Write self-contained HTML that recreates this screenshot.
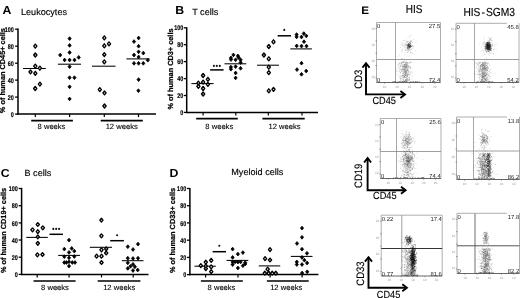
<!DOCTYPE html><html><head><meta charset="utf-8"><style>html,body{margin:0;padding:0;background:#fff;width:520px;height:298px;overflow:hidden}svg{display:block;filter:blur(0.45px)}text{font-family:"Liberation Sans",sans-serif;text-rendering:geometricPrecision}</style></head><body>
<svg width="520" height="298" viewBox="0 0 520 298">
<rect width="520" height="298" fill="#fff"/>
<line x1="18.0" y1="28.599999999999998" x2="18.0" y2="114.8" stroke="#000" stroke-width="1.5"/>
<line x1="17.3" y1="114.1" x2="156" y2="114.1" stroke="#000" stroke-width="1.5"/>
<line x1="15.1" y1="114.1" x2="18.0" y2="114.1" stroke="#000" stroke-width="1.3"/>
<text x="13.9" y="116.7" font-size="6.8" font-weight="bold" text-anchor="end" transform="translate(13.9,0) scale(0.8,1) translate(-13.9,0)" fill="#000" stroke="#000" stroke-width="0.15">0</text>
<line x1="15.1" y1="97.1" x2="18.0" y2="97.1" stroke="#000" stroke-width="1.3"/>
<text x="13.9" y="99.7" font-size="6.8" font-weight="bold" text-anchor="end" transform="translate(13.9,0) scale(0.8,1) translate(-13.9,0)" fill="#000" stroke="#000" stroke-width="0.15">20</text>
<line x1="15.1" y1="80.1" x2="18.0" y2="80.1" stroke="#000" stroke-width="1.3"/>
<text x="13.9" y="82.7" font-size="6.8" font-weight="bold" text-anchor="end" transform="translate(13.9,0) scale(0.8,1) translate(-13.9,0)" fill="#000" stroke="#000" stroke-width="0.15">40</text>
<line x1="15.1" y1="63.2" x2="18.0" y2="63.2" stroke="#000" stroke-width="1.3"/>
<text x="13.9" y="65.8" font-size="6.8" font-weight="bold" text-anchor="end" transform="translate(13.9,0) scale(0.8,1) translate(-13.9,0)" fill="#000" stroke="#000" stroke-width="0.15">60</text>
<line x1="15.1" y1="46.2" x2="18.0" y2="46.2" stroke="#000" stroke-width="1.3"/>
<text x="13.9" y="48.8" font-size="6.8" font-weight="bold" text-anchor="end" transform="translate(13.9,0) scale(0.8,1) translate(-13.9,0)" fill="#000" stroke="#000" stroke-width="0.15">80</text>
<line x1="15.1" y1="29.2" x2="18.0" y2="29.2" stroke="#000" stroke-width="1.3"/>
<text x="13.9" y="31.8" font-size="6.8" font-weight="bold" text-anchor="end" transform="translate(13.9,0) scale(0.8,1) translate(-13.9,0)" fill="#000" stroke="#000" stroke-width="0.15">100</text>
<line x1="35.3" y1="114.1" x2="35.3" y2="117.1" stroke="#000" stroke-width="1.2"/>
<line x1="69.6" y1="114.1" x2="69.6" y2="117.1" stroke="#000" stroke-width="1.2"/>
<line x1="104.3" y1="114.1" x2="104.3" y2="117.1" stroke="#000" stroke-width="1.2"/>
<line x1="138.5" y1="114.1" x2="138.5" y2="117.1" stroke="#000" stroke-width="1.2"/>
<line x1="31.2" y1="120.6" x2="72.9" y2="120.6" stroke="#000" stroke-width="1.7"/>
<text x="51.5" y="128.5" font-size="7.6" text-anchor="middle" fill="#000" stroke="#000" stroke-width="0.1">8 weeks</text>
<line x1="100.7" y1="120.6" x2="142.8" y2="120.6" stroke="#000" stroke-width="1.7"/>
<text x="121.7" y="128.5" font-size="7.6" text-anchor="middle" fill="#000" stroke="#000" stroke-width="0.1">12 weeks</text>
<text transform="translate(4.8,70.6) rotate(-90) scale(1.0,1)" font-size="7.35" font-weight="bold" text-anchor="middle" fill="#000" stroke="#000" stroke-width="0.22">% of human CD45+ cells</text>
<text transform="translate(2.6,14.0) scale(1.06,1)" font-size="11.6" font-weight="bold" fill="#000">A</text>
<text x="21" y="14.6" font-size="9.1" fill="#000" stroke="#000" stroke-width="0.15">Leukocytes</text>
<line x1="23" y1="68.5" x2="45.8" y2="68.5" stroke="#000" stroke-width="1.05"/>
<line x1="57.9" y1="64.2" x2="81" y2="64.2" stroke="#000" stroke-width="1.05"/>
<line x1="92" y1="66.2" x2="115.5" y2="66.2" stroke="#000" stroke-width="1.05"/>
<line x1="126.4" y1="58.9" x2="149.6" y2="58.9" stroke="#000" stroke-width="1.05"/>
<polygon points="35.3,44.1 36.9,46.1 35.3,48.1 33.7,46.1" fill="#fff" stroke="#000" stroke-width="1.35" stroke-linejoin="round"/>
<polygon points="35.3,53.0 36.9,55.0 35.3,57.0 33.7,55.0" fill="#fff" stroke="#000" stroke-width="1.35" stroke-linejoin="round"/>
<polygon points="35.3,64.2 36.9,66.2 35.3,68.2 33.7,66.2" fill="#fff" stroke="#000" stroke-width="1.35" stroke-linejoin="round"/>
<polygon points="39.9,66.2 41.5,68.2 39.9,70.2 38.3,68.2" fill="#fff" stroke="#000" stroke-width="1.35" stroke-linejoin="round"/>
<polygon points="30.5,70.0 32.1,71.9 30.5,73.9 28.9,71.9" fill="#fff" stroke="#000" stroke-width="1.35" stroke-linejoin="round"/>
<polygon points="35.3,71.3 36.9,73.3 35.3,75.2 33.7,73.3" fill="#fff" stroke="#000" stroke-width="1.35" stroke-linejoin="round"/>
<polygon points="39.9,82.1 41.5,84.1 39.9,86.0 38.3,84.1" fill="#fff" stroke="#000" stroke-width="1.35" stroke-linejoin="round"/>
<polygon points="35.2,86.5 36.8,88.5 35.2,90.5 33.6,88.5" fill="#fff" stroke="#000" stroke-width="1.35" stroke-linejoin="round"/>
<polygon points="104.3,35.9 105.9,37.9 104.3,39.9 102.7,37.9" fill="#fff" stroke="#000" stroke-width="1.35" stroke-linejoin="round"/>
<polygon points="104.3,43.8 105.9,45.8 104.3,47.8 102.7,45.8" fill="#fff" stroke="#000" stroke-width="1.35" stroke-linejoin="round"/>
<polygon points="109.0,41.9 110.6,43.9 109.0,45.9 107.4,43.9" fill="#fff" stroke="#000" stroke-width="1.35" stroke-linejoin="round"/>
<polygon points="104.3,52.8 105.9,54.7 104.3,56.7 102.7,54.7" fill="#fff" stroke="#000" stroke-width="1.35" stroke-linejoin="round"/>
<polygon points="104.3,59.9 105.9,61.9 104.3,63.9 102.7,61.9" fill="#fff" stroke="#000" stroke-width="1.35" stroke-linejoin="round"/>
<polygon points="99.8,87.6 101.4,89.6 99.8,91.5 98.2,89.6" fill="#fff" stroke="#000" stroke-width="1.35" stroke-linejoin="round"/>
<polygon points="104.5,91.0 106.1,92.9 104.5,94.9 102.9,92.9" fill="#fff" stroke="#000" stroke-width="1.35" stroke-linejoin="round"/>
<polygon points="104.5,104.0 106.1,106.0 104.5,108.0 102.9,106.0" fill="#fff" stroke="#000" stroke-width="1.35" stroke-linejoin="round"/>
<polygon points="69.6,36.7 71.2,38.6 69.6,40.5 68.0,38.6" fill="#000" stroke="#000" stroke-width="0.8" stroke-linejoin="round"/>
<polygon points="69.6,43.5 71.2,45.4 69.6,47.3 68.0,45.4" fill="#000" stroke="#000" stroke-width="0.8" stroke-linejoin="round"/>
<polygon points="69.6,50.6 71.2,52.5 69.6,54.4 68.0,52.5" fill="#000" stroke="#000" stroke-width="0.8" stroke-linejoin="round"/>
<polygon points="60.2,53.2 61.8,55.1 60.2,57.0 58.6,55.1" fill="#000" stroke="#000" stroke-width="0.8" stroke-linejoin="round"/>
<polygon points="64.6,58.1 66.2,60.0 64.6,61.9 63.0,60.0" fill="#000" stroke="#000" stroke-width="0.8" stroke-linejoin="round"/>
<polygon points="69.6,58.1 71.2,60.0 69.6,61.9 68.0,60.0" fill="#000" stroke="#000" stroke-width="0.8" stroke-linejoin="round"/>
<polygon points="74.5,58.1 76.1,60.0 74.5,61.9 72.9,60.0" fill="#000" stroke="#000" stroke-width="0.8" stroke-linejoin="round"/>
<polygon points="78.7,55.5 80.3,57.4 78.7,59.3 77.1,57.4" fill="#000" stroke="#000" stroke-width="0.8" stroke-linejoin="round"/>
<polygon points="69.6,64.8 71.2,66.7 69.6,68.6 68.0,66.7" fill="#000" stroke="#000" stroke-width="0.8" stroke-linejoin="round"/>
<polygon points="69.6,75.8 71.2,77.7 69.6,79.6 68.0,77.7" fill="#000" stroke="#000" stroke-width="0.8" stroke-linejoin="round"/>
<polygon points="74.4,75.8 76.0,77.7 74.4,79.6 72.8,77.7" fill="#000" stroke="#000" stroke-width="0.8" stroke-linejoin="round"/>
<polygon points="69.6,84.9 71.2,86.8 69.6,88.7 68.0,86.8" fill="#000" stroke="#000" stroke-width="0.8" stroke-linejoin="round"/>
<polygon points="69.6,97.0 71.2,98.9 69.6,100.8 68.0,98.9" fill="#000" stroke="#000" stroke-width="0.8" stroke-linejoin="round"/>
<polygon points="138.6,36.1 140.2,38.0 138.6,39.9 137.0,38.0" fill="#000" stroke="#000" stroke-width="0.8" stroke-linejoin="round"/>
<polygon points="134.0,39.7 135.6,41.6 134.0,43.5 132.4,41.6" fill="#000" stroke="#000" stroke-width="0.8" stroke-linejoin="round"/>
<polygon points="138.6,44.3 140.2,46.2 138.6,48.1 137.0,46.2" fill="#000" stroke="#000" stroke-width="0.8" stroke-linejoin="round"/>
<polygon points="138.6,49.9 140.2,51.8 138.6,53.7 137.0,51.8" fill="#000" stroke="#000" stroke-width="0.8" stroke-linejoin="round"/>
<polygon points="143.3,51.2 144.9,53.1 143.3,55.0 141.7,53.1" fill="#000" stroke="#000" stroke-width="0.8" stroke-linejoin="round"/>
<polygon points="134.0,53.1 135.6,55.0 134.0,56.9 132.4,55.0" fill="#000" stroke="#000" stroke-width="0.8" stroke-linejoin="round"/>
<polygon points="138.6,55.1 140.2,57.0 138.6,58.9 137.0,57.0" fill="#000" stroke="#000" stroke-width="0.8" stroke-linejoin="round"/>
<polygon points="147.8,58.3 149.4,60.2 147.8,62.1 146.2,60.2" fill="#000" stroke="#000" stroke-width="0.8" stroke-linejoin="round"/>
<polygon points="134.0,61.4 135.6,63.3 134.0,65.2 132.4,63.3" fill="#000" stroke="#000" stroke-width="0.8" stroke-linejoin="round"/>
<polygon points="138.6,61.4 140.2,63.3 138.6,65.2 137.0,63.3" fill="#000" stroke="#000" stroke-width="0.8" stroke-linejoin="round"/>
<polygon points="143.3,61.4 144.9,63.3 143.3,65.2 141.7,63.3" fill="#000" stroke="#000" stroke-width="0.8" stroke-linejoin="round"/>
<polygon points="138.6,77.7 140.2,79.6 138.6,81.5 137.0,79.6" fill="#000" stroke="#000" stroke-width="0.8" stroke-linejoin="round"/>
<polygon points="138.4,88.8 140.0,90.7 138.4,92.6 136.8,90.7" fill="#000" stroke="#000" stroke-width="0.8" stroke-linejoin="round"/>
<line x1="186.7" y1="27.2" x2="186.7" y2="113.10000000000001" stroke="#000" stroke-width="1.5"/>
<line x1="186.0" y1="112.4" x2="318" y2="112.4" stroke="#000" stroke-width="1.5"/>
<line x1="183.79999999999998" y1="112.4" x2="186.7" y2="112.4" stroke="#000" stroke-width="1.3"/>
<text x="183.4" y="115.0" font-size="6.8" font-weight="bold" text-anchor="end" transform="translate(183.4,0) scale(0.8,1) translate(-183.4,0)" fill="#000" stroke="#000" stroke-width="0.15">0</text>
<line x1="183.79999999999998" y1="95.5" x2="186.7" y2="95.5" stroke="#000" stroke-width="1.3"/>
<text x="183.4" y="98.1" font-size="6.8" font-weight="bold" text-anchor="end" transform="translate(183.4,0) scale(0.8,1) translate(-183.4,0)" fill="#000" stroke="#000" stroke-width="0.15">20</text>
<line x1="183.79999999999998" y1="78.6" x2="186.7" y2="78.6" stroke="#000" stroke-width="1.3"/>
<text x="183.4" y="81.2" font-size="6.8" font-weight="bold" text-anchor="end" transform="translate(183.4,0) scale(0.8,1) translate(-183.4,0)" fill="#000" stroke="#000" stroke-width="0.15">40</text>
<line x1="183.79999999999998" y1="61.6" x2="186.7" y2="61.6" stroke="#000" stroke-width="1.3"/>
<text x="183.4" y="64.2" font-size="6.8" font-weight="bold" text-anchor="end" transform="translate(183.4,0) scale(0.8,1) translate(-183.4,0)" fill="#000" stroke="#000" stroke-width="0.15">60</text>
<line x1="183.79999999999998" y1="44.7" x2="186.7" y2="44.7" stroke="#000" stroke-width="1.3"/>
<text x="183.4" y="47.3" font-size="6.8" font-weight="bold" text-anchor="end" transform="translate(183.4,0) scale(0.8,1) translate(-183.4,0)" fill="#000" stroke="#000" stroke-width="0.15">80</text>
<line x1="183.79999999999998" y1="27.8" x2="186.7" y2="27.8" stroke="#000" stroke-width="1.3"/>
<text x="183.4" y="30.4" font-size="6.8" font-weight="bold" text-anchor="end" transform="translate(183.4,0) scale(0.8,1) translate(-183.4,0)" fill="#000" stroke="#000" stroke-width="0.15">100</text>
<line x1="203.1" y1="112.4" x2="203.1" y2="115.4" stroke="#000" stroke-width="1.2"/>
<line x1="235.8" y1="112.4" x2="235.8" y2="115.4" stroke="#000" stroke-width="1.2"/>
<line x1="268.3" y1="112.4" x2="268.3" y2="115.4" stroke="#000" stroke-width="1.2"/>
<line x1="302.0" y1="112.4" x2="302.0" y2="115.4" stroke="#000" stroke-width="1.2"/>
<line x1="196.2" y1="118.7" x2="237.8" y2="118.7" stroke="#000" stroke-width="1.7"/>
<text x="219.3" y="128.8" font-size="7.6" text-anchor="middle" fill="#000" stroke="#000" stroke-width="0.1">8 weeks</text>
<line x1="262.4" y1="118.7" x2="304.7" y2="118.7" stroke="#000" stroke-width="1.7"/>
<text x="284.5" y="128.8" font-size="7.6" text-anchor="middle" fill="#000" stroke="#000" stroke-width="0.1">12 weeks</text>
<text transform="translate(173.4,69.0) rotate(-90) scale(1.0,1)" font-size="7.35" font-weight="bold" text-anchor="middle" fill="#000" stroke="#000" stroke-width="0.22">% of human CD3+ cells</text>
<text transform="translate(175.3,13.7) scale(1.06,1)" font-size="11.6" font-weight="bold" fill="#000">B</text>
<text x="192.2" y="14.5" font-size="9.1" fill="#000" stroke="#000" stroke-width="0.15">T cells</text>
<line x1="191.4" y1="83.6" x2="213.6" y2="83.6" stroke="#000" stroke-width="1.05"/>
<line x1="224.5" y1="63.8" x2="246.3" y2="63.8" stroke="#000" stroke-width="1.05"/>
<line x1="257.1" y1="65.2" x2="278.9" y2="65.2" stroke="#000" stroke-width="1.05"/>
<line x1="290.3" y1="48.9" x2="311.9" y2="48.9" stroke="#000" stroke-width="1.05"/>
<line x1="210.1" y1="69.9" x2="223.6" y2="69.9" stroke="#000" stroke-width="1.5"/>
<circle cx="213.9" cy="65.9" r="1.05" fill="#111"/>
<circle cx="216.8" cy="65.9" r="1.05" fill="#111"/>
<circle cx="219.8" cy="65.9" r="1.05" fill="#111"/>
<line x1="277.6" y1="35.8" x2="291.0" y2="35.8" stroke="#000" stroke-width="1.5"/>
<circle cx="284.3" cy="29.9" r="1.05" fill="#111"/>
<polygon points="203.1,73.5 204.7,75.5 203.1,77.5 201.5,75.5" fill="#fff" stroke="#000" stroke-width="1.35" stroke-linejoin="round"/>
<polygon points="207.9,77.3 209.5,79.3 207.9,81.2 206.3,79.3" fill="#fff" stroke="#000" stroke-width="1.35" stroke-linejoin="round"/>
<polygon points="203.1,80.1 204.7,82.1 203.1,84.0 201.5,82.1" fill="#fff" stroke="#000" stroke-width="1.35" stroke-linejoin="round"/>
<polygon points="198.4,81.1 200.0,83.1 198.4,85.0 196.8,83.1" fill="#fff" stroke="#000" stroke-width="1.35" stroke-linejoin="round"/>
<polygon points="207.9,82.5 209.5,84.4 207.9,86.4 206.3,84.4" fill="#fff" stroke="#000" stroke-width="1.35" stroke-linejoin="round"/>
<polygon points="198.4,84.3 200.0,86.3 198.4,88.2 196.8,86.3" fill="#fff" stroke="#000" stroke-width="1.35" stroke-linejoin="round"/>
<polygon points="203.1,86.5 204.7,88.5 203.1,90.5 201.5,88.5" fill="#fff" stroke="#000" stroke-width="1.35" stroke-linejoin="round"/>
<polygon points="203.1,92.0 204.7,94.0 203.1,96.0 201.5,94.0" fill="#fff" stroke="#000" stroke-width="1.35" stroke-linejoin="round"/>
<polygon points="273.5,39.8 275.1,41.8 273.5,43.8 271.9,41.8" fill="#fff" stroke="#000" stroke-width="1.35" stroke-linejoin="round"/>
<polygon points="268.8,44.5 270.4,46.5 268.8,48.5 267.2,46.5" fill="#fff" stroke="#000" stroke-width="1.35" stroke-linejoin="round"/>
<polygon points="263.9,53.0 265.5,55.0 263.9,57.0 262.3,55.0" fill="#fff" stroke="#000" stroke-width="1.35" stroke-linejoin="round"/>
<polygon points="268.8,56.8 270.4,58.8 268.8,60.8 267.2,58.8" fill="#fff" stroke="#000" stroke-width="1.35" stroke-linejoin="round"/>
<polygon points="268.8,65.2 270.4,67.2 268.8,69.2 267.2,67.2" fill="#fff" stroke="#000" stroke-width="1.35" stroke-linejoin="round"/>
<polygon points="268.8,70.6 270.4,72.6 268.8,74.5 267.2,72.6" fill="#fff" stroke="#000" stroke-width="1.35" stroke-linejoin="round"/>
<polygon points="273.5,87.5 275.1,89.4 273.5,91.4 271.9,89.4" fill="#fff" stroke="#000" stroke-width="1.35" stroke-linejoin="round"/>
<polygon points="268.8,88.8 270.4,90.8 268.8,92.8 267.2,90.8" fill="#fff" stroke="#000" stroke-width="1.35" stroke-linejoin="round"/>
<polygon points="233.4,53.0 235.0,54.9 233.4,56.8 231.8,54.9" fill="#000" stroke="#000" stroke-width="0.8" stroke-linejoin="round"/>
<polygon points="237.9,54.0 239.5,55.9 237.9,57.8 236.3,55.9" fill="#000" stroke="#000" stroke-width="0.8" stroke-linejoin="round"/>
<polygon points="230.9,56.0 232.5,57.9 230.9,59.8 229.3,57.9" fill="#000" stroke="#000" stroke-width="0.8" stroke-linejoin="round"/>
<polygon points="238.6,55.7 240.2,57.6 238.6,59.5 237.0,57.6" fill="#000" stroke="#000" stroke-width="0.8" stroke-linejoin="round"/>
<polygon points="231.0,57.7 232.6,59.6 231.0,61.5 229.4,59.6" fill="#000" stroke="#000" stroke-width="0.8" stroke-linejoin="round"/>
<polygon points="235.6,57.9 237.2,59.8 235.6,61.7 234.0,59.8" fill="#000" stroke="#000" stroke-width="0.8" stroke-linejoin="round"/>
<polygon points="240.6,57.9 242.2,59.8 240.6,61.7 239.0,59.8" fill="#000" stroke="#000" stroke-width="0.8" stroke-linejoin="round"/>
<polygon points="240.6,60.6 242.2,62.5 240.6,64.4 239.0,62.5" fill="#000" stroke="#000" stroke-width="0.8" stroke-linejoin="round"/>
<polygon points="230.9,65.2 232.5,67.1 230.9,69.0 229.3,67.1" fill="#000" stroke="#000" stroke-width="0.8" stroke-linejoin="round"/>
<polygon points="230.9,67.3 232.5,69.2 230.9,71.1 229.3,69.2" fill="#000" stroke="#000" stroke-width="0.8" stroke-linejoin="round"/>
<polygon points="235.6,64.7 237.2,66.6 235.6,68.5 234.0,66.6" fill="#000" stroke="#000" stroke-width="0.8" stroke-linejoin="round"/>
<polygon points="240.6,66.4 242.2,68.3 240.6,70.2 239.0,68.3" fill="#000" stroke="#000" stroke-width="0.8" stroke-linejoin="round"/>
<polygon points="235.6,71.1 237.2,73.0 235.6,74.9 234.0,73.0" fill="#000" stroke="#000" stroke-width="0.8" stroke-linejoin="round"/>
<polygon points="235.6,76.0 237.2,77.9 235.6,79.8 234.0,77.9" fill="#000" stroke="#000" stroke-width="0.8" stroke-linejoin="round"/>
<polygon points="296.6,32.7 298.2,34.6 296.6,36.5 295.0,34.6" fill="#000" stroke="#000" stroke-width="0.8" stroke-linejoin="round"/>
<polygon points="296.6,35.0 298.2,36.9 296.6,38.8 295.0,36.9" fill="#000" stroke="#000" stroke-width="0.8" stroke-linejoin="round"/>
<polygon points="301.5,35.1 303.1,37.0 301.5,38.9 299.9,37.0" fill="#000" stroke="#000" stroke-width="0.8" stroke-linejoin="round"/>
<polygon points="303.8,31.7 305.4,33.6 303.8,35.5 302.2,33.6" fill="#000" stroke="#000" stroke-width="0.8" stroke-linejoin="round"/>
<polygon points="306.3,34.0 307.9,35.9 306.3,37.8 304.7,35.9" fill="#000" stroke="#000" stroke-width="0.8" stroke-linejoin="round"/>
<polygon points="304.0,39.8 305.6,41.7 304.0,43.6 302.4,41.7" fill="#000" stroke="#000" stroke-width="0.8" stroke-linejoin="round"/>
<polygon points="296.7,44.0 298.3,45.9 296.7,47.8 295.1,45.9" fill="#000" stroke="#000" stroke-width="0.8" stroke-linejoin="round"/>
<polygon points="301.5,44.2 303.1,46.1 301.5,48.0 299.9,46.1" fill="#000" stroke="#000" stroke-width="0.8" stroke-linejoin="round"/>
<polygon points="306.5,44.2 308.1,46.1 306.5,48.0 304.9,46.1" fill="#000" stroke="#000" stroke-width="0.8" stroke-linejoin="round"/>
<polygon points="301.5,61.3 303.1,63.2 301.5,65.1 299.9,63.2" fill="#000" stroke="#000" stroke-width="0.8" stroke-linejoin="round"/>
<polygon points="297.0,67.7 298.6,69.6 297.0,71.5 295.4,69.6" fill="#000" stroke="#000" stroke-width="0.8" stroke-linejoin="round"/>
<polygon points="306.2,69.1 307.8,71.0 306.2,72.9 304.6,71.0" fill="#000" stroke="#000" stroke-width="0.8" stroke-linejoin="round"/>
<polygon points="301.5,72.4 303.1,74.3 301.5,76.2 299.9,74.3" fill="#000" stroke="#000" stroke-width="0.8" stroke-linejoin="round"/>
<line x1="21.6" y1="187.9" x2="21.6" y2="275.09999999999997" stroke="#000" stroke-width="1.5"/>
<line x1="20.900000000000002" y1="274.4" x2="148.5" y2="274.4" stroke="#000" stroke-width="1.5"/>
<line x1="18.700000000000003" y1="274.4" x2="21.6" y2="274.4" stroke="#000" stroke-width="1.3"/>
<text x="17.9" y="277.0" font-size="6.8" font-weight="bold" text-anchor="end" transform="translate(17.9,0) scale(0.8,1) translate(-17.9,0)" fill="#000" stroke="#000" stroke-width="0.15">0</text>
<line x1="18.700000000000003" y1="257.2" x2="21.6" y2="257.2" stroke="#000" stroke-width="1.3"/>
<text x="17.9" y="259.8" font-size="6.8" font-weight="bold" text-anchor="end" transform="translate(17.9,0) scale(0.8,1) translate(-17.9,0)" fill="#000" stroke="#000" stroke-width="0.15">20</text>
<line x1="18.700000000000003" y1="240.0" x2="21.6" y2="240.0" stroke="#000" stroke-width="1.3"/>
<text x="17.9" y="242.6" font-size="6.8" font-weight="bold" text-anchor="end" transform="translate(17.9,0) scale(0.8,1) translate(-17.9,0)" fill="#000" stroke="#000" stroke-width="0.15">40</text>
<line x1="18.700000000000003" y1="222.9" x2="21.6" y2="222.9" stroke="#000" stroke-width="1.3"/>
<text x="17.9" y="225.5" font-size="6.8" font-weight="bold" text-anchor="end" transform="translate(17.9,0) scale(0.8,1) translate(-17.9,0)" fill="#000" stroke="#000" stroke-width="0.15">60</text>
<line x1="18.700000000000003" y1="205.7" x2="21.6" y2="205.7" stroke="#000" stroke-width="1.3"/>
<text x="17.9" y="208.3" font-size="6.8" font-weight="bold" text-anchor="end" transform="translate(17.9,0) scale(0.8,1) translate(-17.9,0)" fill="#000" stroke="#000" stroke-width="0.15">80</text>
<line x1="18.700000000000003" y1="188.5" x2="21.6" y2="188.5" stroke="#000" stroke-width="1.3"/>
<text x="17.9" y="191.1" font-size="6.8" font-weight="bold" text-anchor="end" transform="translate(17.9,0) scale(0.8,1) translate(-17.9,0)" fill="#000" stroke="#000" stroke-width="0.15">100</text>
<line x1="37.2" y1="274.4" x2="37.2" y2="277.4" stroke="#000" stroke-width="1.2"/>
<line x1="69.1" y1="274.4" x2="69.1" y2="277.4" stroke="#000" stroke-width="1.2"/>
<line x1="101.5" y1="274.4" x2="101.5" y2="277.4" stroke="#000" stroke-width="1.2"/>
<line x1="133.2" y1="274.4" x2="133.2" y2="277.4" stroke="#000" stroke-width="1.2"/>
<line x1="33.5" y1="281.0" x2="75.6" y2="281.0" stroke="#000" stroke-width="1.7"/>
<text x="55.0" y="289.9" font-size="7.6" text-anchor="middle" fill="#000" stroke="#000" stroke-width="0.1">8 weeks</text>
<line x1="97.7" y1="281.0" x2="140.4" y2="281.0" stroke="#000" stroke-width="1.7"/>
<text x="119.2" y="289.9" font-size="7.6" text-anchor="middle" fill="#000" stroke="#000" stroke-width="0.1">12 weeks</text>
<text transform="translate(5.6,230.4) rotate(-90) scale(1.0,1)" font-size="7.35" font-weight="bold" text-anchor="middle" fill="#000" stroke="#000" stroke-width="0.22">% of human CD19+ cells</text>
<text transform="translate(0.8,177.0) scale(1.06,1)" font-size="11.6" font-weight="bold" fill="#000">C</text>
<text x="24.5" y="175.5" font-size="9.1" fill="#000" stroke="#000" stroke-width="0.15">B cells</text>
<line x1="26.3" y1="237.4" x2="47.8" y2="237.4" stroke="#000" stroke-width="1.05"/>
<line x1="58.2" y1="255.4" x2="80.0" y2="255.4" stroke="#000" stroke-width="1.05"/>
<line x1="89.8" y1="247.3" x2="112.0" y2="247.3" stroke="#000" stroke-width="1.05"/>
<line x1="121.8" y1="260.7" x2="143.5" y2="260.7" stroke="#000" stroke-width="1.05"/>
<line x1="49.5" y1="234.3" x2="62.9" y2="234.3" stroke="#000" stroke-width="1.5"/>
<circle cx="53.3" cy="228.9" r="1.05" fill="#111"/>
<circle cx="56.2" cy="228.9" r="1.05" fill="#111"/>
<circle cx="59.1" cy="228.9" r="1.05" fill="#111"/>
<line x1="110.2" y1="240.7" x2="123.9" y2="240.7" stroke="#000" stroke-width="1.5"/>
<circle cx="117.1" cy="235.3" r="1.05" fill="#111"/>
<polygon points="37.8,222.6 39.4,224.5 37.8,226.4 36.2,224.5" fill="#fff" stroke="#000" stroke-width="1.35" stroke-linejoin="round"/>
<polygon points="42.8,225.9 44.4,227.8 42.8,229.8 41.2,227.8" fill="#fff" stroke="#000" stroke-width="1.35" stroke-linejoin="round"/>
<polygon points="32.5,227.9 34.1,229.8 32.5,231.8 30.9,229.8" fill="#fff" stroke="#000" stroke-width="1.35" stroke-linejoin="round"/>
<polygon points="37.8,229.7 39.4,231.6 37.8,233.5 36.2,231.6" fill="#fff" stroke="#000" stroke-width="1.35" stroke-linejoin="round"/>
<polygon points="37.8,235.0 39.4,236.9 37.8,238.8 36.2,236.9" fill="#fff" stroke="#000" stroke-width="1.35" stroke-linejoin="round"/>
<polygon points="37.8,241.4 39.4,243.3 37.8,245.2 36.2,243.3" fill="#fff" stroke="#000" stroke-width="1.35" stroke-linejoin="round"/>
<polygon points="37.4,252.9 39.0,254.8 37.4,256.8 35.8,254.8" fill="#fff" stroke="#000" stroke-width="1.35" stroke-linejoin="round"/>
<polygon points="42.5,252.6 44.1,254.5 42.5,256.4 40.9,254.5" fill="#fff" stroke="#000" stroke-width="1.35" stroke-linejoin="round"/>
<polygon points="101.4,218.2 103.0,220.1 101.4,222.0 99.8,220.1" fill="#fff" stroke="#000" stroke-width="1.35" stroke-linejoin="round"/>
<polygon points="101.4,233.9 103.0,235.8 101.4,237.8 99.8,235.8" fill="#fff" stroke="#000" stroke-width="1.35" stroke-linejoin="round"/>
<polygon points="101.5,247.9 103.1,249.8 101.5,251.8 99.9,249.8" fill="#fff" stroke="#000" stroke-width="1.35" stroke-linejoin="round"/>
<polygon points="106.2,247.0 107.8,248.9 106.2,250.8 104.6,248.9" fill="#fff" stroke="#000" stroke-width="1.35" stroke-linejoin="round"/>
<polygon points="106.2,251.1 107.8,253.0 106.2,254.9 104.6,253.0" fill="#fff" stroke="#000" stroke-width="1.35" stroke-linejoin="round"/>
<polygon points="96.6,254.2 98.2,256.2 96.6,258.1 95.0,256.2" fill="#fff" stroke="#000" stroke-width="1.35" stroke-linejoin="round"/>
<polygon points="101.5,254.2 103.1,256.2 101.5,258.1 99.9,256.2" fill="#fff" stroke="#000" stroke-width="1.35" stroke-linejoin="round"/>
<polygon points="101.5,260.6 103.1,262.5 101.5,264.4 99.9,262.5" fill="#fff" stroke="#000" stroke-width="1.35" stroke-linejoin="round"/>
<polygon points="69.0,238.2 70.6,240.1 69.0,242.0 67.4,240.1" fill="#000" stroke="#000" stroke-width="0.8" stroke-linejoin="round"/>
<polygon points="64.3,247.2 65.9,249.1 64.3,251.0 62.7,249.1" fill="#000" stroke="#000" stroke-width="0.8" stroke-linejoin="round"/>
<polygon points="71.7,246.5 73.3,248.4 71.7,250.3 70.1,248.4" fill="#000" stroke="#000" stroke-width="0.8" stroke-linejoin="round"/>
<polygon points="74.3,249.2 75.9,251.1 74.3,253.0 72.7,251.1" fill="#000" stroke="#000" stroke-width="0.8" stroke-linejoin="round"/>
<polygon points="69.0,250.5 70.6,252.4 69.0,254.3 67.4,252.4" fill="#000" stroke="#000" stroke-width="0.8" stroke-linejoin="round"/>
<polygon points="64.3,254.8 65.9,256.7 64.3,258.6 62.7,256.7" fill="#000" stroke="#000" stroke-width="0.8" stroke-linejoin="round"/>
<polygon points="69.0,255.9 70.6,257.8 69.0,259.7 67.4,257.8" fill="#000" stroke="#000" stroke-width="0.8" stroke-linejoin="round"/>
<polygon points="74.3,254.6 75.9,256.5 74.3,258.4 72.7,256.5" fill="#000" stroke="#000" stroke-width="0.8" stroke-linejoin="round"/>
<polygon points="64.3,260.6 65.9,262.5 64.3,264.4 62.7,262.5" fill="#000" stroke="#000" stroke-width="0.8" stroke-linejoin="round"/>
<polygon points="66.4,260.6 68.0,262.5 66.4,264.4 64.8,262.5" fill="#000" stroke="#000" stroke-width="0.8" stroke-linejoin="round"/>
<polygon points="69.0,259.9 70.6,261.8 69.0,263.7 67.4,261.8" fill="#000" stroke="#000" stroke-width="0.8" stroke-linejoin="round"/>
<polygon points="72.3,260.6 73.9,262.5 72.3,264.4 70.7,262.5" fill="#000" stroke="#000" stroke-width="0.8" stroke-linejoin="round"/>
<polygon points="75.0,260.6 76.6,262.5 75.0,264.4 73.4,262.5" fill="#000" stroke="#000" stroke-width="0.8" stroke-linejoin="round"/>
<polygon points="69.0,264.2 70.6,266.1 69.0,268.0 67.4,266.1" fill="#000" stroke="#000" stroke-width="0.8" stroke-linejoin="round"/>
<polygon points="127.8,244.8 129.4,246.7 127.8,248.6 126.2,246.7" fill="#000" stroke="#000" stroke-width="0.8" stroke-linejoin="round"/>
<polygon points="133.0,247.6 134.6,249.5 133.0,251.4 131.4,249.5" fill="#000" stroke="#000" stroke-width="0.8" stroke-linejoin="round"/>
<polygon points="138.0,242.2 139.6,244.1 138.0,246.0 136.4,244.1" fill="#000" stroke="#000" stroke-width="0.8" stroke-linejoin="round"/>
<polygon points="127.8,256.3 129.4,258.2 127.8,260.1 126.2,258.2" fill="#000" stroke="#000" stroke-width="0.8" stroke-linejoin="round"/>
<polygon points="133.0,256.6 134.6,258.5 133.0,260.4 131.4,258.5" fill="#000" stroke="#000" stroke-width="0.8" stroke-linejoin="round"/>
<polygon points="138.0,256.3 139.6,258.2 138.0,260.1 136.4,258.2" fill="#000" stroke="#000" stroke-width="0.8" stroke-linejoin="round"/>
<polygon points="127.8,260.9 129.4,262.8 127.8,264.7 126.2,262.8" fill="#000" stroke="#000" stroke-width="0.8" stroke-linejoin="round"/>
<polygon points="133.0,262.4 134.6,264.3 133.0,266.2 131.4,264.3" fill="#000" stroke="#000" stroke-width="0.8" stroke-linejoin="round"/>
<polygon points="130.5,264.4 132.1,266.3 130.5,268.2 128.9,266.3" fill="#000" stroke="#000" stroke-width="0.8" stroke-linejoin="round"/>
<polygon points="127.8,266.5 129.4,268.4 127.8,270.3 126.2,268.4" fill="#000" stroke="#000" stroke-width="0.8" stroke-linejoin="round"/>
<polygon points="134.9,264.9 136.5,266.8 134.9,268.7 133.3,266.8" fill="#000" stroke="#000" stroke-width="0.8" stroke-linejoin="round"/>
<polygon points="133.0,268.6 134.6,270.5 133.0,272.4 131.4,270.5" fill="#000" stroke="#000" stroke-width="0.8" stroke-linejoin="round"/>
<polygon points="137.7,268.1 139.3,270.0 137.7,271.9 136.1,270.0" fill="#000" stroke="#000" stroke-width="0.8" stroke-linejoin="round"/>
<line x1="189.9" y1="187.9" x2="189.9" y2="275.3" stroke="#000" stroke-width="1.5"/>
<line x1="189.20000000000002" y1="274.6" x2="318.4" y2="274.6" stroke="#000" stroke-width="1.5"/>
<line x1="187.0" y1="274.6" x2="189.9" y2="274.6" stroke="#000" stroke-width="1.3"/>
<text x="186.2" y="277.2" font-size="6.8" font-weight="bold" text-anchor="end" transform="translate(186.2,0) scale(0.8,1) translate(-186.2,0)" fill="#000" stroke="#000" stroke-width="0.15">0</text>
<line x1="187.0" y1="257.4" x2="189.9" y2="257.4" stroke="#000" stroke-width="1.3"/>
<text x="186.2" y="260.0" font-size="6.8" font-weight="bold" text-anchor="end" transform="translate(186.2,0) scale(0.8,1) translate(-186.2,0)" fill="#000" stroke="#000" stroke-width="0.15">20</text>
<line x1="187.0" y1="240.2" x2="189.9" y2="240.2" stroke="#000" stroke-width="1.3"/>
<text x="186.2" y="242.8" font-size="6.8" font-weight="bold" text-anchor="end" transform="translate(186.2,0) scale(0.8,1) translate(-186.2,0)" fill="#000" stroke="#000" stroke-width="0.15">40</text>
<line x1="187.0" y1="222.9" x2="189.9" y2="222.9" stroke="#000" stroke-width="1.3"/>
<text x="186.2" y="225.5" font-size="6.8" font-weight="bold" text-anchor="end" transform="translate(186.2,0) scale(0.8,1) translate(-186.2,0)" fill="#000" stroke="#000" stroke-width="0.15">60</text>
<line x1="187.0" y1="205.7" x2="189.9" y2="205.7" stroke="#000" stroke-width="1.3"/>
<text x="186.2" y="208.3" font-size="6.8" font-weight="bold" text-anchor="end" transform="translate(186.2,0) scale(0.8,1) translate(-186.2,0)" fill="#000" stroke="#000" stroke-width="0.15">80</text>
<line x1="187.0" y1="188.5" x2="189.9" y2="188.5" stroke="#000" stroke-width="1.3"/>
<text x="186.2" y="191.1" font-size="6.8" font-weight="bold" text-anchor="end" transform="translate(186.2,0) scale(0.8,1) translate(-186.2,0)" fill="#000" stroke="#000" stroke-width="0.15">100</text>
<line x1="205.6" y1="274.6" x2="205.6" y2="277.6" stroke="#000" stroke-width="1.2"/>
<line x1="238.0" y1="274.6" x2="238.0" y2="277.6" stroke="#000" stroke-width="1.2"/>
<line x1="270.1" y1="274.6" x2="270.1" y2="277.6" stroke="#000" stroke-width="1.2"/>
<line x1="302.1" y1="274.6" x2="302.1" y2="277.6" stroke="#000" stroke-width="1.2"/>
<line x1="200.9" y1="281.0" x2="242.8" y2="281.0" stroke="#000" stroke-width="1.7"/>
<text x="221.5" y="289.9" font-size="7.6" text-anchor="middle" fill="#000" stroke="#000" stroke-width="0.1">8 weeks</text>
<line x1="266.9" y1="281.0" x2="308.7" y2="281.0" stroke="#000" stroke-width="1.7"/>
<text x="286.2" y="289.9" font-size="7.6" text-anchor="middle" fill="#000" stroke="#000" stroke-width="0.1">12 weeks</text>
<text transform="translate(174.8,230.5) rotate(-90) scale(1.0,1)" font-size="7.35" font-weight="bold" text-anchor="middle" fill="#000" stroke="#000" stroke-width="0.22">% of human CD33+ cells</text>
<text transform="translate(169.6,177.0) scale(1.06,1)" font-size="11.6" font-weight="bold" fill="#000">D</text>
<text x="231.3" y="175.4" font-size="9.1" fill="#000" stroke="#000" stroke-width="0.15">Myeloid cells</text>
<line x1="194.5" y1="266.2" x2="215.8" y2="266.2" stroke="#000" stroke-width="1.05"/>
<line x1="226.5" y1="260.4" x2="248.3" y2="260.4" stroke="#000" stroke-width="1.05"/>
<line x1="258.8" y1="265.9" x2="280.2" y2="265.9" stroke="#000" stroke-width="1.05"/>
<line x1="290.8" y1="256.4" x2="312.5" y2="256.4" stroke="#000" stroke-width="1.05"/>
<line x1="212.6" y1="251.7" x2="226.0" y2="251.7" stroke="#000" stroke-width="1.5"/>
<circle cx="219.3" cy="245.8" r="1.05" fill="#111"/>
<polygon points="211.2,258.4 212.8,260.4 211.2,262.3 209.6,260.4" fill="#fff" stroke="#000" stroke-width="1.35" stroke-linejoin="round"/>
<polygon points="205.8,260.2 207.4,262.1 205.8,264.1 204.2,262.1" fill="#fff" stroke="#000" stroke-width="1.35" stroke-linejoin="round"/>
<polygon points="200.8,263.7 202.4,265.6 200.8,267.6 199.2,265.6" fill="#fff" stroke="#000" stroke-width="1.35" stroke-linejoin="round"/>
<polygon points="211.2,264.9 212.8,266.8 211.2,268.8 209.6,266.8" fill="#fff" stroke="#000" stroke-width="1.35" stroke-linejoin="round"/>
<polygon points="205.8,266.7 207.4,268.6 205.8,270.6 204.2,268.6" fill="#fff" stroke="#000" stroke-width="1.35" stroke-linejoin="round"/>
<polygon points="211.2,269.7 212.8,271.6 211.2,273.6 209.6,271.6" fill="#fff" stroke="#000" stroke-width="1.35" stroke-linejoin="round"/>
<polygon points="205.8,264.1 207.4,266.0 205.8,267.9 204.2,266.0" fill="#fff" stroke="#000" stroke-width="1.35" stroke-linejoin="round"/>
<polygon points="270.0,247.7 271.6,249.6 270.0,251.5 268.4,249.6" fill="#fff" stroke="#000" stroke-width="1.35" stroke-linejoin="round"/>
<polygon points="265.1,256.7 266.7,258.6 265.1,260.6 263.5,258.6" fill="#fff" stroke="#000" stroke-width="1.35" stroke-linejoin="round"/>
<polygon points="270.0,258.1 271.6,260.0 270.0,261.9 268.4,260.0" fill="#fff" stroke="#000" stroke-width="1.35" stroke-linejoin="round"/>
<polygon points="267.7,267.2 269.3,269.2 267.7,271.1 266.1,269.2" fill="#fff" stroke="#000" stroke-width="1.35" stroke-linejoin="round"/>
<polygon points="264.8,271.2 266.4,273.1 264.8,275.1 263.2,273.1" fill="#fff" stroke="#000" stroke-width="1.35" stroke-linejoin="round"/>
<polygon points="268.7,271.2 270.3,273.1 268.7,275.1 267.1,273.1" fill="#fff" stroke="#000" stroke-width="1.35" stroke-linejoin="round"/>
<polygon points="272.2,271.2 273.8,273.1 272.2,275.1 270.6,273.1" fill="#fff" stroke="#000" stroke-width="1.35" stroke-linejoin="round"/>
<polygon points="275.8,271.2 277.4,273.1 275.8,275.1 274.2,273.1" fill="#fff" stroke="#000" stroke-width="1.35" stroke-linejoin="round"/>
<polygon points="232.6,247.2 234.2,249.1 232.6,251.0 231.0,249.1" fill="#000" stroke="#000" stroke-width="0.8" stroke-linejoin="round"/>
<polygon points="237.9,252.2 239.5,254.1 237.9,256.0 236.3,254.1" fill="#000" stroke="#000" stroke-width="0.8" stroke-linejoin="round"/>
<polygon points="242.9,250.7 244.5,252.6 242.9,254.5 241.3,252.6" fill="#000" stroke="#000" stroke-width="0.8" stroke-linejoin="round"/>
<polygon points="232.6,255.5 234.2,257.4 232.6,259.3 231.0,257.4" fill="#000" stroke="#000" stroke-width="0.8" stroke-linejoin="round"/>
<polygon points="232.6,260.0 234.2,261.9 232.6,263.8 231.0,261.9" fill="#000" stroke="#000" stroke-width="0.8" stroke-linejoin="round"/>
<polygon points="235.1,260.0 236.7,261.9 235.1,263.8 233.5,261.9" fill="#000" stroke="#000" stroke-width="0.8" stroke-linejoin="round"/>
<polygon points="237.9,260.2 239.5,262.1 237.9,264.0 236.3,262.1" fill="#000" stroke="#000" stroke-width="0.8" stroke-linejoin="round"/>
<polygon points="240.6,260.0 242.2,261.9 240.6,263.8 239.0,261.9" fill="#000" stroke="#000" stroke-width="0.8" stroke-linejoin="round"/>
<polygon points="245.2,260.7 246.8,262.6 245.2,264.5 243.6,262.6" fill="#000" stroke="#000" stroke-width="0.8" stroke-linejoin="round"/>
<polygon points="232.6,262.7 234.2,264.6 232.6,266.5 231.0,264.6" fill="#000" stroke="#000" stroke-width="0.8" stroke-linejoin="round"/>
<polygon points="242.9,263.8 244.5,265.7 242.9,267.6 241.3,265.7" fill="#000" stroke="#000" stroke-width="0.8" stroke-linejoin="round"/>
<polygon points="237.9,266.1 239.5,268.0 237.9,269.9 236.3,268.0" fill="#000" stroke="#000" stroke-width="0.8" stroke-linejoin="round"/>
<polygon points="245.2,262.1 246.8,264.0 245.2,265.9 243.6,264.0" fill="#000" stroke="#000" stroke-width="0.8" stroke-linejoin="round"/>
<polygon points="302.0,226.2 303.6,228.1 302.0,230.0 300.4,228.1" fill="#000" stroke="#000" stroke-width="0.8" stroke-linejoin="round"/>
<polygon points="302.0,235.4 303.6,237.3 302.0,239.2 300.4,237.3" fill="#000" stroke="#000" stroke-width="0.8" stroke-linejoin="round"/>
<polygon points="297.0,241.6 298.6,243.5 297.0,245.4 295.4,243.5" fill="#000" stroke="#000" stroke-width="0.8" stroke-linejoin="round"/>
<polygon points="302.0,247.3 303.6,249.2 302.0,251.1 300.4,249.2" fill="#000" stroke="#000" stroke-width="0.8" stroke-linejoin="round"/>
<polygon points="307.0,251.4 308.6,253.3 307.0,255.2 305.4,253.3" fill="#000" stroke="#000" stroke-width="0.8" stroke-linejoin="round"/>
<polygon points="302.0,255.6 303.6,257.5 302.0,259.4 300.4,257.5" fill="#000" stroke="#000" stroke-width="0.8" stroke-linejoin="round"/>
<polygon points="304.4,258.3 306.0,260.2 304.4,262.1 302.8,260.2" fill="#000" stroke="#000" stroke-width="0.8" stroke-linejoin="round"/>
<polygon points="296.8,260.0 298.4,261.9 296.8,263.8 295.2,261.9" fill="#000" stroke="#000" stroke-width="0.8" stroke-linejoin="round"/>
<polygon points="296.8,262.6 298.4,264.5 296.8,266.4 295.2,264.5" fill="#000" stroke="#000" stroke-width="0.8" stroke-linejoin="round"/>
<polygon points="302.0,262.6 303.6,264.5 302.0,266.4 300.4,264.5" fill="#000" stroke="#000" stroke-width="0.8" stroke-linejoin="round"/>
<polygon points="307.1,261.1 308.7,263.0 307.1,264.9 305.5,263.0" fill="#000" stroke="#000" stroke-width="0.8" stroke-linejoin="round"/>
<polygon points="302.1,271.1 303.7,273.0 302.1,274.9 300.5,273.0" fill="#000" stroke="#000" stroke-width="0.8" stroke-linejoin="round"/>
<polygon points="307.2,269.9 308.8,271.8 307.2,273.7 305.6,271.8" fill="#000" stroke="#000" stroke-width="0.8" stroke-linejoin="round"/>
<text transform="translate(361.2,14.1) scale(1.06,1)" font-size="11" font-weight="bold" fill="#000">E</text>
<text transform="translate(414,12.9) scale(1,1.15)" font-size="10" text-anchor="middle" fill="#000" stroke="#000" stroke-width="0.12">HIS</text>
<g transform="translate(0,16.35) scale(1,1.13)" fill="#000" stroke="#000" stroke-width="0.12"><text x="480.4" y="0" font-size="10.2" text-anchor="end">HIS</text><text x="483.1" y="0" font-size="10.2" text-anchor="middle">-</text><text x="485.9" y="0" font-size="10.3">SGM3</text></g>
<path d="M376.5,82.5 L376.5,22.5 L440.5,22.5 L440.5,82.5" fill="none" stroke="#999" stroke-width="0.8"/>
<line x1="395.5" y1="22.5" x2="395.5" y2="82.5" stroke="#8a8a8a" stroke-width="0.75"/>
<line x1="376.5" y1="59.5" x2="440.5" y2="59.5" stroke="#808080" stroke-width="0.75"/>
<path fill="#000" fill-opacity="0.4" d="M408.4 46.2h0.8v0.8h-0.8zM409.9 45.7h0.8v0.8h-0.8zM406.7 42.2h0.8v0.8h-0.8zM409.1 46.0h0.8v0.8h-0.8zM408.3 45.1h0.8v0.8h-0.8zM407.7 45.7h0.8v0.8h-0.8zM408.6 43.8h0.8v0.8h-0.8zM410.4 46.0h0.8v0.8h-0.8zM407.5 44.3h0.8v0.8h-0.8zM406.4 40.8h0.8v0.8h-0.8zM409.0 46.1h0.8v0.8h-0.8zM409.8 46.3h0.8v0.8h-0.8zM407.1 48.2h0.8v0.8h-0.8zM407.9 44.6h0.8v0.8h-0.8zM407.0 45.1h0.8v0.8h-0.8zM407.8 46.4h0.8v0.8h-0.8zM408.5 45.8h0.8v0.8h-0.8zM408.2 44.6h0.8v0.8h-0.8zM407.4 45.7h0.8v0.8h-0.8zM411.6 45.9h0.8v0.8h-0.8z"/>
<path fill="#000" fill-opacity="0.4" d="M408.4 44.7h0.8v0.8h-0.8zM409.2 45.6h0.8v0.8h-0.8zM407.6 44.5h0.8v0.8h-0.8zM407.9 48.4h0.8v0.8h-0.8zM409.5 45.7h0.8v0.8h-0.8zM409.2 42.6h0.8v0.8h-0.8zM409.3 45.2h0.8v0.8h-0.8zM408.8 43.0h0.8v0.8h-0.8zM410.2 41.6h0.8v0.8h-0.8zM409.1 44.0h0.8v0.8h-0.8zM410.6 46.4h0.8v0.8h-0.8zM406.3 44.2h0.8v0.8h-0.8zM409.4 45.0h0.8v0.8h-0.8zM410.0 45.3h0.8v0.8h-0.8zM408.5 44.8h0.8v0.8h-0.8zM410.1 46.8h0.8v0.8h-0.8zM409.4 45.3h0.8v0.8h-0.8zM408.7 47.0h0.8v0.8h-0.8zM409.2 45.7h0.8v0.8h-0.8zM408.0 45.1h0.8v0.8h-0.8z"/>
<path fill="#000" fill-opacity="0.4" d="M407.6 44.9h0.8v0.8h-0.8zM406.7 46.8h0.8v0.8h-0.8zM409.1 45.2h0.8v0.8h-0.8zM409.4 47.5h0.8v0.8h-0.8zM408.2 43.6h0.8v0.8h-0.8zM408.8 47.7h0.8v0.8h-0.8zM406.9 46.8h0.8v0.8h-0.8zM409.4 44.2h0.8v0.8h-0.8zM407.0 45.7h0.8v0.8h-0.8zM407.4 47.1h0.8v0.8h-0.8zM409.3 46.3h0.8v0.8h-0.8zM409.7 42.0h0.8v0.8h-0.8zM409.1 46.5h0.8v0.8h-0.8zM407.6 47.0h0.8v0.8h-0.8zM410.4 43.5h0.8v0.8h-0.8zM409.1 45.6h0.8v0.8h-0.8zM409.6 46.3h0.8v0.8h-0.8zM408.3 46.0h0.8v0.8h-0.8zM408.2 46.5h0.8v0.8h-0.8zM408.4 45.2h0.8v0.8h-0.8z"/>
<path fill="#000" fill-opacity="0.4" d="M410.0 46.1h0.8v0.8h-0.8zM409.3 46.2h0.8v0.8h-0.8zM409.3 44.1h0.8v0.8h-0.8zM408.0 44.0h0.8v0.8h-0.8zM408.1 47.5h0.8v0.8h-0.8zM406.3 44.7h0.8v0.8h-0.8zM409.5 47.0h0.8v0.8h-0.8zM408.2 43.0h0.8v0.8h-0.8zM410.4 46.3h0.8v0.8h-0.8zM410.0 45.6h0.8v0.8h-0.8zM406.8 47.6h0.8v0.8h-0.8zM408.5 47.1h0.8v0.8h-0.8zM408.8 47.4h0.8v0.8h-0.8zM410.5 44.5h0.8v0.8h-0.8zM410.2 43.0h0.8v0.8h-0.8zM408.9 46.3h0.8v0.8h-0.8zM411.1 45.9h0.8v0.8h-0.8zM410.9 40.7h0.8v0.8h-0.8zM409.0 44.4h0.8v0.8h-0.8zM405.4 44.4h0.8v0.8h-0.8z"/>
<path fill="#000" fill-opacity="0.22" d="M410.5 41.3h0.8v0.8h-0.8zM406.5 48.5h0.8v0.8h-0.8zM408.0 50.8h0.8v0.8h-0.8zM410.6 44.8h0.8v0.8h-0.8zM408.2 48.6h0.8v0.8h-0.8zM411.3 49.0h0.8v0.8h-0.8zM404.8 52.2h0.8v0.8h-0.8zM408.7 47.6h0.8v0.8h-0.8zM405.3 50.1h0.8v0.8h-0.8zM401.9 49.3h0.8v0.8h-0.8zM407.3 50.2h0.8v0.8h-0.8zM401.6 50.3h0.8v0.8h-0.8zM412.9 46.2h0.8v0.8h-0.8zM402.6 43.6h0.8v0.8h-0.8zM402.8 43.4h0.8v0.8h-0.8zM404.0 47.5h0.8v0.8h-0.8zM400.8 42.5h0.8v0.8h-0.8zM411.5 48.6h0.8v0.8h-0.8zM413.3 39.0h0.8v0.8h-0.8zM409.2 49.6h0.8v0.8h-0.8zM404.5 44.6h0.8v0.8h-0.8zM409.4 35.6h0.8v0.8h-0.8zM401.7 50.1h0.8v0.8h-0.8z"/>
<path fill="#000" fill-opacity="0.22" d="M407.3 49.8h0.8v0.8h-0.8zM410.8 35.3h0.8v0.8h-0.8zM407.1 46.8h0.8v0.8h-0.8zM415.7 41.4h0.8v0.8h-0.8zM402.9 40.0h0.8v0.8h-0.8zM411.9 42.2h0.8v0.8h-0.8zM410.5 45.3h0.8v0.8h-0.8zM412.0 41.9h0.8v0.8h-0.8zM407.8 46.5h0.8v0.8h-0.8zM408.5 43.6h0.8v0.8h-0.8zM412.0 52.4h0.8v0.8h-0.8zM403.8 45.9h0.8v0.8h-0.8zM409.1 50.0h0.8v0.8h-0.8zM410.5 49.2h0.8v0.8h-0.8zM410.3 43.7h0.8v0.8h-0.8zM400.4 47.3h0.8v0.8h-0.8zM408.4 44.2h0.8v0.8h-0.8zM408.9 37.7h0.8v0.8h-0.8zM408.9 55.7h0.8v0.8h-0.8zM404.8 45.6h0.8v0.8h-0.8zM410.2 46.4h0.8v0.8h-0.8zM409.4 47.9h0.8v0.8h-0.8zM408.5 43.2h0.8v0.8h-0.8z"/>
<path fill="#000" fill-opacity="0.22" d="M410.1 52.0h0.8v0.8h-0.8zM410.8 40.2h0.8v0.8h-0.8zM409.9 46.6h0.8v0.8h-0.8zM410.2 44.9h0.8v0.8h-0.8zM409.3 42.1h0.8v0.8h-0.8zM407.5 41.4h0.8v0.8h-0.8zM401.6 51.6h0.8v0.8h-0.8zM410.9 51.9h0.8v0.8h-0.8zM411.8 44.9h0.8v0.8h-0.8zM407.5 49.3h0.8v0.8h-0.8zM405.5 49.5h0.8v0.8h-0.8zM406.9 45.9h0.8v0.8h-0.8zM406.9 41.0h0.8v0.8h-0.8zM407.5 49.2h0.8v0.8h-0.8zM404.8 42.9h0.8v0.8h-0.8zM405.6 38.2h0.8v0.8h-0.8zM409.8 49.0h0.8v0.8h-0.8zM410.2 51.2h0.8v0.8h-0.8zM404.7 48.8h0.8v0.8h-0.8zM408.4 49.3h0.8v0.8h-0.8zM404.9 42.6h0.8v0.8h-0.8zM412.6 47.7h0.8v0.8h-0.8z"/>
<path fill="#000" fill-opacity="0.22" d="M402.4 44.6h0.8v0.8h-0.8zM409.5 40.0h0.8v0.8h-0.8zM407.2 52.1h0.8v0.8h-0.8zM407.9 48.8h0.8v0.8h-0.8zM404.4 40.1h0.8v0.8h-0.8zM409.8 52.4h0.8v0.8h-0.8zM407.2 43.6h0.8v0.8h-0.8zM411.9 45.3h0.8v0.8h-0.8zM400.6 44.5h0.8v0.8h-0.8zM407.7 51.3h0.8v0.8h-0.8zM401.9 41.7h0.8v0.8h-0.8zM405.7 46.9h0.8v0.8h-0.8zM405.8 50.3h0.8v0.8h-0.8zM408.0 41.3h0.8v0.8h-0.8zM402.9 45.5h0.8v0.8h-0.8zM409.7 44.9h0.8v0.8h-0.8zM409.5 47.3h0.8v0.8h-0.8zM406.6 44.1h0.8v0.8h-0.8zM413.2 45.5h0.8v0.8h-0.8zM407.4 45.2h0.8v0.8h-0.8zM415.5 50.6h0.8v0.8h-0.8zM407.3 48.1h0.8v0.8h-0.8z"/>
<path fill="#000" fill-opacity="0.22" d="M407.9 72.7h0.8v0.8h-0.8zM410.0 74.0h0.8v0.8h-0.8zM402.2 72.4h0.8v0.8h-0.8zM405.7 62.3h0.8v0.8h-0.8zM402.9 68.2h0.8v0.8h-0.8zM405.6 80.0h0.8v0.8h-0.8zM402.1 75.1h0.8v0.8h-0.8zM402.5 62.4h0.8v0.8h-0.8zM408.8 78.7h0.8v0.8h-0.8zM406.1 66.6h0.8v0.8h-0.8zM403.6 61.3h0.8v0.8h-0.8zM406.5 63.1h0.8v0.8h-0.8zM401.8 76.3h0.8v0.8h-0.8zM406.0 75.8h0.8v0.8h-0.8zM404.0 64.1h0.8v0.8h-0.8zM399.8 75.0h0.8v0.8h-0.8zM408.4 72.5h0.8v0.8h-0.8zM405.8 71.4h0.8v0.8h-0.8zM406.3 75.9h0.8v0.8h-0.8zM400.6 76.6h0.8v0.8h-0.8zM404.4 72.7h0.8v0.8h-0.8zM403.5 71.6h0.8v0.8h-0.8zM410.5 61.7h0.8v0.8h-0.8zM406.1 65.5h0.8v0.8h-0.8zM405.8 79.0h0.8v0.8h-0.8zM407.5 70.3h0.8v0.8h-0.8zM408.8 78.1h0.8v0.8h-0.8zM402.7 81.3h0.8v0.8h-0.8zM408.5 67.0h0.8v0.8h-0.8zM400.0 79.0h0.8v0.8h-0.8zM404.3 75.9h0.8v0.8h-0.8zM405.7 70.7h0.8v0.8h-0.8zM403.3 72.4h0.8v0.8h-0.8zM402.7 79.4h0.8v0.8h-0.8zM403.9 66.1h0.8v0.8h-0.8zM401.8 68.8h0.8v0.8h-0.8zM400.8 78.6h0.8v0.8h-0.8zM409.3 78.8h0.8v0.8h-0.8zM404.5 69.1h0.8v0.8h-0.8zM405.7 71.7h0.8v0.8h-0.8zM401.3 62.1h0.8v0.8h-0.8zM405.9 74.0h0.8v0.8h-0.8zM403.1 73.3h0.8v0.8h-0.8zM406.7 66.0h0.8v0.8h-0.8zM400.6 69.7h0.8v0.8h-0.8zM403.1 75.0h0.8v0.8h-0.8zM406.7 77.7h0.8v0.8h-0.8zM402.8 65.8h0.8v0.8h-0.8zM406.1 64.1h0.8v0.8h-0.8zM403.5 79.9h0.8v0.8h-0.8zM403.2 68.8h0.8v0.8h-0.8zM405.8 80.6h0.8v0.8h-0.8zM407.3 68.8h0.8v0.8h-0.8zM400.5 76.6h0.8v0.8h-0.8zM404.4 68.1h0.8v0.8h-0.8zM403.7 61.4h0.8v0.8h-0.8zM404.8 80.4h0.8v0.8h-0.8zM406.0 77.4h0.8v0.8h-0.8zM403.5 76.9h0.8v0.8h-0.8zM407.7 67.8h0.8v0.8h-0.8zM407.0 75.5h0.8v0.8h-0.8zM404.4 74.6h0.8v0.8h-0.8zM404.4 66.2h0.8v0.8h-0.8zM398.0 71.4h0.8v0.8h-0.8zM399.8 78.1h0.8v0.8h-0.8zM407.9 79.9h0.8v0.8h-0.8zM405.7 73.2h0.8v0.8h-0.8zM404.4 74.3h0.8v0.8h-0.8zM403.8 77.2h0.8v0.8h-0.8zM403.8 64.6h0.8v0.8h-0.8zM403.2 68.4h0.8v0.8h-0.8zM404.3 61.4h0.8v0.8h-0.8zM403.0 61.6h0.8v0.8h-0.8zM402.4 64.2h0.8v0.8h-0.8zM406.8 65.2h0.8v0.8h-0.8zM406.8 79.4h0.8v0.8h-0.8zM400.3 77.9h0.8v0.8h-0.8zM405.9 75.8h0.8v0.8h-0.8zM405.2 73.3h0.8v0.8h-0.8zM401.1 70.2h0.8v0.8h-0.8zM404.9 70.5h0.8v0.8h-0.8zM406.9 71.5h0.8v0.8h-0.8zM403.6 71.4h0.8v0.8h-0.8z"/>
<path fill="#000" fill-opacity="0.22" d="M409.2 75.3h0.8v0.8h-0.8zM407.2 77.3h0.8v0.8h-0.8zM405.2 79.8h0.8v0.8h-0.8zM405.5 65.3h0.8v0.8h-0.8zM404.5 61.7h0.8v0.8h-0.8zM407.2 63.4h0.8v0.8h-0.8zM406.4 80.9h0.8v0.8h-0.8zM405.9 63.9h0.8v0.8h-0.8zM407.0 74.7h0.8v0.8h-0.8zM406.9 80.5h0.8v0.8h-0.8zM406.8 68.9h0.8v0.8h-0.8zM404.6 69.3h0.8v0.8h-0.8zM402.9 74.5h0.8v0.8h-0.8zM404.4 74.2h0.8v0.8h-0.8zM399.8 71.8h0.8v0.8h-0.8zM401.7 75.2h0.8v0.8h-0.8zM407.5 73.9h0.8v0.8h-0.8zM400.4 72.0h0.8v0.8h-0.8zM405.4 65.4h0.8v0.8h-0.8zM405.0 73.6h0.8v0.8h-0.8zM402.3 61.5h0.8v0.8h-0.8zM402.6 70.6h0.8v0.8h-0.8zM403.7 70.5h0.8v0.8h-0.8zM410.6 72.9h0.8v0.8h-0.8zM401.7 75.4h0.8v0.8h-0.8zM404.6 67.3h0.8v0.8h-0.8zM404.5 63.7h0.8v0.8h-0.8zM406.4 73.1h0.8v0.8h-0.8zM407.4 80.0h0.8v0.8h-0.8zM409.1 77.5h0.8v0.8h-0.8zM403.7 70.3h0.8v0.8h-0.8zM403.9 68.2h0.8v0.8h-0.8zM402.7 69.2h0.8v0.8h-0.8zM404.5 81.2h0.8v0.8h-0.8zM405.5 66.5h0.8v0.8h-0.8zM406.1 68.1h0.8v0.8h-0.8zM404.4 65.6h0.8v0.8h-0.8zM403.1 61.7h0.8v0.8h-0.8zM404.5 79.8h0.8v0.8h-0.8zM405.5 74.9h0.8v0.8h-0.8zM405.4 76.9h0.8v0.8h-0.8zM405.9 75.3h0.8v0.8h-0.8zM405.7 61.5h0.8v0.8h-0.8zM402.5 66.2h0.8v0.8h-0.8zM404.5 66.4h0.8v0.8h-0.8zM406.8 65.3h0.8v0.8h-0.8zM404.1 65.9h0.8v0.8h-0.8zM404.5 69.6h0.8v0.8h-0.8zM411.3 62.3h0.8v0.8h-0.8zM395.5 67.9h0.8v0.8h-0.8zM402.3 67.9h0.8v0.8h-0.8zM404.1 65.4h0.8v0.8h-0.8zM405.4 79.7h0.8v0.8h-0.8zM407.0 62.1h0.8v0.8h-0.8zM398.9 66.7h0.8v0.8h-0.8zM406.4 76.4h0.8v0.8h-0.8zM407.4 80.4h0.8v0.8h-0.8zM403.8 76.1h0.8v0.8h-0.8zM406.7 62.9h0.8v0.8h-0.8zM405.2 80.9h0.8v0.8h-0.8zM406.2 70.2h0.8v0.8h-0.8zM399.5 63.7h0.8v0.8h-0.8zM402.8 66.2h0.8v0.8h-0.8zM409.4 65.9h0.8v0.8h-0.8zM405.3 79.6h0.8v0.8h-0.8zM403.9 68.7h0.8v0.8h-0.8zM404.1 73.7h0.8v0.8h-0.8zM408.0 65.4h0.8v0.8h-0.8zM406.1 72.3h0.8v0.8h-0.8zM403.6 75.2h0.8v0.8h-0.8zM407.6 69.6h0.8v0.8h-0.8zM402.8 79.3h0.8v0.8h-0.8zM404.9 72.3h0.8v0.8h-0.8zM406.7 67.0h0.8v0.8h-0.8zM398.1 63.8h0.8v0.8h-0.8zM403.3 73.7h0.8v0.8h-0.8zM407.3 65.0h0.8v0.8h-0.8zM405.9 79.2h0.8v0.8h-0.8zM403.4 72.3h0.8v0.8h-0.8zM406.2 70.1h0.8v0.8h-0.8zM400.0 64.9h0.8v0.8h-0.8zM406.0 62.1h0.8v0.8h-0.8zM404.4 68.9h0.8v0.8h-0.8z"/>
<path fill="#000" fill-opacity="0.22" d="M405.3 75.1h0.8v0.8h-0.8zM408.9 62.6h0.8v0.8h-0.8zM404.3 71.8h0.8v0.8h-0.8zM403.7 76.5h0.8v0.8h-0.8zM404.5 76.0h0.8v0.8h-0.8zM405.7 71.2h0.8v0.8h-0.8zM401.8 75.4h0.8v0.8h-0.8zM408.4 66.4h0.8v0.8h-0.8zM404.1 67.2h0.8v0.8h-0.8zM407.7 66.2h0.8v0.8h-0.8zM401.5 65.3h0.8v0.8h-0.8zM405.0 67.4h0.8v0.8h-0.8zM403.4 69.1h0.8v0.8h-0.8zM409.3 79.1h0.8v0.8h-0.8zM399.6 77.4h0.8v0.8h-0.8zM404.6 64.0h0.8v0.8h-0.8zM401.7 71.1h0.8v0.8h-0.8zM404.0 76.0h0.8v0.8h-0.8zM404.0 71.2h0.8v0.8h-0.8zM403.8 64.2h0.8v0.8h-0.8zM406.4 74.7h0.8v0.8h-0.8zM403.2 79.2h0.8v0.8h-0.8zM407.4 70.3h0.8v0.8h-0.8zM406.5 80.4h0.8v0.8h-0.8zM405.1 71.0h0.8v0.8h-0.8zM406.0 67.6h0.8v0.8h-0.8zM408.2 79.3h0.8v0.8h-0.8zM402.7 66.8h0.8v0.8h-0.8zM404.5 71.5h0.8v0.8h-0.8zM400.6 80.1h0.8v0.8h-0.8zM404.6 67.0h0.8v0.8h-0.8zM403.2 80.8h0.8v0.8h-0.8zM405.3 65.5h0.8v0.8h-0.8zM403.1 65.1h0.8v0.8h-0.8zM399.6 76.3h0.8v0.8h-0.8zM406.4 80.7h0.8v0.8h-0.8zM404.2 69.3h0.8v0.8h-0.8zM408.5 79.2h0.8v0.8h-0.8zM406.8 80.7h0.8v0.8h-0.8zM408.4 74.2h0.8v0.8h-0.8zM405.1 74.2h0.8v0.8h-0.8zM405.3 71.8h0.8v0.8h-0.8zM403.6 80.5h0.8v0.8h-0.8zM408.4 67.4h0.8v0.8h-0.8zM401.6 65.8h0.8v0.8h-0.8zM405.7 71.4h0.8v0.8h-0.8zM405.3 67.2h0.8v0.8h-0.8zM401.3 64.2h0.8v0.8h-0.8zM406.9 79.3h0.8v0.8h-0.8zM406.9 76.2h0.8v0.8h-0.8zM404.6 66.9h0.8v0.8h-0.8zM401.5 77.7h0.8v0.8h-0.8zM405.4 79.2h0.8v0.8h-0.8zM405.4 79.7h0.8v0.8h-0.8zM408.0 66.5h0.8v0.8h-0.8zM407.7 80.2h0.8v0.8h-0.8zM403.0 69.9h0.8v0.8h-0.8zM406.5 73.4h0.8v0.8h-0.8zM405.9 66.2h0.8v0.8h-0.8zM410.2 66.6h0.8v0.8h-0.8zM404.8 73.7h0.8v0.8h-0.8zM405.7 72.6h0.8v0.8h-0.8zM407.6 72.9h0.8v0.8h-0.8zM405.9 81.1h0.8v0.8h-0.8zM406.6 63.7h0.8v0.8h-0.8zM406.4 66.5h0.8v0.8h-0.8zM405.0 64.1h0.8v0.8h-0.8zM406.8 74.9h0.8v0.8h-0.8zM405.6 69.2h0.8v0.8h-0.8zM402.7 67.5h0.8v0.8h-0.8zM410.3 68.6h0.8v0.8h-0.8zM400.2 69.4h0.8v0.8h-0.8zM400.9 63.1h0.8v0.8h-0.8zM398.6 63.5h0.8v0.8h-0.8zM411.1 71.0h0.8v0.8h-0.8zM405.2 77.0h0.8v0.8h-0.8zM405.0 71.7h0.8v0.8h-0.8zM407.7 76.4h0.8v0.8h-0.8zM402.9 69.7h0.8v0.8h-0.8zM408.1 71.1h0.8v0.8h-0.8zM403.3 63.9h0.8v0.8h-0.8zM403.8 76.0h0.8v0.8h-0.8z"/>
<path fill="#000" fill-opacity="0.22" d="M405.0 69.8h0.8v0.8h-0.8zM407.1 78.6h0.8v0.8h-0.8zM405.9 66.1h0.8v0.8h-0.8zM406.6 67.1h0.8v0.8h-0.8zM405.0 72.3h0.8v0.8h-0.8zM402.0 78.0h0.8v0.8h-0.8zM408.6 74.0h0.8v0.8h-0.8zM406.3 64.6h0.8v0.8h-0.8zM406.4 70.5h0.8v0.8h-0.8zM403.9 80.6h0.8v0.8h-0.8zM405.0 71.4h0.8v0.8h-0.8zM404.6 66.0h0.8v0.8h-0.8zM399.3 67.8h0.8v0.8h-0.8zM405.8 73.8h0.8v0.8h-0.8zM404.4 77.8h0.8v0.8h-0.8zM405.1 68.5h0.8v0.8h-0.8zM401.7 61.4h0.8v0.8h-0.8zM403.7 66.3h0.8v0.8h-0.8zM397.4 69.0h0.8v0.8h-0.8zM403.7 66.4h0.8v0.8h-0.8zM405.3 75.1h0.8v0.8h-0.8zM404.8 65.3h0.8v0.8h-0.8zM398.3 66.7h0.8v0.8h-0.8zM407.0 64.0h0.8v0.8h-0.8zM410.0 61.8h0.8v0.8h-0.8zM406.3 78.1h0.8v0.8h-0.8zM402.7 67.1h0.8v0.8h-0.8zM406.6 62.3h0.8v0.8h-0.8zM406.5 65.1h0.8v0.8h-0.8zM400.3 72.3h0.8v0.8h-0.8zM400.8 62.3h0.8v0.8h-0.8zM408.6 66.5h0.8v0.8h-0.8zM405.8 79.4h0.8v0.8h-0.8zM404.9 63.1h0.8v0.8h-0.8zM402.2 69.6h0.8v0.8h-0.8zM405.3 63.8h0.8v0.8h-0.8zM406.4 70.2h0.8v0.8h-0.8zM405.3 70.8h0.8v0.8h-0.8zM400.0 66.3h0.8v0.8h-0.8zM403.0 76.6h0.8v0.8h-0.8zM410.3 67.4h0.8v0.8h-0.8zM405.1 73.0h0.8v0.8h-0.8zM407.2 74.2h0.8v0.8h-0.8zM403.5 61.7h0.8v0.8h-0.8zM399.4 62.0h0.8v0.8h-0.8zM400.4 65.4h0.8v0.8h-0.8zM408.8 80.3h0.8v0.8h-0.8zM399.0 69.2h0.8v0.8h-0.8zM405.5 79.0h0.8v0.8h-0.8zM410.1 61.9h0.8v0.8h-0.8zM404.7 68.3h0.8v0.8h-0.8zM408.3 69.9h0.8v0.8h-0.8zM406.8 61.9h0.8v0.8h-0.8zM404.7 66.4h0.8v0.8h-0.8zM403.6 75.6h0.8v0.8h-0.8zM402.7 61.8h0.8v0.8h-0.8zM405.8 71.2h0.8v0.8h-0.8zM400.5 67.9h0.8v0.8h-0.8zM408.6 62.6h0.8v0.8h-0.8zM399.3 63.0h0.8v0.8h-0.8zM407.2 74.8h0.8v0.8h-0.8zM402.7 68.8h0.8v0.8h-0.8zM408.9 67.8h0.8v0.8h-0.8zM401.0 63.3h0.8v0.8h-0.8zM405.0 65.1h0.8v0.8h-0.8zM402.4 76.9h0.8v0.8h-0.8zM406.9 65.4h0.8v0.8h-0.8zM404.7 65.0h0.8v0.8h-0.8zM405.0 72.3h0.8v0.8h-0.8zM405.6 80.4h0.8v0.8h-0.8zM397.9 65.2h0.8v0.8h-0.8zM406.7 79.0h0.8v0.8h-0.8zM400.1 73.7h0.8v0.8h-0.8zM403.7 71.1h0.8v0.8h-0.8zM402.0 62.4h0.8v0.8h-0.8zM403.1 65.7h0.8v0.8h-0.8zM407.1 69.0h0.8v0.8h-0.8zM405.4 62.1h0.8v0.8h-0.8zM402.9 73.0h0.8v0.8h-0.8zM405.0 66.0h0.8v0.8h-0.8zM404.7 69.9h0.8v0.8h-0.8zM403.7 76.9h0.8v0.8h-0.8z"/>
<path fill="#000" fill-opacity="0.18" d="M406.5 70.3h0.8v0.8h-0.8zM395.0 72.4h0.8v0.8h-0.8zM404.6 67.4h0.8v0.8h-0.8zM405.3 76.8h0.8v0.8h-0.8zM401.0 58.1h0.8v0.8h-0.8zM407.9 65.1h0.8v0.8h-0.8zM405.4 66.3h0.8v0.8h-0.8zM404.5 69.3h0.8v0.8h-0.8zM404.4 71.9h0.8v0.8h-0.8zM406.3 75.2h0.8v0.8h-0.8zM405.3 80.6h0.8v0.8h-0.8zM404.6 75.5h0.8v0.8h-0.8zM410.0 72.2h0.8v0.8h-0.8zM409.3 72.2h0.8v0.8h-0.8zM405.4 67.5h0.8v0.8h-0.8zM411.8 72.0h0.8v0.8h-0.8zM404.6 73.5h0.8v0.8h-0.8zM400.7 69.0h0.8v0.8h-0.8zM405.0 70.7h0.8v0.8h-0.8zM407.0 67.2h0.8v0.8h-0.8zM397.4 74.1h0.8v0.8h-0.8zM405.8 81.0h0.8v0.8h-0.8z"/>
<path fill="#000" fill-opacity="0.18" d="M412.4 53.3h0.8v0.8h-0.8zM406.5 69.4h0.8v0.8h-0.8zM406.9 68.1h0.8v0.8h-0.8zM401.2 71.3h0.8v0.8h-0.8zM397.6 64.5h0.8v0.8h-0.8zM409.5 71.0h0.8v0.8h-0.8zM405.7 66.7h0.8v0.8h-0.8zM406.6 72.3h0.8v0.8h-0.8zM404.0 70.3h0.8v0.8h-0.8zM402.3 69.0h0.8v0.8h-0.8zM409.0 77.2h0.8v0.8h-0.8zM401.2 69.0h0.8v0.8h-0.8zM409.0 73.9h0.8v0.8h-0.8zM406.5 70.1h0.8v0.8h-0.8zM403.3 77.0h0.8v0.8h-0.8zM404.4 63.7h0.8v0.8h-0.8zM401.3 81.5h0.8v0.8h-0.8zM405.6 63.2h0.8v0.8h-0.8zM404.3 76.6h0.8v0.8h-0.8zM402.1 58.4h0.8v0.8h-0.8zM411.9 78.7h0.8v0.8h-0.8z"/>
<path fill="#000" fill-opacity="0.18" d="M403.7 58.7h0.8v0.8h-0.8zM406.6 55.8h0.8v0.8h-0.8zM405.3 67.9h0.8v0.8h-0.8zM406.8 72.5h0.8v0.8h-0.8zM408.0 77.2h0.8v0.8h-0.8zM400.4 80.7h0.8v0.8h-0.8zM397.5 56.0h0.8v0.8h-0.8zM401.5 66.5h0.8v0.8h-0.8zM408.1 71.6h0.8v0.8h-0.8zM401.4 65.9h0.8v0.8h-0.8zM409.1 62.7h0.8v0.8h-0.8zM402.0 65.5h0.8v0.8h-0.8zM402.2 74.4h0.8v0.8h-0.8zM406.1 80.6h0.8v0.8h-0.8zM412.1 75.9h0.8v0.8h-0.8zM404.3 63.8h0.8v0.8h-0.8zM402.0 58.8h0.8v0.8h-0.8zM404.0 81.5h0.8v0.8h-0.8zM404.1 54.7h0.8v0.8h-0.8zM400.5 63.6h0.8v0.8h-0.8zM398.9 75.8h0.8v0.8h-0.8z"/>
<path fill="#000" fill-opacity="0.18" d="M407.7 74.1h0.8v0.8h-0.8zM396.0 71.3h0.8v0.8h-0.8zM402.1 66.5h0.8v0.8h-0.8zM401.9 66.4h0.8v0.8h-0.8zM402.3 73.0h0.8v0.8h-0.8zM399.7 66.2h0.8v0.8h-0.8zM396.4 70.3h0.8v0.8h-0.8zM407.3 75.6h0.8v0.8h-0.8zM402.1 74.7h0.8v0.8h-0.8zM410.2 67.1h0.8v0.8h-0.8zM410.7 75.9h0.8v0.8h-0.8zM399.1 71.1h0.8v0.8h-0.8zM405.7 60.6h0.8v0.8h-0.8zM404.8 74.8h0.8v0.8h-0.8zM403.8 66.2h0.8v0.8h-0.8zM407.1 70.4h0.8v0.8h-0.8zM404.4 65.3h0.8v0.8h-0.8zM399.1 54.7h0.8v0.8h-0.8zM401.6 68.9h0.8v0.8h-0.8z"/>
<path fill="#000" fill-opacity="0.6" d="M396.0 82.1h.8v.8h-.8zM395.0 81.2h.8v.8h-.8zM401.7 82.0h.8v.8h-.8zM392.8 82.1h.8v.8h-.8zM411.4 81.5h.8v.8h-.8zM411.5 81.4h.8v.8h-.8zM393.8 81.5h.8v.8h-.8zM402.2 81.3h.8v.8h-.8zM414.9 81.2h.8v.8h-.8zM393.8 81.2h.8v.8h-.8zM417.6 81.2h.8v.8h-.8zM395.0 81.9h.8v.8h-.8zM395.1 82.1h.8v.8h-.8zM415.7 81.3h.8v.8h-.8zM409.8 81.3h.8v.8h-.8zM409.7 81.8h.8v.8h-.8zM394.8 82.0h.8v.8h-.8zM413.2 81.9h.8v.8h-.8zM400.9 81.7h.8v.8h-.8zM392.6 81.8h.8v.8h-.8zM399.9 81.4h.8v.8h-.8zM402.3 81.8h.8v.8h-.8zM419.0 81.6h.8v.8h-.8zM415.8 81.5h.8v.8h-.8zM392.9 81.7h.8v.8h-.8zM404.2 81.3h.8v.8h-.8zM401.7 81.4h.8v.8h-.8zM407.1 81.9h.8v.8h-.8zM416.1 82.0h.8v.8h-.8zM415.0 81.9h.8v.8h-.8zM392.0 81.9h.8v.8h-.8zM413.3 81.1h.8v.8h-.8zM392.1 81.6h.8v.8h-.8zM405.8 81.3h.8v.8h-.8zM397.2 81.6h.8v.8h-.8zM401.7 81.3h.8v.8h-.8zM399.3 81.2h.8v.8h-.8zM399.9 81.9h.8v.8h-.8zM411.6 81.6h.8v.8h-.8zM395.1 81.5h.8v.8h-.8zM394.3 81.3h.8v.8h-.8zM411.5 81.3h.8v.8h-.8zM409.6 81.7h.8v.8h-.8zM403.2 81.7h.8v.8h-.8zM416.9 82.0h.8v.8h-.8zM416.9 82.1h.8v.8h-.8zM397.8 81.8h.8v.8h-.8zM417.2 81.6h.8v.8h-.8zM402.6 81.2h.8v.8h-.8zM398.5 81.6h.8v.8h-.8z"/>
<line x1="376.5" y1="82.5" x2="440.5" y2="82.5" stroke="#555" stroke-width="0.9"/>
<line x1="375.5" y1="28.5" x2="377.0" y2="28.5" stroke="#666" stroke-width="0.6"/>
<line x1="375.5" y1="40.9" x2="377.0" y2="40.9" stroke="#666" stroke-width="0.6"/>
<line x1="375.5" y1="53.3" x2="377.0" y2="53.3" stroke="#666" stroke-width="0.6"/>
<line x1="375.5" y1="65.6" x2="377.0" y2="65.6" stroke="#666" stroke-width="0.6"/>
<line x1="375.5" y1="78.0" x2="377.0" y2="78.0" stroke="#666" stroke-width="0.6"/>
<line x1="384.5" y1="82.5" x2="384.5" y2="83.7" stroke="#666" stroke-width="0.6"/>
<line x1="397.1" y1="82.5" x2="397.1" y2="83.7" stroke="#666" stroke-width="0.6"/>
<line x1="409.6" y1="82.5" x2="409.6" y2="83.7" stroke="#666" stroke-width="0.6"/>
<line x1="422.2" y1="82.5" x2="422.2" y2="83.7" stroke="#666" stroke-width="0.6"/>
<line x1="434.7" y1="82.5" x2="434.7" y2="83.7" stroke="#666" stroke-width="0.6"/>
<text x="377.1" y="28.4" font-size="5.9" fill="#1a1a1a">0</text>
<text x="440.2" y="28.4" font-size="5.9" text-anchor="end" fill="#1a1a1a">27.5</text>
<text x="377.1" y="82.3" font-size="5.9" fill="#1a1a1a">0</text>
<text x="440.2" y="82.3" font-size="5.9" text-anchor="end" fill="#1a1a1a">72.4</text>
<text x="374.7" y="29.5" font-size="3.2" text-anchor="end" fill="#999">10</text>
<text x="374.7" y="45.8" font-size="3.2" text-anchor="end" fill="#999">10</text>
<text x="374.7" y="62.0" font-size="3.2" text-anchor="end" fill="#999">10</text>
<text x="374.7" y="78.2" font-size="3.2" text-anchor="end" fill="#999">10</text>
<text x="384.5" y="87.5" font-size="3.2" text-anchor="middle" fill="#999">10</text>
<text x="397.1" y="87.5" font-size="3.2" text-anchor="middle" fill="#999">10</text>
<text x="409.6" y="87.5" font-size="3.2" text-anchor="middle" fill="#999">10</text>
<text x="422.2" y="87.5" font-size="3.2" text-anchor="middle" fill="#999">10</text>
<text x="434.7" y="87.5" font-size="3.2" text-anchor="middle" fill="#999">10</text>
<path d="M456.0,82.5 L456.0,23.3 L519.0,23.3 L519.0,82.5" fill="none" stroke="#999" stroke-width="0.8"/>
<line x1="474.5" y1="23.3" x2="474.5" y2="82.5" stroke="#8a8a8a" stroke-width="0.75"/>
<line x1="456.0" y1="59.5" x2="519.0" y2="59.5" stroke="#808080" stroke-width="0.75"/>
<path fill="#000" fill-opacity="0.38" d="M485.9 45.3h0.9v0.9h-0.9zM486.9 43.2h0.9v0.9h-0.9zM488.6 45.0h0.9v0.9h-0.9zM487.9 47.8h0.9v0.9h-0.9zM490.4 49.1h0.9v0.9h-0.9zM488.5 48.7h0.9v0.9h-0.9zM487.4 43.8h0.9v0.9h-0.9zM489.0 44.8h0.9v0.9h-0.9zM488.2 42.9h0.9v0.9h-0.9zM488.9 47.2h0.9v0.9h-0.9zM487.0 44.6h0.9v0.9h-0.9zM484.7 46.3h0.9v0.9h-0.9zM489.2 47.6h0.9v0.9h-0.9zM485.4 48.6h0.9v0.9h-0.9zM487.6 46.5h0.9v0.9h-0.9zM487.3 47.3h0.9v0.9h-0.9zM487.3 46.9h0.9v0.9h-0.9zM488.4 51.1h0.9v0.9h-0.9zM487.3 45.7h0.9v0.9h-0.9zM487.2 46.6h0.9v0.9h-0.9zM486.4 47.2h0.9v0.9h-0.9zM489.6 44.0h0.9v0.9h-0.9zM487.4 44.7h0.9v0.9h-0.9zM489.7 44.0h0.9v0.9h-0.9zM488.4 42.3h0.9v0.9h-0.9zM487.0 45.5h0.9v0.9h-0.9zM486.5 46.1h0.9v0.9h-0.9zM486.7 42.7h0.9v0.9h-0.9zM489.5 46.5h0.9v0.9h-0.9zM488.2 45.7h0.9v0.9h-0.9zM485.9 45.5h0.9v0.9h-0.9zM488.5 44.2h0.9v0.9h-0.9zM487.4 47.5h0.9v0.9h-0.9zM489.0 44.3h0.9v0.9h-0.9zM486.7 43.0h0.9v0.9h-0.9zM487.6 44.7h0.9v0.9h-0.9zM488.3 41.6h0.9v0.9h-0.9zM487.5 48.0h0.9v0.9h-0.9zM488.5 46.2h0.9v0.9h-0.9zM485.5 43.4h0.9v0.9h-0.9zM488.0 46.3h0.9v0.9h-0.9zM488.1 46.3h0.9v0.9h-0.9zM487.4 42.2h0.9v0.9h-0.9zM487.8 51.2h0.9v0.9h-0.9zM487.2 49.0h0.9v0.9h-0.9zM486.2 47.1h0.9v0.9h-0.9zM486.3 48.3h0.9v0.9h-0.9zM487.2 42.4h0.9v0.9h-0.9zM485.6 47.8h0.9v0.9h-0.9zM488.8 46.0h0.9v0.9h-0.9zM488.8 42.3h0.9v0.9h-0.9zM487.6 46.7h0.9v0.9h-0.9zM486.5 44.1h0.9v0.9h-0.9zM489.8 47.9h0.9v0.9h-0.9zM486.3 46.4h0.9v0.9h-0.9z"/>
<path fill="#000" fill-opacity="0.38" d="M487.9 43.1h0.9v0.9h-0.9zM488.5 47.9h0.9v0.9h-0.9zM488.3 47.6h0.9v0.9h-0.9zM487.2 45.8h0.9v0.9h-0.9zM488.8 47.2h0.9v0.9h-0.9zM488.5 46.8h0.9v0.9h-0.9zM487.0 44.4h0.9v0.9h-0.9zM486.1 44.5h0.9v0.9h-0.9zM489.0 43.6h0.9v0.9h-0.9zM488.3 42.9h0.9v0.9h-0.9zM486.6 41.9h0.9v0.9h-0.9zM489.4 46.6h0.9v0.9h-0.9zM486.1 45.2h0.9v0.9h-0.9zM488.4 48.9h0.9v0.9h-0.9zM487.7 48.0h0.9v0.9h-0.9zM488.2 49.2h0.9v0.9h-0.9zM489.3 48.5h0.9v0.9h-0.9zM486.9 48.3h0.9v0.9h-0.9zM488.5 44.4h0.9v0.9h-0.9zM489.8 46.1h0.9v0.9h-0.9zM487.3 44.4h0.9v0.9h-0.9zM489.3 48.9h0.9v0.9h-0.9zM488.4 46.7h0.9v0.9h-0.9zM489.1 49.7h0.9v0.9h-0.9zM488.5 48.9h0.9v0.9h-0.9zM488.0 47.1h0.9v0.9h-0.9zM485.6 45.0h0.9v0.9h-0.9zM487.0 47.5h0.9v0.9h-0.9zM486.8 41.8h0.9v0.9h-0.9zM487.6 43.3h0.9v0.9h-0.9zM488.2 48.1h0.9v0.9h-0.9zM486.9 46.0h0.9v0.9h-0.9zM487.4 48.5h0.9v0.9h-0.9zM488.9 46.5h0.9v0.9h-0.9zM489.3 44.5h0.9v0.9h-0.9zM487.2 44.1h0.9v0.9h-0.9zM487.3 44.4h0.9v0.9h-0.9zM487.4 47.9h0.9v0.9h-0.9zM488.5 43.6h0.9v0.9h-0.9zM489.3 45.7h0.9v0.9h-0.9zM489.7 46.1h0.9v0.9h-0.9zM487.7 44.5h0.9v0.9h-0.9zM487.8 45.2h0.9v0.9h-0.9zM487.9 45.7h0.9v0.9h-0.9zM489.1 49.4h0.9v0.9h-0.9zM489.2 48.8h0.9v0.9h-0.9zM489.9 44.8h0.9v0.9h-0.9zM487.1 48.4h0.9v0.9h-0.9zM486.6 48.1h0.9v0.9h-0.9zM486.5 47.2h0.9v0.9h-0.9zM487.0 45.3h0.9v0.9h-0.9zM485.9 44.8h0.9v0.9h-0.9zM487.1 46.3h0.9v0.9h-0.9zM488.0 44.6h0.9v0.9h-0.9zM488.2 47.2h0.9v0.9h-0.9z"/>
<path fill="#000" fill-opacity="0.38" d="M487.3 47.4h0.9v0.9h-0.9zM488.1 43.4h0.9v0.9h-0.9zM487.2 42.3h0.9v0.9h-0.9zM487.5 47.1h0.9v0.9h-0.9zM490.0 45.6h0.9v0.9h-0.9zM487.7 46.3h0.9v0.9h-0.9zM488.9 48.1h0.9v0.9h-0.9zM487.1 46.7h0.9v0.9h-0.9zM487.1 44.3h0.9v0.9h-0.9zM487.3 44.9h0.9v0.9h-0.9zM488.6 48.7h0.9v0.9h-0.9zM489.0 49.0h0.9v0.9h-0.9zM486.2 45.8h0.9v0.9h-0.9zM486.3 48.1h0.9v0.9h-0.9zM489.1 46.2h0.9v0.9h-0.9zM489.3 45.1h0.9v0.9h-0.9zM488.5 43.4h0.9v0.9h-0.9zM488.8 42.7h0.9v0.9h-0.9zM488.5 44.7h0.9v0.9h-0.9zM487.7 47.5h0.9v0.9h-0.9zM490.0 44.3h0.9v0.9h-0.9zM487.8 45.7h0.9v0.9h-0.9zM488.1 49.4h0.9v0.9h-0.9zM486.3 43.8h0.9v0.9h-0.9zM486.0 45.4h0.9v0.9h-0.9zM487.5 46.0h0.9v0.9h-0.9zM490.2 46.2h0.9v0.9h-0.9zM488.4 45.8h0.9v0.9h-0.9zM486.3 51.0h0.9v0.9h-0.9zM486.6 49.4h0.9v0.9h-0.9zM486.6 47.2h0.9v0.9h-0.9zM484.6 45.8h0.9v0.9h-0.9zM486.5 43.4h0.9v0.9h-0.9zM488.7 46.1h0.9v0.9h-0.9zM486.6 44.1h0.9v0.9h-0.9zM487.9 45.1h0.9v0.9h-0.9zM488.8 42.8h0.9v0.9h-0.9zM486.1 42.4h0.9v0.9h-0.9zM489.0 44.9h0.9v0.9h-0.9zM487.4 46.5h0.9v0.9h-0.9zM490.2 49.6h0.9v0.9h-0.9zM487.8 44.7h0.9v0.9h-0.9zM486.6 43.7h0.9v0.9h-0.9zM489.6 46.3h0.9v0.9h-0.9zM487.5 46.1h0.9v0.9h-0.9zM486.8 48.2h0.9v0.9h-0.9zM487.0 45.3h0.9v0.9h-0.9zM490.1 45.5h0.9v0.9h-0.9zM485.9 43.5h0.9v0.9h-0.9zM488.9 42.2h0.9v0.9h-0.9zM489.2 43.1h0.9v0.9h-0.9zM488.5 49.2h0.9v0.9h-0.9zM487.8 49.3h0.9v0.9h-0.9zM485.7 44.0h0.9v0.9h-0.9zM488.7 48.8h0.9v0.9h-0.9z"/>
<path fill="#000" fill-opacity="0.38" d="M489.2 49.2h0.9v0.9h-0.9zM488.8 47.6h0.9v0.9h-0.9zM488.3 47.0h0.9v0.9h-0.9zM489.8 45.5h0.9v0.9h-0.9zM487.8 43.9h0.9v0.9h-0.9zM486.2 48.1h0.9v0.9h-0.9zM486.3 47.9h0.9v0.9h-0.9zM487.5 41.9h0.9v0.9h-0.9zM487.2 48.6h0.9v0.9h-0.9zM486.7 47.0h0.9v0.9h-0.9zM488.1 44.0h0.9v0.9h-0.9zM489.3 45.1h0.9v0.9h-0.9zM488.6 43.9h0.9v0.9h-0.9zM490.4 50.0h0.9v0.9h-0.9zM486.3 47.5h0.9v0.9h-0.9zM488.3 49.5h0.9v0.9h-0.9zM486.4 46.5h0.9v0.9h-0.9zM486.9 46.3h0.9v0.9h-0.9zM487.2 47.1h0.9v0.9h-0.9zM487.5 48.2h0.9v0.9h-0.9zM490.0 47.3h0.9v0.9h-0.9zM490.8 46.4h0.9v0.9h-0.9zM487.5 46.9h0.9v0.9h-0.9zM486.7 42.3h0.9v0.9h-0.9zM485.6 47.6h0.9v0.9h-0.9zM487.2 46.2h0.9v0.9h-0.9zM486.4 46.5h0.9v0.9h-0.9zM486.8 43.8h0.9v0.9h-0.9zM486.5 45.8h0.9v0.9h-0.9zM487.0 47.7h0.9v0.9h-0.9zM488.4 44.5h0.9v0.9h-0.9zM486.7 43.1h0.9v0.9h-0.9zM489.8 46.8h0.9v0.9h-0.9zM489.3 44.7h0.9v0.9h-0.9zM487.4 43.5h0.9v0.9h-0.9zM488.0 46.5h0.9v0.9h-0.9zM487.0 45.4h0.9v0.9h-0.9zM489.4 46.9h0.9v0.9h-0.9zM489.1 46.2h0.9v0.9h-0.9zM487.4 44.9h0.9v0.9h-0.9zM490.0 48.1h0.9v0.9h-0.9zM489.9 47.1h0.9v0.9h-0.9zM485.2 47.1h0.9v0.9h-0.9zM488.1 45.3h0.9v0.9h-0.9zM486.8 47.9h0.9v0.9h-0.9zM487.0 44.5h0.9v0.9h-0.9zM490.9 48.0h0.9v0.9h-0.9zM487.1 45.0h0.9v0.9h-0.9zM488.2 44.5h0.9v0.9h-0.9zM490.1 47.0h0.9v0.9h-0.9zM486.8 41.9h0.9v0.9h-0.9zM488.7 45.4h0.9v0.9h-0.9zM488.2 43.9h0.9v0.9h-0.9zM489.0 44.4h0.9v0.9h-0.9zM486.9 48.0h0.9v0.9h-0.9z"/>
<path fill="#000" fill-opacity="0.2" d="M485.3 49.0h0.8v0.8h-0.8zM488.3 44.1h0.8v0.8h-0.8zM489.9 42.9h0.8v0.8h-0.8zM490.7 37.2h0.8v0.8h-0.8zM483.0 43.5h0.8v0.8h-0.8zM492.7 53.1h0.8v0.8h-0.8zM486.4 47.0h0.8v0.8h-0.8zM492.5 41.5h0.8v0.8h-0.8zM489.3 47.0h0.8v0.8h-0.8zM489.7 48.4h0.8v0.8h-0.8zM487.7 45.7h0.8v0.8h-0.8zM491.5 40.2h0.8v0.8h-0.8zM485.6 47.3h0.8v0.8h-0.8zM487.2 41.5h0.8v0.8h-0.8zM489.2 43.3h0.8v0.8h-0.8zM493.1 49.2h0.8v0.8h-0.8zM482.6 55.3h0.8v0.8h-0.8zM487.6 43.1h0.8v0.8h-0.8zM489.5 42.2h0.8v0.8h-0.8zM489.8 52.4h0.8v0.8h-0.8zM487.6 48.9h0.8v0.8h-0.8zM487.6 42.3h0.8v0.8h-0.8zM487.4 46.3h0.8v0.8h-0.8zM486.9 48.0h0.8v0.8h-0.8zM490.9 50.5h0.8v0.8h-0.8zM492.8 49.3h0.8v0.8h-0.8zM489.7 45.7h0.8v0.8h-0.8zM487.4 43.9h0.8v0.8h-0.8zM490.7 41.8h0.8v0.8h-0.8zM486.7 47.5h0.8v0.8h-0.8zM490.7 38.1h0.8v0.8h-0.8zM488.3 42.8h0.8v0.8h-0.8zM489.9 39.4h0.8v0.8h-0.8zM486.2 43.6h0.8v0.8h-0.8zM492.3 45.0h0.8v0.8h-0.8zM486.6 43.9h0.8v0.8h-0.8zM485.1 45.8h0.8v0.8h-0.8zM490.9 45.0h0.8v0.8h-0.8zM487.2 50.1h0.8v0.8h-0.8zM484.5 43.9h0.8v0.8h-0.8zM487.2 49.0h0.8v0.8h-0.8zM489.1 44.1h0.8v0.8h-0.8zM488.4 47.5h0.8v0.8h-0.8zM489.3 48.1h0.8v0.8h-0.8zM484.1 41.2h0.8v0.8h-0.8zM488.8 40.3h0.8v0.8h-0.8zM481.2 46.4h0.8v0.8h-0.8zM485.2 47.6h0.8v0.8h-0.8zM489.1 38.9h0.8v0.8h-0.8zM486.9 45.5h0.8v0.8h-0.8zM482.8 50.1h0.8v0.8h-0.8zM478.9 43.0h0.8v0.8h-0.8zM484.1 53.9h0.8v0.8h-0.8zM483.1 42.7h0.8v0.8h-0.8zM483.2 44.9h0.8v0.8h-0.8z"/>
<path fill="#000" fill-opacity="0.2" d="M488.4 47.2h0.8v0.8h-0.8zM485.9 44.2h0.8v0.8h-0.8zM486.1 45.1h0.8v0.8h-0.8zM487.9 47.4h0.8v0.8h-0.8zM481.8 48.8h0.8v0.8h-0.8zM487.7 51.3h0.8v0.8h-0.8zM495.8 43.7h0.8v0.8h-0.8zM488.3 45.3h0.8v0.8h-0.8zM488.1 37.1h0.8v0.8h-0.8zM487.8 48.3h0.8v0.8h-0.8zM487.5 43.8h0.8v0.8h-0.8zM489.7 49.6h0.8v0.8h-0.8zM489.2 42.3h0.8v0.8h-0.8zM491.1 52.5h0.8v0.8h-0.8zM489.4 50.2h0.8v0.8h-0.8zM487.0 44.0h0.8v0.8h-0.8zM493.8 46.2h0.8v0.8h-0.8zM488.4 46.2h0.8v0.8h-0.8zM489.0 50.1h0.8v0.8h-0.8zM487.5 43.8h0.8v0.8h-0.8zM484.8 42.3h0.8v0.8h-0.8zM487.7 45.0h0.8v0.8h-0.8zM490.4 43.9h0.8v0.8h-0.8zM485.5 50.1h0.8v0.8h-0.8zM490.0 39.2h0.8v0.8h-0.8zM490.8 45.0h0.8v0.8h-0.8zM488.4 48.0h0.8v0.8h-0.8zM491.4 46.9h0.8v0.8h-0.8zM489.2 46.9h0.8v0.8h-0.8zM483.6 42.1h0.8v0.8h-0.8zM485.8 48.9h0.8v0.8h-0.8zM488.0 49.8h0.8v0.8h-0.8zM490.9 47.9h0.8v0.8h-0.8zM486.9 46.0h0.8v0.8h-0.8zM491.3 44.2h0.8v0.8h-0.8zM487.0 43.5h0.8v0.8h-0.8zM489.9 45.3h0.8v0.8h-0.8zM487.6 50.6h0.8v0.8h-0.8zM487.4 49.1h0.8v0.8h-0.8zM489.1 52.2h0.8v0.8h-0.8zM488.5 50.9h0.8v0.8h-0.8zM485.1 44.7h0.8v0.8h-0.8zM489.8 43.3h0.8v0.8h-0.8zM492.0 44.7h0.8v0.8h-0.8zM489.3 42.1h0.8v0.8h-0.8zM489.1 45.3h0.8v0.8h-0.8zM485.5 44.5h0.8v0.8h-0.8zM487.5 43.1h0.8v0.8h-0.8zM485.1 46.3h0.8v0.8h-0.8zM489.9 44.6h0.8v0.8h-0.8zM488.7 46.4h0.8v0.8h-0.8zM484.8 45.8h0.8v0.8h-0.8zM486.5 42.0h0.8v0.8h-0.8zM490.8 45.3h0.8v0.8h-0.8zM489.0 49.3h0.8v0.8h-0.8z"/>
<path fill="#000" fill-opacity="0.2" d="M490.4 46.2h0.8v0.8h-0.8zM487.4 46.2h0.8v0.8h-0.8zM488.4 42.3h0.8v0.8h-0.8zM488.4 48.6h0.8v0.8h-0.8zM488.7 45.5h0.8v0.8h-0.8zM483.8 38.8h0.8v0.8h-0.8zM488.0 47.4h0.8v0.8h-0.8zM488.8 40.3h0.8v0.8h-0.8zM486.9 43.4h0.8v0.8h-0.8zM486.3 46.6h0.8v0.8h-0.8zM493.7 48.3h0.8v0.8h-0.8zM492.8 51.4h0.8v0.8h-0.8zM486.9 44.7h0.8v0.8h-0.8zM487.6 50.3h0.8v0.8h-0.8zM485.6 54.0h0.8v0.8h-0.8zM485.8 46.8h0.8v0.8h-0.8zM489.7 48.2h0.8v0.8h-0.8zM488.7 43.0h0.8v0.8h-0.8zM489.5 44.9h0.8v0.8h-0.8zM488.9 47.1h0.8v0.8h-0.8zM489.2 41.5h0.8v0.8h-0.8zM488.8 43.0h0.8v0.8h-0.8zM489.3 44.1h0.8v0.8h-0.8zM491.0 46.4h0.8v0.8h-0.8zM486.1 51.8h0.8v0.8h-0.8zM484.7 45.9h0.8v0.8h-0.8zM487.9 53.5h0.8v0.8h-0.8zM485.1 44.1h0.8v0.8h-0.8zM484.8 46.5h0.8v0.8h-0.8zM489.9 50.4h0.8v0.8h-0.8zM489.6 42.3h0.8v0.8h-0.8zM481.2 50.6h0.8v0.8h-0.8zM493.8 43.9h0.8v0.8h-0.8zM485.1 48.2h0.8v0.8h-0.8zM489.9 38.8h0.8v0.8h-0.8zM482.2 44.0h0.8v0.8h-0.8zM486.6 51.6h0.8v0.8h-0.8zM486.5 45.8h0.8v0.8h-0.8zM490.7 48.9h0.8v0.8h-0.8zM484.7 47.5h0.8v0.8h-0.8zM485.3 49.8h0.8v0.8h-0.8zM486.2 57.6h0.8v0.8h-0.8zM490.3 47.8h0.8v0.8h-0.8zM489.2 49.2h0.8v0.8h-0.8zM487.6 39.9h0.8v0.8h-0.8zM488.1 46.0h0.8v0.8h-0.8zM489.0 38.6h0.8v0.8h-0.8zM485.3 49.4h0.8v0.8h-0.8zM488.8 49.3h0.8v0.8h-0.8zM490.6 40.1h0.8v0.8h-0.8zM485.1 44.5h0.8v0.8h-0.8zM486.9 42.7h0.8v0.8h-0.8zM489.9 48.5h0.8v0.8h-0.8zM484.5 48.3h0.8v0.8h-0.8zM492.7 45.3h0.8v0.8h-0.8z"/>
<path fill="#000" fill-opacity="0.2" d="M490.8 49.7h0.8v0.8h-0.8zM495.7 48.8h0.8v0.8h-0.8zM492.1 44.1h0.8v0.8h-0.8zM488.6 46.9h0.8v0.8h-0.8zM485.8 44.0h0.8v0.8h-0.8zM486.6 42.9h0.8v0.8h-0.8zM487.8 49.9h0.8v0.8h-0.8zM483.3 37.3h0.8v0.8h-0.8zM484.2 42.7h0.8v0.8h-0.8zM488.0 48.5h0.8v0.8h-0.8zM489.0 55.2h0.8v0.8h-0.8zM489.9 41.7h0.8v0.8h-0.8zM488.1 47.6h0.8v0.8h-0.8zM489.1 48.9h0.8v0.8h-0.8zM493.3 53.4h0.8v0.8h-0.8zM487.8 48.9h0.8v0.8h-0.8zM488.6 45.5h0.8v0.8h-0.8zM488.0 46.5h0.8v0.8h-0.8zM486.6 45.4h0.8v0.8h-0.8zM485.5 43.4h0.8v0.8h-0.8zM488.2 47.7h0.8v0.8h-0.8zM490.7 39.8h0.8v0.8h-0.8zM489.8 53.1h0.8v0.8h-0.8zM484.9 47.9h0.8v0.8h-0.8zM484.7 50.7h0.8v0.8h-0.8zM487.4 46.1h0.8v0.8h-0.8zM489.1 46.6h0.8v0.8h-0.8zM487.5 44.6h0.8v0.8h-0.8zM487.7 48.3h0.8v0.8h-0.8zM487.9 44.0h0.8v0.8h-0.8zM483.0 52.0h0.8v0.8h-0.8zM489.8 38.2h0.8v0.8h-0.8zM487.9 50.4h0.8v0.8h-0.8zM489.3 46.6h0.8v0.8h-0.8zM488.4 45.6h0.8v0.8h-0.8zM486.5 44.3h0.8v0.8h-0.8zM490.4 49.9h0.8v0.8h-0.8zM488.9 47.8h0.8v0.8h-0.8zM489.8 41.8h0.8v0.8h-0.8zM485.7 43.4h0.8v0.8h-0.8zM490.3 46.6h0.8v0.8h-0.8zM486.6 52.7h0.8v0.8h-0.8zM484.0 48.6h0.8v0.8h-0.8zM485.6 51.0h0.8v0.8h-0.8zM488.1 41.9h0.8v0.8h-0.8zM488.2 41.1h0.8v0.8h-0.8zM485.9 43.9h0.8v0.8h-0.8zM486.2 48.6h0.8v0.8h-0.8zM490.0 50.3h0.8v0.8h-0.8zM489.6 45.6h0.8v0.8h-0.8zM491.8 43.1h0.8v0.8h-0.8zM485.7 50.4h0.8v0.8h-0.8zM485.2 49.2h0.8v0.8h-0.8zM490.3 46.2h0.8v0.8h-0.8zM486.6 46.2h0.8v0.8h-0.8z"/>
<path fill="#000" fill-opacity="0.22" d="M486.6 78.0h0.8v0.8h-0.8zM480.1 65.4h0.8v0.8h-0.8zM482.8 69.8h0.8v0.8h-0.8zM485.3 75.0h0.8v0.8h-0.8zM474.2 73.1h0.8v0.8h-0.8zM484.6 72.0h0.8v0.8h-0.8zM483.6 75.9h0.8v0.8h-0.8zM481.1 70.6h0.8v0.8h-0.8zM479.8 66.6h0.8v0.8h-0.8zM484.2 73.7h0.8v0.8h-0.8zM482.9 67.8h0.8v0.8h-0.8zM482.2 81.0h0.8v0.8h-0.8zM482.5 64.1h0.8v0.8h-0.8zM483.4 74.9h0.8v0.8h-0.8zM484.0 70.5h0.8v0.8h-0.8zM478.4 65.8h0.8v0.8h-0.8zM482.7 79.6h0.8v0.8h-0.8zM484.3 71.9h0.8v0.8h-0.8zM481.2 69.4h0.8v0.8h-0.8zM486.0 68.8h0.8v0.8h-0.8zM486.3 67.2h0.8v0.8h-0.8zM484.8 62.2h0.8v0.8h-0.8zM482.7 78.5h0.8v0.8h-0.8zM482.9 62.4h0.8v0.8h-0.8zM485.6 74.4h0.8v0.8h-0.8zM479.5 68.6h0.8v0.8h-0.8zM485.5 62.5h0.8v0.8h-0.8zM483.3 75.5h0.8v0.8h-0.8zM486.0 80.2h0.8v0.8h-0.8zM487.2 70.2h0.8v0.8h-0.8zM481.9 66.8h0.8v0.8h-0.8zM485.7 69.8h0.8v0.8h-0.8zM483.5 71.9h0.8v0.8h-0.8zM485.5 68.3h0.8v0.8h-0.8zM480.9 76.9h0.8v0.8h-0.8zM485.3 65.5h0.8v0.8h-0.8zM482.2 63.0h0.8v0.8h-0.8zM486.8 63.8h0.8v0.8h-0.8zM486.7 74.2h0.8v0.8h-0.8zM487.9 78.4h0.8v0.8h-0.8zM485.6 78.2h0.8v0.8h-0.8zM481.0 69.0h0.8v0.8h-0.8zM485.1 79.7h0.8v0.8h-0.8zM482.3 75.4h0.8v0.8h-0.8zM481.7 76.1h0.8v0.8h-0.8zM482.5 71.9h0.8v0.8h-0.8zM484.6 67.5h0.8v0.8h-0.8zM482.0 81.0h0.8v0.8h-0.8zM483.7 75.1h0.8v0.8h-0.8zM481.9 68.5h0.8v0.8h-0.8zM486.7 69.0h0.8v0.8h-0.8zM484.6 79.4h0.8v0.8h-0.8zM481.3 71.4h0.8v0.8h-0.8zM482.4 69.8h0.8v0.8h-0.8zM483.4 81.4h0.8v0.8h-0.8zM486.7 77.1h0.8v0.8h-0.8zM486.9 65.9h0.8v0.8h-0.8zM485.7 80.0h0.8v0.8h-0.8zM481.2 64.1h0.8v0.8h-0.8zM482.3 72.6h0.8v0.8h-0.8zM484.3 78.4h0.8v0.8h-0.8zM484.7 67.4h0.8v0.8h-0.8zM481.5 80.6h0.8v0.8h-0.8zM483.5 65.2h0.8v0.8h-0.8zM484.8 79.1h0.8v0.8h-0.8zM482.6 65.0h0.8v0.8h-0.8zM486.8 68.3h0.8v0.8h-0.8zM482.3 67.1h0.8v0.8h-0.8zM484.0 72.8h0.8v0.8h-0.8zM481.9 77.5h0.8v0.8h-0.8zM483.1 74.3h0.8v0.8h-0.8zM479.7 71.2h0.8v0.8h-0.8zM488.8 70.7h0.8v0.8h-0.8zM482.6 76.1h0.8v0.8h-0.8zM484.8 73.2h0.8v0.8h-0.8zM486.1 79.6h0.8v0.8h-0.8zM482.8 69.6h0.8v0.8h-0.8zM482.6 73.6h0.8v0.8h-0.8zM484.6 79.1h0.8v0.8h-0.8zM481.7 75.2h0.8v0.8h-0.8zM481.7 73.6h0.8v0.8h-0.8zM484.2 73.9h0.8v0.8h-0.8zM483.4 77.9h0.8v0.8h-0.8zM481.4 76.4h0.8v0.8h-0.8zM484.4 70.7h0.8v0.8h-0.8zM479.4 77.1h0.8v0.8h-0.8zM484.7 62.8h0.8v0.8h-0.8zM484.3 76.4h0.8v0.8h-0.8zM486.5 74.3h0.8v0.8h-0.8zM486.7 62.9h0.8v0.8h-0.8zM478.2 80.5h0.8v0.8h-0.8zM483.5 76.8h0.8v0.8h-0.8zM486.3 79.0h0.8v0.8h-0.8zM477.6 64.8h0.8v0.8h-0.8zM484.7 68.8h0.8v0.8h-0.8zM483.1 63.8h0.8v0.8h-0.8zM484.6 75.3h0.8v0.8h-0.8zM484.0 66.3h0.8v0.8h-0.8zM482.1 62.0h0.8v0.8h-0.8zM485.2 65.2h0.8v0.8h-0.8zM481.4 80.0h0.8v0.8h-0.8zM483.1 66.9h0.8v0.8h-0.8zM483.0 75.4h0.8v0.8h-0.8zM486.3 69.6h0.8v0.8h-0.8zM482.0 81.6h0.8v0.8h-0.8z"/>
<path fill="#000" fill-opacity="0.22" d="M480.8 81.4h0.8v0.8h-0.8zM483.1 65.2h0.8v0.8h-0.8zM482.7 77.4h0.8v0.8h-0.8zM480.3 65.5h0.8v0.8h-0.8zM481.5 69.8h0.8v0.8h-0.8zM484.3 78.1h0.8v0.8h-0.8zM480.9 68.7h0.8v0.8h-0.8zM482.1 69.3h0.8v0.8h-0.8zM484.7 62.5h0.8v0.8h-0.8zM481.2 80.8h0.8v0.8h-0.8zM481.4 79.1h0.8v0.8h-0.8zM484.6 67.4h0.8v0.8h-0.8zM483.9 78.1h0.8v0.8h-0.8zM484.0 68.4h0.8v0.8h-0.8zM482.1 78.3h0.8v0.8h-0.8zM488.1 80.6h0.8v0.8h-0.8zM481.3 73.4h0.8v0.8h-0.8zM482.3 72.5h0.8v0.8h-0.8zM482.3 63.3h0.8v0.8h-0.8zM485.5 71.6h0.8v0.8h-0.8zM486.4 69.7h0.8v0.8h-0.8zM484.9 75.2h0.8v0.8h-0.8zM481.4 68.6h0.8v0.8h-0.8zM479.1 62.4h0.8v0.8h-0.8zM483.9 65.2h0.8v0.8h-0.8zM484.9 61.6h0.8v0.8h-0.8zM480.4 66.5h0.8v0.8h-0.8zM482.2 69.5h0.8v0.8h-0.8zM482.4 75.4h0.8v0.8h-0.8zM484.7 71.8h0.8v0.8h-0.8zM478.6 72.5h0.8v0.8h-0.8zM484.2 65.6h0.8v0.8h-0.8zM485.3 70.5h0.8v0.8h-0.8zM486.0 77.9h0.8v0.8h-0.8zM481.6 78.2h0.8v0.8h-0.8zM484.1 75.6h0.8v0.8h-0.8zM484.5 61.8h0.8v0.8h-0.8zM482.9 71.4h0.8v0.8h-0.8zM481.4 80.3h0.8v0.8h-0.8zM484.1 67.5h0.8v0.8h-0.8zM487.4 76.4h0.8v0.8h-0.8zM485.8 78.2h0.8v0.8h-0.8zM479.5 80.5h0.8v0.8h-0.8zM482.8 64.9h0.8v0.8h-0.8zM484.0 61.7h0.8v0.8h-0.8zM487.2 70.0h0.8v0.8h-0.8zM482.4 70.5h0.8v0.8h-0.8zM486.0 79.8h0.8v0.8h-0.8zM482.4 73.8h0.8v0.8h-0.8zM481.5 79.3h0.8v0.8h-0.8zM485.3 73.2h0.8v0.8h-0.8zM484.4 72.6h0.8v0.8h-0.8zM482.9 72.7h0.8v0.8h-0.8zM482.7 63.1h0.8v0.8h-0.8zM482.0 76.0h0.8v0.8h-0.8zM482.4 64.3h0.8v0.8h-0.8zM483.6 67.6h0.8v0.8h-0.8zM480.8 79.0h0.8v0.8h-0.8zM478.7 69.1h0.8v0.8h-0.8zM482.5 77.7h0.8v0.8h-0.8zM486.1 73.2h0.8v0.8h-0.8zM486.5 75.3h0.8v0.8h-0.8zM478.7 61.9h0.8v0.8h-0.8zM482.6 78.0h0.8v0.8h-0.8zM481.1 73.8h0.8v0.8h-0.8zM482.9 68.8h0.8v0.8h-0.8zM483.4 62.0h0.8v0.8h-0.8zM481.4 71.6h0.8v0.8h-0.8zM483.3 77.0h0.8v0.8h-0.8zM485.0 79.1h0.8v0.8h-0.8zM480.1 68.6h0.8v0.8h-0.8zM490.5 68.9h0.8v0.8h-0.8zM483.5 70.5h0.8v0.8h-0.8zM485.5 72.6h0.8v0.8h-0.8zM484.1 81.3h0.8v0.8h-0.8zM484.6 67.1h0.8v0.8h-0.8zM481.5 65.6h0.8v0.8h-0.8zM476.4 63.2h0.8v0.8h-0.8zM486.4 74.4h0.8v0.8h-0.8zM481.1 68.4h0.8v0.8h-0.8zM486.0 66.7h0.8v0.8h-0.8zM483.2 76.1h0.8v0.8h-0.8zM482.1 70.1h0.8v0.8h-0.8zM481.9 66.8h0.8v0.8h-0.8zM475.9 67.2h0.8v0.8h-0.8zM483.9 68.8h0.8v0.8h-0.8zM483.6 71.6h0.8v0.8h-0.8zM484.7 80.0h0.8v0.8h-0.8zM482.9 68.5h0.8v0.8h-0.8zM486.1 74.5h0.8v0.8h-0.8zM486.5 74.1h0.8v0.8h-0.8zM485.1 74.5h0.8v0.8h-0.8zM487.8 66.9h0.8v0.8h-0.8zM483.8 75.3h0.8v0.8h-0.8zM488.7 77.2h0.8v0.8h-0.8zM483.9 81.1h0.8v0.8h-0.8zM484.2 63.4h0.8v0.8h-0.8zM483.2 77.4h0.8v0.8h-0.8zM483.8 81.4h0.8v0.8h-0.8zM485.5 75.3h0.8v0.8h-0.8zM485.8 68.6h0.8v0.8h-0.8zM485.0 63.0h0.8v0.8h-0.8zM483.6 74.7h0.8v0.8h-0.8zM480.2 68.0h0.8v0.8h-0.8zM484.1 61.7h0.8v0.8h-0.8z"/>
<path fill="#000" fill-opacity="0.22" d="M485.5 64.7h0.8v0.8h-0.8zM480.8 68.7h0.8v0.8h-0.8zM481.9 61.7h0.8v0.8h-0.8zM479.9 66.9h0.8v0.8h-0.8zM484.4 76.8h0.8v0.8h-0.8zM479.6 62.8h0.8v0.8h-0.8zM484.3 63.6h0.8v0.8h-0.8zM488.6 73.3h0.8v0.8h-0.8zM488.1 67.9h0.8v0.8h-0.8zM476.7 66.5h0.8v0.8h-0.8zM478.5 66.5h0.8v0.8h-0.8zM482.1 72.3h0.8v0.8h-0.8zM482.1 65.4h0.8v0.8h-0.8zM485.7 63.5h0.8v0.8h-0.8zM483.8 68.7h0.8v0.8h-0.8zM481.4 70.7h0.8v0.8h-0.8zM481.9 73.8h0.8v0.8h-0.8zM482.7 69.3h0.8v0.8h-0.8zM485.6 68.0h0.8v0.8h-0.8zM483.0 67.8h0.8v0.8h-0.8zM487.2 79.3h0.8v0.8h-0.8zM482.0 69.9h0.8v0.8h-0.8zM482.1 63.9h0.8v0.8h-0.8zM484.2 67.7h0.8v0.8h-0.8zM485.2 75.9h0.8v0.8h-0.8zM485.7 67.3h0.8v0.8h-0.8zM487.0 65.8h0.8v0.8h-0.8zM483.2 67.2h0.8v0.8h-0.8zM482.9 74.2h0.8v0.8h-0.8zM484.6 76.8h0.8v0.8h-0.8zM487.1 72.5h0.8v0.8h-0.8zM482.8 75.7h0.8v0.8h-0.8zM485.6 67.6h0.8v0.8h-0.8zM478.9 65.0h0.8v0.8h-0.8zM485.0 68.8h0.8v0.8h-0.8zM482.0 68.1h0.8v0.8h-0.8zM487.8 63.3h0.8v0.8h-0.8zM481.7 72.5h0.8v0.8h-0.8zM482.1 66.5h0.8v0.8h-0.8zM484.8 78.5h0.8v0.8h-0.8zM482.5 78.1h0.8v0.8h-0.8zM483.4 72.9h0.8v0.8h-0.8zM480.1 64.7h0.8v0.8h-0.8zM476.6 63.4h0.8v0.8h-0.8zM486.2 77.3h0.8v0.8h-0.8zM481.8 74.9h0.8v0.8h-0.8zM481.0 65.5h0.8v0.8h-0.8zM488.1 80.8h0.8v0.8h-0.8zM482.3 80.7h0.8v0.8h-0.8zM485.0 75.2h0.8v0.8h-0.8zM480.4 72.9h0.8v0.8h-0.8zM487.4 66.7h0.8v0.8h-0.8zM483.8 63.9h0.8v0.8h-0.8zM478.3 72.6h0.8v0.8h-0.8zM487.4 69.4h0.8v0.8h-0.8zM483.5 66.3h0.8v0.8h-0.8zM482.5 79.4h0.8v0.8h-0.8zM485.5 68.4h0.8v0.8h-0.8zM482.8 76.0h0.8v0.8h-0.8zM488.0 75.1h0.8v0.8h-0.8zM483.7 63.8h0.8v0.8h-0.8zM482.2 79.1h0.8v0.8h-0.8zM482.5 71.6h0.8v0.8h-0.8zM482.1 71.1h0.8v0.8h-0.8zM485.4 65.9h0.8v0.8h-0.8zM479.8 69.4h0.8v0.8h-0.8zM475.6 62.5h0.8v0.8h-0.8zM483.0 72.2h0.8v0.8h-0.8zM486.5 74.3h0.8v0.8h-0.8zM487.1 67.7h0.8v0.8h-0.8zM480.7 62.8h0.8v0.8h-0.8zM483.4 68.6h0.8v0.8h-0.8zM481.2 65.0h0.8v0.8h-0.8zM485.6 80.0h0.8v0.8h-0.8zM480.4 70.2h0.8v0.8h-0.8zM483.3 64.9h0.8v0.8h-0.8zM479.0 74.6h0.8v0.8h-0.8zM485.3 68.4h0.8v0.8h-0.8zM485.0 68.1h0.8v0.8h-0.8zM485.9 62.5h0.8v0.8h-0.8zM482.9 80.1h0.8v0.8h-0.8zM482.7 64.7h0.8v0.8h-0.8zM479.8 72.7h0.8v0.8h-0.8zM482.2 77.1h0.8v0.8h-0.8zM476.9 64.2h0.8v0.8h-0.8zM485.2 76.7h0.8v0.8h-0.8zM481.7 80.4h0.8v0.8h-0.8zM483.6 77.2h0.8v0.8h-0.8zM484.2 68.1h0.8v0.8h-0.8zM478.9 62.8h0.8v0.8h-0.8zM483.6 66.8h0.8v0.8h-0.8zM480.7 65.9h0.8v0.8h-0.8zM483.3 67.3h0.8v0.8h-0.8zM480.9 73.2h0.8v0.8h-0.8zM484.4 78.9h0.8v0.8h-0.8zM489.2 64.6h0.8v0.8h-0.8zM480.1 75.9h0.8v0.8h-0.8zM483.0 71.7h0.8v0.8h-0.8zM481.1 64.0h0.8v0.8h-0.8zM485.9 71.6h0.8v0.8h-0.8zM484.8 79.3h0.8v0.8h-0.8zM486.4 69.8h0.8v0.8h-0.8zM480.0 75.4h0.8v0.8h-0.8zM477.0 69.3h0.8v0.8h-0.8zM478.5 66.7h0.8v0.8h-0.8z"/>
<path fill="#000" fill-opacity="0.22" d="M481.5 67.4h0.8v0.8h-0.8zM480.6 81.5h0.8v0.8h-0.8zM487.2 67.7h0.8v0.8h-0.8zM483.3 74.5h0.8v0.8h-0.8zM484.4 63.7h0.8v0.8h-0.8zM480.1 61.8h0.8v0.8h-0.8zM485.2 79.7h0.8v0.8h-0.8zM485.2 80.8h0.8v0.8h-0.8zM481.1 79.6h0.8v0.8h-0.8zM483.5 69.4h0.8v0.8h-0.8zM483.8 65.1h0.8v0.8h-0.8zM482.8 69.3h0.8v0.8h-0.8zM484.9 67.3h0.8v0.8h-0.8zM486.8 67.0h0.8v0.8h-0.8zM481.8 76.0h0.8v0.8h-0.8zM483.2 64.2h0.8v0.8h-0.8zM484.8 65.9h0.8v0.8h-0.8zM487.9 74.8h0.8v0.8h-0.8zM488.0 74.9h0.8v0.8h-0.8zM484.3 66.1h0.8v0.8h-0.8zM480.8 78.8h0.8v0.8h-0.8zM481.1 74.8h0.8v0.8h-0.8zM482.1 79.9h0.8v0.8h-0.8zM484.8 69.2h0.8v0.8h-0.8zM480.3 66.7h0.8v0.8h-0.8zM479.3 62.5h0.8v0.8h-0.8zM486.4 79.9h0.8v0.8h-0.8zM478.2 63.4h0.8v0.8h-0.8zM478.2 70.7h0.8v0.8h-0.8zM482.7 62.5h0.8v0.8h-0.8zM482.6 66.6h0.8v0.8h-0.8zM484.7 75.0h0.8v0.8h-0.8zM482.3 79.3h0.8v0.8h-0.8zM481.9 74.9h0.8v0.8h-0.8zM484.8 65.7h0.8v0.8h-0.8zM483.7 71.0h0.8v0.8h-0.8zM483.1 75.9h0.8v0.8h-0.8zM484.0 61.8h0.8v0.8h-0.8zM481.6 64.4h0.8v0.8h-0.8zM486.8 80.1h0.8v0.8h-0.8zM484.8 68.0h0.8v0.8h-0.8zM484.1 74.2h0.8v0.8h-0.8zM483.4 67.6h0.8v0.8h-0.8zM485.8 62.4h0.8v0.8h-0.8zM478.8 70.1h0.8v0.8h-0.8zM485.8 78.1h0.8v0.8h-0.8zM482.3 63.3h0.8v0.8h-0.8zM477.8 74.0h0.8v0.8h-0.8zM486.7 71.2h0.8v0.8h-0.8zM483.6 70.5h0.8v0.8h-0.8zM485.0 69.5h0.8v0.8h-0.8zM486.8 63.5h0.8v0.8h-0.8zM486.8 71.9h0.8v0.8h-0.8zM485.3 75.9h0.8v0.8h-0.8zM486.3 65.0h0.8v0.8h-0.8zM482.4 69.0h0.8v0.8h-0.8zM480.6 74.0h0.8v0.8h-0.8zM487.2 76.9h0.8v0.8h-0.8zM476.8 62.5h0.8v0.8h-0.8zM487.3 66.7h0.8v0.8h-0.8zM483.7 77.6h0.8v0.8h-0.8zM484.3 72.4h0.8v0.8h-0.8zM484.6 79.1h0.8v0.8h-0.8zM480.9 64.8h0.8v0.8h-0.8zM484.4 79.5h0.8v0.8h-0.8zM484.0 68.7h0.8v0.8h-0.8zM485.3 64.5h0.8v0.8h-0.8zM486.8 80.7h0.8v0.8h-0.8zM480.0 74.3h0.8v0.8h-0.8zM481.8 76.9h0.8v0.8h-0.8zM482.4 68.3h0.8v0.8h-0.8zM485.3 64.3h0.8v0.8h-0.8zM482.3 62.9h0.8v0.8h-0.8zM482.4 73.3h0.8v0.8h-0.8zM486.9 79.0h0.8v0.8h-0.8zM483.9 67.0h0.8v0.8h-0.8zM480.1 65.5h0.8v0.8h-0.8zM478.2 64.3h0.8v0.8h-0.8zM482.4 76.6h0.8v0.8h-0.8zM484.3 74.1h0.8v0.8h-0.8zM483.4 72.9h0.8v0.8h-0.8zM484.4 64.5h0.8v0.8h-0.8zM482.4 74.7h0.8v0.8h-0.8zM478.9 67.8h0.8v0.8h-0.8zM482.4 61.8h0.8v0.8h-0.8zM483.2 63.4h0.8v0.8h-0.8zM482.7 68.9h0.8v0.8h-0.8zM483.9 66.5h0.8v0.8h-0.8zM480.5 79.7h0.8v0.8h-0.8zM486.4 72.9h0.8v0.8h-0.8zM485.3 70.3h0.8v0.8h-0.8zM491.6 73.0h0.8v0.8h-0.8zM478.3 68.2h0.8v0.8h-0.8zM481.6 79.3h0.8v0.8h-0.8zM482.0 81.5h0.8v0.8h-0.8zM483.7 76.3h0.8v0.8h-0.8zM488.4 79.2h0.8v0.8h-0.8zM482.6 66.2h0.8v0.8h-0.8zM488.4 71.3h0.8v0.8h-0.8zM486.8 63.8h0.8v0.8h-0.8zM490.2 76.2h0.8v0.8h-0.8zM484.2 72.7h0.8v0.8h-0.8zM482.4 81.2h0.8v0.8h-0.8zM486.8 69.3h0.8v0.8h-0.8zM479.4 73.8h0.8v0.8h-0.8z"/>
<path fill="#000" fill-opacity="0.16" d="M481.2 75.6h0.8v0.8h-0.8zM482.1 66.2h0.8v0.8h-0.8zM486.2 65.3h0.8v0.8h-0.8zM482.4 65.2h0.8v0.8h-0.8zM484.2 81.5h0.8v0.8h-0.8zM483.7 75.8h0.8v0.8h-0.8zM477.8 81.0h0.8v0.8h-0.8zM484.9 64.0h0.8v0.8h-0.8zM476.2 73.7h0.8v0.8h-0.8zM480.8 76.6h0.8v0.8h-0.8zM482.7 66.5h0.8v0.8h-0.8zM484.6 79.0h0.8v0.8h-0.8zM482.5 66.3h0.8v0.8h-0.8zM485.6 69.9h0.8v0.8h-0.8zM483.4 65.2h0.8v0.8h-0.8zM479.0 73.8h0.8v0.8h-0.8zM475.9 71.0h0.8v0.8h-0.8zM484.1 60.1h0.8v0.8h-0.8zM483.4 63.0h0.8v0.8h-0.8zM478.7 76.6h0.8v0.8h-0.8zM495.3 72.8h0.8v0.8h-0.8zM479.1 71.5h0.8v0.8h-0.8zM483.7 74.2h0.8v0.8h-0.8zM484.1 67.6h0.8v0.8h-0.8z"/>
<path fill="#000" fill-opacity="0.16" d="M483.9 75.3h0.8v0.8h-0.8zM480.2 65.0h0.8v0.8h-0.8zM472.5 59.6h0.8v0.8h-0.8zM477.9 70.4h0.8v0.8h-0.8zM487.7 68.2h0.8v0.8h-0.8zM477.8 74.5h0.8v0.8h-0.8zM484.1 68.7h0.8v0.8h-0.8zM481.7 72.9h0.8v0.8h-0.8zM483.4 68.0h0.8v0.8h-0.8zM482.7 72.9h0.8v0.8h-0.8zM482.0 76.7h0.8v0.8h-0.8zM484.8 62.6h0.8v0.8h-0.8zM478.5 77.5h0.8v0.8h-0.8zM489.5 70.0h0.8v0.8h-0.8zM478.7 70.7h0.8v0.8h-0.8zM485.5 65.9h0.8v0.8h-0.8zM480.1 61.9h0.8v0.8h-0.8zM485.4 75.3h0.8v0.8h-0.8zM489.0 75.6h0.8v0.8h-0.8zM490.7 71.8h0.8v0.8h-0.8zM482.8 77.4h0.8v0.8h-0.8zM486.5 73.9h0.8v0.8h-0.8zM479.5 70.4h0.8v0.8h-0.8zM487.8 67.7h0.8v0.8h-0.8z"/>
<path fill="#000" fill-opacity="0.16" d="M487.2 61.8h0.8v0.8h-0.8zM481.7 66.5h0.8v0.8h-0.8zM477.0 73.9h0.8v0.8h-0.8zM478.5 70.7h0.8v0.8h-0.8zM487.3 58.9h0.8v0.8h-0.8zM485.0 76.4h0.8v0.8h-0.8zM481.7 65.9h0.8v0.8h-0.8zM484.9 80.7h0.8v0.8h-0.8zM484.2 69.4h0.8v0.8h-0.8zM482.5 73.5h0.8v0.8h-0.8zM484.7 65.9h0.8v0.8h-0.8zM479.2 79.4h0.8v0.8h-0.8zM488.8 65.2h0.8v0.8h-0.8zM475.0 74.4h0.8v0.8h-0.8zM482.4 73.2h0.8v0.8h-0.8zM489.8 78.0h0.8v0.8h-0.8zM482.2 64.2h0.8v0.8h-0.8zM484.9 69.2h0.8v0.8h-0.8zM482.1 77.0h0.8v0.8h-0.8zM488.1 62.6h0.8v0.8h-0.8zM478.8 73.8h0.8v0.8h-0.8zM486.6 73.9h0.8v0.8h-0.8z"/>
<path fill="#000" fill-opacity="0.16" d="M484.4 70.8h0.8v0.8h-0.8zM489.9 72.1h0.8v0.8h-0.8zM483.1 65.2h0.8v0.8h-0.8zM479.8 65.7h0.8v0.8h-0.8zM478.8 70.9h0.8v0.8h-0.8zM484.4 67.2h0.8v0.8h-0.8zM484.1 70.5h0.8v0.8h-0.8zM486.3 76.0h0.8v0.8h-0.8zM481.8 64.8h0.8v0.8h-0.8zM480.4 71.3h0.8v0.8h-0.8zM485.6 73.6h0.8v0.8h-0.8zM478.1 61.5h0.8v0.8h-0.8zM479.7 74.4h0.8v0.8h-0.8zM479.3 78.1h0.8v0.8h-0.8zM482.6 74.4h0.8v0.8h-0.8zM488.6 73.5h0.8v0.8h-0.8zM479.0 75.0h0.8v0.8h-0.8zM481.1 64.0h0.8v0.8h-0.8zM484.7 73.8h0.8v0.8h-0.8zM489.1 75.6h0.8v0.8h-0.8zM480.9 79.3h0.8v0.8h-0.8zM486.5 65.1h0.8v0.8h-0.8zM485.2 67.8h0.8v0.8h-0.8zM480.0 68.6h0.8v0.8h-0.8zM479.3 70.5h0.8v0.8h-0.8z"/>
<path fill="#000" fill-opacity="0.6" d="M485.6 81.8h.8v.8h-.8zM480.7 81.3h.8v.8h-.8zM481.0 81.4h.8v.8h-.8zM489.6 81.5h.8v.8h-.8zM483.7 81.2h.8v.8h-.8zM483.6 81.2h.8v.8h-.8zM477.0 81.7h.8v.8h-.8zM486.9 82.1h.8v.8h-.8zM490.7 82.0h.8v.8h-.8zM486.1 81.9h.8v.8h-.8zM491.7 81.5h.8v.8h-.8zM489.6 81.6h.8v.8h-.8zM487.5 81.4h.8v.8h-.8zM481.0 81.9h.8v.8h-.8zM490.3 82.0h.8v.8h-.8zM491.6 81.9h.8v.8h-.8zM477.7 82.0h.8v.8h-.8zM489.3 81.1h.8v.8h-.8zM483.0 81.4h.8v.8h-.8zM480.4 81.2h.8v.8h-.8zM487.7 81.9h.8v.8h-.8zM477.0 81.4h.8v.8h-.8zM476.7 81.3h.8v.8h-.8zM481.0 81.9h.8v.8h-.8zM485.9 81.8h.8v.8h-.8zM485.5 81.9h.8v.8h-.8zM491.5 81.8h.8v.8h-.8zM490.3 81.9h.8v.8h-.8zM489.6 81.1h.8v.8h-.8zM482.7 82.1h.8v.8h-.8zM482.5 81.5h.8v.8h-.8zM479.8 81.6h.8v.8h-.8zM477.6 81.6h.8v.8h-.8zM488.4 81.7h.8v.8h-.8zM487.5 82.0h.8v.8h-.8zM490.1 82.0h.8v.8h-.8zM491.7 81.1h.8v.8h-.8zM492.0 81.6h.8v.8h-.8zM480.9 81.8h.8v.8h-.8zM488.8 81.6h.8v.8h-.8zM491.8 82.0h.8v.8h-.8zM484.2 81.2h.8v.8h-.8zM486.2 81.6h.8v.8h-.8zM477.5 82.0h.8v.8h-.8zM480.6 81.2h.8v.8h-.8z"/>
<line x1="456.0" y1="82.5" x2="519.0" y2="82.5" stroke="#555" stroke-width="0.9"/>
<line x1="455.0" y1="29.3" x2="456.5" y2="29.3" stroke="#666" stroke-width="0.6"/>
<line x1="455.0" y1="41.5" x2="456.5" y2="41.5" stroke="#666" stroke-width="0.6"/>
<line x1="455.0" y1="53.7" x2="456.5" y2="53.7" stroke="#666" stroke-width="0.6"/>
<line x1="455.0" y1="65.9" x2="456.5" y2="65.9" stroke="#666" stroke-width="0.6"/>
<line x1="455.0" y1="78.1" x2="456.5" y2="78.1" stroke="#666" stroke-width="0.6"/>
<line x1="464.0" y1="82.5" x2="464.0" y2="83.7" stroke="#666" stroke-width="0.6"/>
<line x1="476.3" y1="82.5" x2="476.3" y2="83.7" stroke="#666" stroke-width="0.6"/>
<line x1="488.7" y1="82.5" x2="488.7" y2="83.7" stroke="#666" stroke-width="0.6"/>
<line x1="501.0" y1="82.5" x2="501.0" y2="83.7" stroke="#666" stroke-width="0.6"/>
<line x1="513.3" y1="82.5" x2="513.3" y2="83.7" stroke="#666" stroke-width="0.6"/>
<rect x="506.8" y="22.3" width="11.699999999999989" height="8" fill="#fff"/>
<text x="456.6" y="29.200000000000003" font-size="5.9" fill="#1a1a1a">0</text>
<text x="518.7" y="29.200000000000003" font-size="5.9" text-anchor="end" fill="#1a1a1a">45.8</text>
<text x="456.6" y="82.3" font-size="5.9" fill="#1a1a1a">0</text>
<text x="518.7" y="82.3" font-size="5.9" text-anchor="end" fill="#1a1a1a">54.2</text>
<text x="454.2" y="30.3" font-size="3.2" text-anchor="end" fill="#999">10</text>
<text x="454.2" y="46.3" font-size="3.2" text-anchor="end" fill="#999">10</text>
<text x="454.2" y="62.3" font-size="3.2" text-anchor="end" fill="#999">10</text>
<text x="454.2" y="78.3" font-size="3.2" text-anchor="end" fill="#999">10</text>
<text x="464.0" y="87.5" font-size="3.2" text-anchor="middle" fill="#999">10</text>
<text x="476.3" y="87.5" font-size="3.2" text-anchor="middle" fill="#999">10</text>
<text x="488.7" y="87.5" font-size="3.2" text-anchor="middle" fill="#999">10</text>
<text x="501.0" y="87.5" font-size="3.2" text-anchor="middle" fill="#999">10</text>
<text x="513.3" y="87.5" font-size="3.2" text-anchor="middle" fill="#999">10</text>
<path d="M366,63.6 L366,94.4 L404.6,94.4" fill="none" stroke="#000" stroke-width="1.9"/>
<path d="M362.5,67.6 L366,63.2 L369.5,67.6" fill="none" stroke="#000" stroke-width="1.9"/>
<path d="M400.40000000000003,90.9 L405.0,94.4 L400.40000000000003,97.9" fill="none" stroke="#000" stroke-width="1.9"/>
<text transform="translate(361.6,79.3) rotate(-90) scale(1,1.14)" font-size="9.5" text-anchor="middle" fill="#000" stroke="#000" stroke-width="0.1">CD3</text>
<text transform="translate(384.2,103.5) scale(1,1.12)" font-size="9.2" text-anchor="middle" fill="#000" stroke="#000" stroke-width="0.1">CD45</text>
<path d="M380.3,178.5 L380.3,118.5 L441.0,118.5 L441.0,178.5" fill="none" stroke="#999" stroke-width="0.8"/>
<line x1="396.5" y1="118.5" x2="396.5" y2="178.5" stroke="#8a8a8a" stroke-width="0.75"/>
<line x1="380.3" y1="151.5" x2="441.0" y2="151.5" stroke="#808080" stroke-width="0.75"/>
<path fill="#000" fill-opacity="0.22" d="M407.9 137.7h0.8v0.8h-0.8zM406.6 138.8h0.8v0.8h-0.8zM406.7 141.1h0.8v0.8h-0.8zM409.7 140.7h0.8v0.8h-0.8zM406.3 138.0h0.8v0.8h-0.8zM407.6 141.1h0.8v0.8h-0.8zM408.5 143.6h0.8v0.8h-0.8zM407.3 147.1h0.8v0.8h-0.8zM403.8 137.4h0.8v0.8h-0.8zM405.1 139.5h0.8v0.8h-0.8zM406.8 138.5h0.8v0.8h-0.8zM407.8 136.8h0.8v0.8h-0.8zM406.2 140.7h0.8v0.8h-0.8zM407.5 142.2h0.8v0.8h-0.8zM407.9 132.1h0.8v0.8h-0.8zM410.1 142.9h0.8v0.8h-0.8zM409.6 132.3h0.8v0.8h-0.8zM408.8 134.2h0.8v0.8h-0.8zM411.0 138.6h0.8v0.8h-0.8zM402.0 140.2h0.8v0.8h-0.8zM411.0 137.4h0.8v0.8h-0.8zM409.1 134.3h0.8v0.8h-0.8zM405.0 137.4h0.8v0.8h-0.8zM408.6 141.3h0.8v0.8h-0.8zM411.1 141.5h0.8v0.8h-0.8zM403.3 134.9h0.8v0.8h-0.8zM407.7 137.9h0.8v0.8h-0.8zM407.0 143.2h0.8v0.8h-0.8zM409.7 136.5h0.8v0.8h-0.8zM405.5 137.2h0.8v0.8h-0.8zM411.1 142.2h0.8v0.8h-0.8zM407.0 138.8h0.8v0.8h-0.8zM406.4 139.3h0.8v0.8h-0.8zM404.7 138.8h0.8v0.8h-0.8zM406.1 134.5h0.8v0.8h-0.8zM408.8 143.1h0.8v0.8h-0.8zM406.3 143.2h0.8v0.8h-0.8zM405.9 143.3h0.8v0.8h-0.8z"/>
<path fill="#000" fill-opacity="0.22" d="M407.5 139.4h0.8v0.8h-0.8zM405.7 143.2h0.8v0.8h-0.8zM406.0 139.2h0.8v0.8h-0.8zM409.7 142.8h0.8v0.8h-0.8zM409.6 147.3h0.8v0.8h-0.8zM407.8 138.6h0.8v0.8h-0.8zM404.8 139.7h0.8v0.8h-0.8zM402.2 139.7h0.8v0.8h-0.8zM407.5 145.7h0.8v0.8h-0.8zM407.7 138.8h0.8v0.8h-0.8zM407.1 144.7h0.8v0.8h-0.8zM408.0 136.1h0.8v0.8h-0.8zM407.1 145.7h0.8v0.8h-0.8zM403.9 148.4h0.8v0.8h-0.8zM407.0 134.7h0.8v0.8h-0.8zM406.2 141.5h0.8v0.8h-0.8zM410.1 136.4h0.8v0.8h-0.8zM408.3 137.6h0.8v0.8h-0.8zM406.9 146.7h0.8v0.8h-0.8zM405.6 134.6h0.8v0.8h-0.8zM406.2 140.7h0.8v0.8h-0.8zM409.7 139.9h0.8v0.8h-0.8zM406.2 141.9h0.8v0.8h-0.8zM406.2 136.1h0.8v0.8h-0.8zM407.7 142.4h0.8v0.8h-0.8zM404.9 142.4h0.8v0.8h-0.8zM406.9 139.8h0.8v0.8h-0.8zM409.4 142.5h0.8v0.8h-0.8zM409.9 142.1h0.8v0.8h-0.8zM403.6 139.0h0.8v0.8h-0.8zM405.8 135.6h0.8v0.8h-0.8zM406.4 141.5h0.8v0.8h-0.8zM404.0 143.5h0.8v0.8h-0.8zM410.3 139.1h0.8v0.8h-0.8zM406.8 141.9h0.8v0.8h-0.8zM408.0 138.3h0.8v0.8h-0.8zM412.8 137.9h0.8v0.8h-0.8zM408.4 141.6h0.8v0.8h-0.8z"/>
<path fill="#000" fill-opacity="0.22" d="M402.1 134.3h0.8v0.8h-0.8zM407.1 145.7h0.8v0.8h-0.8zM403.2 137.8h0.8v0.8h-0.8zM409.0 143.3h0.8v0.8h-0.8zM404.8 145.8h0.8v0.8h-0.8zM404.2 139.9h0.8v0.8h-0.8zM407.8 143.3h0.8v0.8h-0.8zM412.5 140.6h0.8v0.8h-0.8zM408.0 142.1h0.8v0.8h-0.8zM405.5 138.6h0.8v0.8h-0.8zM407.7 139.7h0.8v0.8h-0.8zM407.3 139.5h0.8v0.8h-0.8zM406.4 137.9h0.8v0.8h-0.8zM411.1 139.7h0.8v0.8h-0.8zM408.0 144.6h0.8v0.8h-0.8zM410.4 138.7h0.8v0.8h-0.8zM409.1 134.2h0.8v0.8h-0.8zM409.7 138.7h0.8v0.8h-0.8zM407.2 142.2h0.8v0.8h-0.8zM403.9 143.8h0.8v0.8h-0.8zM404.5 134.2h0.8v0.8h-0.8zM408.1 140.0h0.8v0.8h-0.8zM404.3 145.3h0.8v0.8h-0.8zM404.8 134.3h0.8v0.8h-0.8zM409.1 138.9h0.8v0.8h-0.8zM409.6 138.6h0.8v0.8h-0.8zM409.5 147.5h0.8v0.8h-0.8zM408.8 136.5h0.8v0.8h-0.8zM401.6 142.9h0.8v0.8h-0.8zM409.3 137.5h0.8v0.8h-0.8zM403.4 141.7h0.8v0.8h-0.8zM411.6 137.6h0.8v0.8h-0.8zM405.8 137.5h0.8v0.8h-0.8zM408.2 134.7h0.8v0.8h-0.8zM403.2 136.7h0.8v0.8h-0.8zM406.9 137.6h0.8v0.8h-0.8zM407.8 142.7h0.8v0.8h-0.8z"/>
<path fill="#000" fill-opacity="0.22" d="M403.9 147.0h0.8v0.8h-0.8zM408.8 145.5h0.8v0.8h-0.8zM404.9 137.5h0.8v0.8h-0.8zM405.7 142.6h0.8v0.8h-0.8zM408.8 136.9h0.8v0.8h-0.8zM408.9 142.5h0.8v0.8h-0.8zM407.3 141.6h0.8v0.8h-0.8zM402.9 140.3h0.8v0.8h-0.8zM409.3 140.5h0.8v0.8h-0.8zM403.7 136.2h0.8v0.8h-0.8zM404.4 136.1h0.8v0.8h-0.8zM409.2 138.4h0.8v0.8h-0.8zM406.3 141.4h0.8v0.8h-0.8zM404.3 140.3h0.8v0.8h-0.8zM409.3 134.6h0.8v0.8h-0.8zM407.0 137.9h0.8v0.8h-0.8zM404.9 137.7h0.8v0.8h-0.8zM408.1 139.2h0.8v0.8h-0.8zM405.4 140.5h0.8v0.8h-0.8zM407.9 134.5h0.8v0.8h-0.8zM405.4 143.9h0.8v0.8h-0.8zM407.9 136.3h0.8v0.8h-0.8zM405.6 137.8h0.8v0.8h-0.8zM409.5 143.6h0.8v0.8h-0.8zM407.8 147.3h0.8v0.8h-0.8zM408.5 139.6h0.8v0.8h-0.8zM403.0 141.6h0.8v0.8h-0.8zM403.2 145.6h0.8v0.8h-0.8zM404.8 143.8h0.8v0.8h-0.8zM402.9 147.2h0.8v0.8h-0.8zM409.9 136.1h0.8v0.8h-0.8zM408.9 143.6h0.8v0.8h-0.8zM407.1 136.8h0.8v0.8h-0.8zM402.7 146.1h0.8v0.8h-0.8zM407.6 136.6h0.8v0.8h-0.8zM406.7 140.9h0.8v0.8h-0.8zM408.4 139.0h0.8v0.8h-0.8z"/>
<path fill="#000" fill-opacity="0.2" d="M403.4 144.5h0.8v0.8h-0.8zM402.7 139.7h0.8v0.8h-0.8zM405.0 141.0h0.8v0.8h-0.8zM405.1 142.3h0.8v0.8h-0.8zM407.3 144.3h0.8v0.8h-0.8zM401.8 137.8h0.8v0.8h-0.8zM403.9 145.1h0.8v0.8h-0.8zM402.9 138.3h0.8v0.8h-0.8zM403.7 140.1h0.8v0.8h-0.8zM406.7 146.0h0.8v0.8h-0.8z"/>
<path fill="#000" fill-opacity="0.2" d="M406.5 142.6h0.8v0.8h-0.8zM404.5 144.3h0.8v0.8h-0.8zM402.1 147.2h0.8v0.8h-0.8zM406.2 140.1h0.8v0.8h-0.8zM405.1 139.2h0.8v0.8h-0.8zM403.0 140.1h0.8v0.8h-0.8zM405.6 140.8h0.8v0.8h-0.8zM406.2 144.7h0.8v0.8h-0.8zM402.9 144.9h0.8v0.8h-0.8zM405.1 140.1h0.8v0.8h-0.8z"/>
<path fill="#000" fill-opacity="0.2" d="M406.2 148.2h0.8v0.8h-0.8zM405.1 140.2h0.8v0.8h-0.8zM403.4 142.6h0.8v0.8h-0.8zM402.1 147.7h0.8v0.8h-0.8zM401.9 145.4h0.8v0.8h-0.8zM405.3 140.5h0.8v0.8h-0.8zM406.6 147.7h0.8v0.8h-0.8zM406.9 144.0h0.8v0.8h-0.8zM404.4 147.8h0.8v0.8h-0.8zM408.4 139.8h0.8v0.8h-0.8z"/>
<path fill="#000" fill-opacity="0.2" d="M401.4 144.5h0.8v0.8h-0.8zM402.2 141.7h0.8v0.8h-0.8zM403.9 141.6h0.8v0.8h-0.8zM404.9 144.9h0.8v0.8h-0.8zM406.3 144.4h0.8v0.8h-0.8zM408.1 141.5h0.8v0.8h-0.8zM402.6 142.4h0.8v0.8h-0.8zM401.1 142.9h0.8v0.8h-0.8zM405.9 138.4h0.8v0.8h-0.8zM404.8 138.4h0.8v0.8h-0.8z"/>
<path fill="#000" fill-opacity="0.16" d="M402.3 130.1h0.8v0.8h-0.8zM401.3 133.2h0.8v0.8h-0.8zM408.4 134.6h0.8v0.8h-0.8zM409.3 143.7h0.8v0.8h-0.8zM409.4 142.7h0.8v0.8h-0.8zM409.1 151.1h0.8v0.8h-0.8zM405.9 141.0h0.8v0.8h-0.8zM408.4 151.9h0.8v0.8h-0.8zM405.1 140.4h0.8v0.8h-0.8zM404.5 142.8h0.8v0.8h-0.8zM408.2 144.5h0.8v0.8h-0.8zM406.1 130.6h0.8v0.8h-0.8zM406.9 145.6h0.8v0.8h-0.8z"/>
<path fill="#000" fill-opacity="0.16" d="M411.4 146.9h0.8v0.8h-0.8zM406.8 144.1h0.8v0.8h-0.8zM406.7 137.8h0.8v0.8h-0.8zM411.2 142.4h0.8v0.8h-0.8zM404.7 136.0h0.8v0.8h-0.8zM409.0 133.1h0.8v0.8h-0.8zM402.8 133.0h0.8v0.8h-0.8zM414.4 139.7h0.8v0.8h-0.8zM401.4 142.6h0.8v0.8h-0.8zM409.4 149.2h0.8v0.8h-0.8zM401.4 136.6h0.8v0.8h-0.8zM409.7 141.6h0.8v0.8h-0.8zM410.1 147.3h0.8v0.8h-0.8z"/>
<path fill="#000" fill-opacity="0.16" d="M405.6 132.1h0.8v0.8h-0.8zM407.5 142.6h0.8v0.8h-0.8zM409.1 135.5h0.8v0.8h-0.8zM400.4 136.3h0.8v0.8h-0.8zM404.7 146.8h0.8v0.8h-0.8zM414.0 142.0h0.8v0.8h-0.8zM403.7 136.9h0.8v0.8h-0.8zM410.7 138.7h0.8v0.8h-0.8zM406.1 133.6h0.8v0.8h-0.8zM402.9 139.3h0.8v0.8h-0.8zM413.7 138.3h0.8v0.8h-0.8zM415.2 141.0h0.8v0.8h-0.8z"/>
<path fill="#000" fill-opacity="0.16" d="M407.0 142.2h0.8v0.8h-0.8zM402.3 125.4h0.8v0.8h-0.8zM412.8 140.2h0.8v0.8h-0.8zM414.5 142.8h0.8v0.8h-0.8zM408.6 150.4h0.8v0.8h-0.8zM411.9 141.3h0.8v0.8h-0.8zM401.9 139.4h0.8v0.8h-0.8zM408.7 139.8h0.8v0.8h-0.8zM405.8 143.3h0.8v0.8h-0.8zM409.2 148.9h0.8v0.8h-0.8zM415.7 135.7h0.8v0.8h-0.8zM406.2 131.7h0.8v0.8h-0.8z"/>
<path fill="#000" fill-opacity="0.25" d="M409.4 159.3h0.8v0.8h-0.8zM408.1 160.9h0.8v0.8h-0.8zM401.9 160.9h0.8v0.8h-0.8zM413.1 161.0h0.8v0.8h-0.8zM409.0 150.6h0.8v0.8h-0.8zM409.4 151.8h0.8v0.8h-0.8zM402.9 152.2h0.8v0.8h-0.8zM410.0 163.6h0.8v0.8h-0.8zM406.0 160.2h0.8v0.8h-0.8zM407.3 166.7h0.8v0.8h-0.8zM407.6 174.2h0.8v0.8h-0.8zM408.2 160.0h0.8v0.8h-0.8zM407.8 166.8h0.8v0.8h-0.8zM407.1 157.2h0.8v0.8h-0.8zM410.9 164.9h0.8v0.8h-0.8zM403.1 159.4h0.8v0.8h-0.8zM406.7 159.9h0.8v0.8h-0.8zM405.9 156.7h0.8v0.8h-0.8zM406.3 149.8h0.8v0.8h-0.8zM400.9 150.9h0.8v0.8h-0.8zM403.9 158.8h0.8v0.8h-0.8zM411.6 154.5h0.8v0.8h-0.8zM409.9 170.3h0.8v0.8h-0.8zM409.5 162.5h0.8v0.8h-0.8zM407.0 155.5h0.8v0.8h-0.8zM404.7 167.0h0.8v0.8h-0.8zM405.5 166.0h0.8v0.8h-0.8zM400.6 156.7h0.8v0.8h-0.8zM405.6 170.1h0.8v0.8h-0.8zM405.3 152.4h0.8v0.8h-0.8zM407.6 163.2h0.8v0.8h-0.8zM406.7 161.2h0.8v0.8h-0.8zM411.2 158.0h0.8v0.8h-0.8zM405.9 154.5h0.8v0.8h-0.8zM408.0 156.3h0.8v0.8h-0.8zM408.4 157.8h0.8v0.8h-0.8zM409.7 159.0h0.8v0.8h-0.8zM411.9 168.9h0.8v0.8h-0.8zM405.7 159.1h0.8v0.8h-0.8zM407.7 162.8h0.8v0.8h-0.8zM404.2 151.4h0.8v0.8h-0.8zM408.2 160.9h0.8v0.8h-0.8zM405.0 163.8h0.8v0.8h-0.8zM411.9 150.2h0.8v0.8h-0.8zM408.3 156.9h0.8v0.8h-0.8zM404.7 160.8h0.8v0.8h-0.8zM407.2 160.2h0.8v0.8h-0.8zM407.3 165.3h0.8v0.8h-0.8zM408.7 155.8h0.8v0.8h-0.8zM407.2 160.8h0.8v0.8h-0.8zM403.6 163.9h0.8v0.8h-0.8zM398.3 160.3h0.8v0.8h-0.8zM408.1 172.1h0.8v0.8h-0.8zM409.8 167.5h0.8v0.8h-0.8zM408.3 162.3h0.8v0.8h-0.8zM407.7 158.4h0.8v0.8h-0.8zM404.1 151.1h0.8v0.8h-0.8zM407.4 160.1h0.8v0.8h-0.8zM410.0 152.1h0.8v0.8h-0.8zM408.9 149.3h0.8v0.8h-0.8zM406.2 155.9h0.8v0.8h-0.8zM404.8 155.5h0.8v0.8h-0.8zM405.9 157.0h0.8v0.8h-0.8z"/>
<path fill="#000" fill-opacity="0.25" d="M408.7 160.4h0.8v0.8h-0.8zM409.8 166.6h0.8v0.8h-0.8zM407.9 161.2h0.8v0.8h-0.8zM405.3 147.8h0.8v0.8h-0.8zM407.3 160.1h0.8v0.8h-0.8zM406.2 159.8h0.8v0.8h-0.8zM403.0 160.2h0.8v0.8h-0.8zM408.3 161.9h0.8v0.8h-0.8zM406.9 157.9h0.8v0.8h-0.8zM405.9 154.2h0.8v0.8h-0.8zM407.4 164.4h0.8v0.8h-0.8zM412.0 158.2h0.8v0.8h-0.8zM410.6 156.5h0.8v0.8h-0.8zM411.3 158.2h0.8v0.8h-0.8zM411.8 152.4h0.8v0.8h-0.8zM402.8 154.5h0.8v0.8h-0.8zM407.0 158.4h0.8v0.8h-0.8zM405.8 160.5h0.8v0.8h-0.8zM407.8 157.6h0.8v0.8h-0.8zM407.0 158.9h0.8v0.8h-0.8zM403.8 163.3h0.8v0.8h-0.8zM406.9 158.3h0.8v0.8h-0.8zM402.9 162.3h0.8v0.8h-0.8zM411.1 158.6h0.8v0.8h-0.8zM407.0 164.7h0.8v0.8h-0.8zM407.9 149.1h0.8v0.8h-0.8zM404.7 164.1h0.8v0.8h-0.8zM401.8 165.6h0.8v0.8h-0.8zM409.2 159.8h0.8v0.8h-0.8zM406.9 151.1h0.8v0.8h-0.8zM410.9 157.9h0.8v0.8h-0.8zM407.4 159.8h0.8v0.8h-0.8zM406.3 168.0h0.8v0.8h-0.8zM406.8 157.3h0.8v0.8h-0.8zM410.1 152.4h0.8v0.8h-0.8zM405.0 153.9h0.8v0.8h-0.8zM404.9 154.2h0.8v0.8h-0.8zM404.1 165.6h0.8v0.8h-0.8zM407.1 168.4h0.8v0.8h-0.8zM405.0 162.7h0.8v0.8h-0.8zM407.1 160.7h0.8v0.8h-0.8zM405.3 159.9h0.8v0.8h-0.8zM410.3 157.0h0.8v0.8h-0.8zM407.8 157.6h0.8v0.8h-0.8zM408.9 161.5h0.8v0.8h-0.8zM408.1 166.6h0.8v0.8h-0.8zM405.1 154.6h0.8v0.8h-0.8zM403.8 155.1h0.8v0.8h-0.8zM408.5 157.7h0.8v0.8h-0.8zM405.6 160.5h0.8v0.8h-0.8zM413.8 160.5h0.8v0.8h-0.8zM405.6 157.1h0.8v0.8h-0.8zM405.8 164.1h0.8v0.8h-0.8zM410.8 159.5h0.8v0.8h-0.8zM412.2 168.2h0.8v0.8h-0.8zM407.2 162.5h0.8v0.8h-0.8zM409.1 158.4h0.8v0.8h-0.8zM406.4 163.5h0.8v0.8h-0.8zM405.1 154.6h0.8v0.8h-0.8zM408.8 158.7h0.8v0.8h-0.8zM407.2 164.3h0.8v0.8h-0.8zM404.6 151.6h0.8v0.8h-0.8zM411.7 157.2h0.8v0.8h-0.8z"/>
<path fill="#000" fill-opacity="0.25" d="M403.3 167.9h0.8v0.8h-0.8zM398.6 162.2h0.8v0.8h-0.8zM403.9 157.2h0.8v0.8h-0.8zM410.0 158.8h0.8v0.8h-0.8zM407.8 166.0h0.8v0.8h-0.8zM409.7 155.5h0.8v0.8h-0.8zM407.6 163.1h0.8v0.8h-0.8zM403.4 161.3h0.8v0.8h-0.8zM404.2 160.4h0.8v0.8h-0.8zM410.9 168.0h0.8v0.8h-0.8zM408.2 150.4h0.8v0.8h-0.8zM407.9 159.9h0.8v0.8h-0.8zM408.9 157.6h0.8v0.8h-0.8zM409.0 167.9h0.8v0.8h-0.8zM412.5 159.6h0.8v0.8h-0.8zM407.8 160.3h0.8v0.8h-0.8zM409.5 151.5h0.8v0.8h-0.8zM410.5 158.6h0.8v0.8h-0.8zM405.4 162.6h0.8v0.8h-0.8zM408.2 160.6h0.8v0.8h-0.8zM403.3 150.5h0.8v0.8h-0.8zM404.7 150.7h0.8v0.8h-0.8zM407.0 163.7h0.8v0.8h-0.8zM411.3 156.0h0.8v0.8h-0.8zM409.0 160.0h0.8v0.8h-0.8zM408.0 153.6h0.8v0.8h-0.8zM408.6 158.9h0.8v0.8h-0.8zM404.3 147.3h0.8v0.8h-0.8zM405.2 144.7h0.8v0.8h-0.8zM407.0 163.4h0.8v0.8h-0.8zM403.6 155.5h0.8v0.8h-0.8zM406.0 161.6h0.8v0.8h-0.8zM407.6 161.6h0.8v0.8h-0.8zM409.3 157.6h0.8v0.8h-0.8zM405.9 156.0h0.8v0.8h-0.8zM406.1 156.8h0.8v0.8h-0.8zM407.2 161.3h0.8v0.8h-0.8zM410.2 166.2h0.8v0.8h-0.8zM406.4 164.3h0.8v0.8h-0.8zM405.0 155.1h0.8v0.8h-0.8zM405.7 160.4h0.8v0.8h-0.8zM407.4 164.8h0.8v0.8h-0.8zM408.8 161.0h0.8v0.8h-0.8zM410.2 157.4h0.8v0.8h-0.8zM409.8 156.9h0.8v0.8h-0.8zM406.1 161.4h0.8v0.8h-0.8zM410.1 160.4h0.8v0.8h-0.8zM410.1 166.6h0.8v0.8h-0.8zM407.5 166.2h0.8v0.8h-0.8zM408.7 167.3h0.8v0.8h-0.8zM407.3 165.2h0.8v0.8h-0.8zM407.9 156.6h0.8v0.8h-0.8zM404.7 165.7h0.8v0.8h-0.8zM406.8 165.0h0.8v0.8h-0.8zM407.9 161.7h0.8v0.8h-0.8zM404.4 156.7h0.8v0.8h-0.8zM409.7 157.7h0.8v0.8h-0.8zM412.5 157.4h0.8v0.8h-0.8zM408.6 162.0h0.8v0.8h-0.8zM412.3 164.4h0.8v0.8h-0.8zM402.8 158.4h0.8v0.8h-0.8zM410.2 159.8h0.8v0.8h-0.8z"/>
<path fill="#000" fill-opacity="0.25" d="M408.0 154.3h0.8v0.8h-0.8zM411.2 154.8h0.8v0.8h-0.8zM407.5 163.2h0.8v0.8h-0.8zM406.7 154.6h0.8v0.8h-0.8zM406.7 160.0h0.8v0.8h-0.8zM409.2 161.4h0.8v0.8h-0.8zM409.3 156.8h0.8v0.8h-0.8zM404.1 153.6h0.8v0.8h-0.8zM404.9 152.5h0.8v0.8h-0.8zM406.2 158.5h0.8v0.8h-0.8zM403.9 153.4h0.8v0.8h-0.8zM407.4 171.0h0.8v0.8h-0.8zM407.3 160.3h0.8v0.8h-0.8zM408.7 164.6h0.8v0.8h-0.8zM402.1 156.3h0.8v0.8h-0.8zM404.8 158.3h0.8v0.8h-0.8zM405.6 160.2h0.8v0.8h-0.8zM406.3 161.3h0.8v0.8h-0.8zM407.1 156.7h0.8v0.8h-0.8zM405.7 153.2h0.8v0.8h-0.8zM406.5 150.6h0.8v0.8h-0.8zM401.8 163.8h0.8v0.8h-0.8zM405.6 163.1h0.8v0.8h-0.8zM411.7 145.8h0.8v0.8h-0.8zM411.8 152.1h0.8v0.8h-0.8zM411.1 165.2h0.8v0.8h-0.8zM403.0 158.1h0.8v0.8h-0.8zM408.6 161.3h0.8v0.8h-0.8zM408.3 164.3h0.8v0.8h-0.8zM411.2 160.8h0.8v0.8h-0.8zM403.5 155.1h0.8v0.8h-0.8zM409.5 163.3h0.8v0.8h-0.8zM406.1 164.3h0.8v0.8h-0.8zM407.3 158.4h0.8v0.8h-0.8zM408.8 159.7h0.8v0.8h-0.8zM407.8 161.3h0.8v0.8h-0.8zM412.5 160.4h0.8v0.8h-0.8zM407.0 164.3h0.8v0.8h-0.8zM407.2 156.0h0.8v0.8h-0.8zM407.6 158.3h0.8v0.8h-0.8zM402.7 161.5h0.8v0.8h-0.8zM407.8 160.8h0.8v0.8h-0.8zM406.9 153.1h0.8v0.8h-0.8zM407.1 162.6h0.8v0.8h-0.8zM406.9 157.5h0.8v0.8h-0.8zM410.2 158.9h0.8v0.8h-0.8zM406.8 153.3h0.8v0.8h-0.8zM411.3 156.7h0.8v0.8h-0.8zM407.9 158.3h0.8v0.8h-0.8zM401.3 153.6h0.8v0.8h-0.8zM400.2 158.6h0.8v0.8h-0.8zM410.1 159.5h0.8v0.8h-0.8zM409.7 160.2h0.8v0.8h-0.8zM402.9 156.5h0.8v0.8h-0.8zM403.3 158.6h0.8v0.8h-0.8zM402.1 165.2h0.8v0.8h-0.8zM412.9 163.0h0.8v0.8h-0.8zM404.0 162.5h0.8v0.8h-0.8zM405.0 153.9h0.8v0.8h-0.8zM405.4 158.1h0.8v0.8h-0.8zM411.1 163.2h0.8v0.8h-0.8zM405.1 152.4h0.8v0.8h-0.8z"/>
<path fill="#000" fill-opacity="0.2" d="M407.8 176.0h0.8v0.8h-0.8zM407.2 168.9h0.8v0.8h-0.8zM409.1 162.7h0.8v0.8h-0.8zM404.6 163.5h0.8v0.8h-0.8zM402.2 171.4h0.8v0.8h-0.8zM409.2 160.2h0.8v0.8h-0.8zM405.8 153.4h0.8v0.8h-0.8zM409.6 153.1h0.8v0.8h-0.8zM412.8 176.3h0.8v0.8h-0.8zM405.2 154.3h0.8v0.8h-0.8zM407.1 170.5h0.8v0.8h-0.8zM409.1 169.6h0.8v0.8h-0.8zM410.8 157.6h0.8v0.8h-0.8zM405.5 156.3h0.8v0.8h-0.8zM407.3 165.8h0.8v0.8h-0.8zM404.6 167.8h0.8v0.8h-0.8zM408.7 171.5h0.8v0.8h-0.8zM405.6 154.3h0.8v0.8h-0.8zM413.1 164.1h0.8v0.8h-0.8zM406.7 171.6h0.8v0.8h-0.8zM406.5 160.6h0.8v0.8h-0.8zM413.8 167.8h0.8v0.8h-0.8zM414.0 156.1h0.8v0.8h-0.8zM407.9 155.1h0.8v0.8h-0.8zM407.7 155.6h0.8v0.8h-0.8zM409.9 163.2h0.8v0.8h-0.8zM407.2 174.4h0.8v0.8h-0.8zM402.9 170.6h0.8v0.8h-0.8zM406.3 159.1h0.8v0.8h-0.8zM409.8 161.2h0.8v0.8h-0.8zM412.6 167.6h0.8v0.8h-0.8zM407.2 162.0h0.8v0.8h-0.8zM403.9 174.3h0.8v0.8h-0.8zM406.8 172.5h0.8v0.8h-0.8zM404.9 172.7h0.8v0.8h-0.8zM412.1 169.2h0.8v0.8h-0.8zM404.7 171.8h0.8v0.8h-0.8zM407.2 172.1h0.8v0.8h-0.8zM404.5 172.3h0.8v0.8h-0.8zM411.4 160.5h0.8v0.8h-0.8zM404.1 163.0h0.8v0.8h-0.8zM412.0 156.0h0.8v0.8h-0.8zM406.3 165.6h0.8v0.8h-0.8zM408.2 174.2h0.8v0.8h-0.8zM408.3 160.9h0.8v0.8h-0.8zM412.2 177.0h0.8v0.8h-0.8zM407.9 161.7h0.8v0.8h-0.8zM413.6 165.3h0.8v0.8h-0.8zM403.9 159.2h0.8v0.8h-0.8zM410.2 170.2h0.8v0.8h-0.8zM402.3 157.8h0.8v0.8h-0.8zM406.7 175.2h0.8v0.8h-0.8zM408.8 156.4h0.8v0.8h-0.8zM407.6 156.9h0.8v0.8h-0.8zM409.2 160.6h0.8v0.8h-0.8zM400.3 164.3h0.8v0.8h-0.8zM405.1 162.7h0.8v0.8h-0.8zM411.0 166.7h0.8v0.8h-0.8z"/>
<path fill="#000" fill-opacity="0.2" d="M410.7 158.0h0.8v0.8h-0.8zM404.7 171.4h0.8v0.8h-0.8zM407.9 163.1h0.8v0.8h-0.8zM411.2 157.2h0.8v0.8h-0.8zM413.1 173.1h0.8v0.8h-0.8zM412.3 159.1h0.8v0.8h-0.8zM406.4 165.8h0.8v0.8h-0.8zM411.6 158.5h0.8v0.8h-0.8zM412.1 156.6h0.8v0.8h-0.8zM407.8 155.0h0.8v0.8h-0.8zM412.8 161.2h0.8v0.8h-0.8zM408.0 162.2h0.8v0.8h-0.8zM409.7 170.0h0.8v0.8h-0.8zM404.2 157.6h0.8v0.8h-0.8zM410.6 170.4h0.8v0.8h-0.8zM404.0 174.6h0.8v0.8h-0.8zM409.3 172.8h0.8v0.8h-0.8zM411.9 167.6h0.8v0.8h-0.8zM404.9 157.7h0.8v0.8h-0.8zM403.9 155.5h0.8v0.8h-0.8zM405.6 164.4h0.8v0.8h-0.8zM404.4 155.5h0.8v0.8h-0.8zM406.7 164.2h0.8v0.8h-0.8zM404.3 162.5h0.8v0.8h-0.8zM405.9 154.7h0.8v0.8h-0.8zM412.0 161.1h0.8v0.8h-0.8zM412.4 174.7h0.8v0.8h-0.8zM408.5 156.1h0.8v0.8h-0.8zM409.4 164.3h0.8v0.8h-0.8zM411.9 157.5h0.8v0.8h-0.8zM407.8 174.6h0.8v0.8h-0.8zM410.3 161.5h0.8v0.8h-0.8zM409.8 171.1h0.8v0.8h-0.8zM402.5 159.1h0.8v0.8h-0.8zM406.8 161.3h0.8v0.8h-0.8zM405.6 168.7h0.8v0.8h-0.8zM411.9 173.9h0.8v0.8h-0.8zM408.1 158.5h0.8v0.8h-0.8zM408.2 175.9h0.8v0.8h-0.8zM404.6 174.0h0.8v0.8h-0.8zM407.1 174.1h0.8v0.8h-0.8zM406.3 174.9h0.8v0.8h-0.8zM408.1 172.7h0.8v0.8h-0.8zM405.5 176.8h0.8v0.8h-0.8zM409.9 170.6h0.8v0.8h-0.8zM413.4 166.5h0.8v0.8h-0.8zM401.5 175.2h0.8v0.8h-0.8zM403.1 175.4h0.8v0.8h-0.8zM409.4 159.6h0.8v0.8h-0.8zM407.6 171.0h0.8v0.8h-0.8zM403.6 167.1h0.8v0.8h-0.8zM413.2 154.3h0.8v0.8h-0.8zM403.2 164.0h0.8v0.8h-0.8zM409.5 162.8h0.8v0.8h-0.8zM408.5 165.1h0.8v0.8h-0.8zM408.1 157.8h0.8v0.8h-0.8zM400.0 161.5h0.8v0.8h-0.8zM412.4 153.2h0.8v0.8h-0.8z"/>
<path fill="#000" fill-opacity="0.2" d="M401.1 174.6h0.8v0.8h-0.8zM409.0 158.2h0.8v0.8h-0.8zM411.0 175.6h0.8v0.8h-0.8zM406.9 169.2h0.8v0.8h-0.8zM404.8 169.9h0.8v0.8h-0.8zM409.3 173.4h0.8v0.8h-0.8zM407.1 154.7h0.8v0.8h-0.8zM407.1 176.7h0.8v0.8h-0.8zM405.6 160.7h0.8v0.8h-0.8zM408.2 168.0h0.8v0.8h-0.8zM405.6 175.3h0.8v0.8h-0.8zM407.1 172.1h0.8v0.8h-0.8zM409.3 158.5h0.8v0.8h-0.8zM406.3 168.2h0.8v0.8h-0.8zM412.2 158.3h0.8v0.8h-0.8zM408.2 168.9h0.8v0.8h-0.8zM405.9 172.1h0.8v0.8h-0.8zM408.3 165.3h0.8v0.8h-0.8zM410.1 165.5h0.8v0.8h-0.8zM410.2 164.6h0.8v0.8h-0.8zM406.3 161.9h0.8v0.8h-0.8zM403.4 159.7h0.8v0.8h-0.8zM405.6 154.6h0.8v0.8h-0.8zM413.9 154.2h0.8v0.8h-0.8zM409.4 173.0h0.8v0.8h-0.8zM409.1 176.3h0.8v0.8h-0.8zM400.1 167.5h0.8v0.8h-0.8zM410.1 155.6h0.8v0.8h-0.8zM409.2 173.5h0.8v0.8h-0.8zM402.6 173.7h0.8v0.8h-0.8zM410.0 173.4h0.8v0.8h-0.8zM406.5 158.5h0.8v0.8h-0.8zM407.7 172.3h0.8v0.8h-0.8zM405.9 173.2h0.8v0.8h-0.8zM410.7 174.1h0.8v0.8h-0.8zM413.3 166.1h0.8v0.8h-0.8zM408.1 159.0h0.8v0.8h-0.8zM408.5 170.8h0.8v0.8h-0.8zM405.9 174.5h0.8v0.8h-0.8zM406.2 167.1h0.8v0.8h-0.8zM406.5 161.7h0.8v0.8h-0.8zM411.4 163.4h0.8v0.8h-0.8zM408.2 158.3h0.8v0.8h-0.8zM404.8 170.0h0.8v0.8h-0.8zM409.0 165.0h0.8v0.8h-0.8zM408.0 174.8h0.8v0.8h-0.8zM407.7 165.1h0.8v0.8h-0.8zM405.9 168.1h0.8v0.8h-0.8zM404.3 164.2h0.8v0.8h-0.8zM407.7 165.4h0.8v0.8h-0.8zM406.6 170.1h0.8v0.8h-0.8zM410.5 155.1h0.8v0.8h-0.8zM400.8 161.1h0.8v0.8h-0.8zM405.6 156.9h0.8v0.8h-0.8zM408.9 163.6h0.8v0.8h-0.8zM406.1 157.1h0.8v0.8h-0.8zM405.0 169.6h0.8v0.8h-0.8z"/>
<path fill="#000" fill-opacity="0.2" d="M411.6 158.6h0.8v0.8h-0.8zM409.0 159.4h0.8v0.8h-0.8zM409.4 166.8h0.8v0.8h-0.8zM407.6 156.9h0.8v0.8h-0.8zM404.2 176.2h0.8v0.8h-0.8zM403.8 174.0h0.8v0.8h-0.8zM405.1 153.1h0.8v0.8h-0.8zM412.2 153.5h0.8v0.8h-0.8zM410.6 163.0h0.8v0.8h-0.8zM408.6 169.7h0.8v0.8h-0.8zM407.6 166.4h0.8v0.8h-0.8zM405.4 172.2h0.8v0.8h-0.8zM402.5 155.2h0.8v0.8h-0.8zM406.8 158.8h0.8v0.8h-0.8zM408.4 160.0h0.8v0.8h-0.8zM410.0 159.3h0.8v0.8h-0.8zM400.1 160.4h0.8v0.8h-0.8zM408.0 156.6h0.8v0.8h-0.8zM409.9 161.7h0.8v0.8h-0.8zM408.8 159.1h0.8v0.8h-0.8zM402.5 163.7h0.8v0.8h-0.8zM408.7 153.9h0.8v0.8h-0.8zM405.8 171.0h0.8v0.8h-0.8zM411.8 159.9h0.8v0.8h-0.8zM410.7 157.1h0.8v0.8h-0.8zM409.1 155.8h0.8v0.8h-0.8zM408.8 159.9h0.8v0.8h-0.8zM414.6 172.5h0.8v0.8h-0.8zM407.4 160.7h0.8v0.8h-0.8zM410.2 166.8h0.8v0.8h-0.8zM406.7 172.7h0.8v0.8h-0.8zM408.5 174.8h0.8v0.8h-0.8zM414.2 176.8h0.8v0.8h-0.8zM405.1 156.2h0.8v0.8h-0.8zM402.7 156.3h0.8v0.8h-0.8zM409.3 163.9h0.8v0.8h-0.8zM410.2 155.4h0.8v0.8h-0.8zM408.0 157.8h0.8v0.8h-0.8zM411.4 164.3h0.8v0.8h-0.8zM406.9 172.9h0.8v0.8h-0.8zM405.7 161.7h0.8v0.8h-0.8zM408.4 170.2h0.8v0.8h-0.8zM404.8 170.9h0.8v0.8h-0.8zM408.7 175.3h0.8v0.8h-0.8zM411.0 169.0h0.8v0.8h-0.8zM405.7 166.2h0.8v0.8h-0.8zM408.1 174.6h0.8v0.8h-0.8zM406.9 172.3h0.8v0.8h-0.8zM409.2 155.2h0.8v0.8h-0.8zM409.8 157.2h0.8v0.8h-0.8zM402.6 170.1h0.8v0.8h-0.8zM406.4 154.7h0.8v0.8h-0.8zM399.5 171.4h0.8v0.8h-0.8zM405.8 158.2h0.8v0.8h-0.8zM410.6 176.4h0.8v0.8h-0.8zM406.6 154.8h0.8v0.8h-0.8zM408.8 162.4h0.8v0.8h-0.8z"/>
<path fill="#000" fill-opacity="0.16" d="M411.8 152.5h0.8v0.8h-0.8zM401.2 159.1h0.8v0.8h-0.8zM401.8 156.6h0.8v0.8h-0.8zM414.0 154.4h0.8v0.8h-0.8zM404.2 171.0h0.8v0.8h-0.8zM408.3 156.9h0.8v0.8h-0.8zM403.4 175.9h0.8v0.8h-0.8zM409.5 167.6h0.8v0.8h-0.8zM397.9 157.3h0.8v0.8h-0.8zM406.0 165.3h0.8v0.8h-0.8zM408.2 164.2h0.8v0.8h-0.8zM401.9 144.3h0.8v0.8h-0.8zM421.9 158.9h0.8v0.8h-0.8zM412.7 166.6h0.8v0.8h-0.8zM412.0 155.6h0.8v0.8h-0.8zM409.2 166.9h0.8v0.8h-0.8zM415.5 163.5h0.8v0.8h-0.8zM417.4 157.9h0.8v0.8h-0.8zM409.5 148.6h0.8v0.8h-0.8zM412.3 176.3h0.8v0.8h-0.8zM412.0 173.9h0.8v0.8h-0.8zM407.9 159.3h0.8v0.8h-0.8zM406.7 151.5h0.8v0.8h-0.8z"/>
<path fill="#000" fill-opacity="0.16" d="M403.6 171.9h0.8v0.8h-0.8zM406.5 143.5h0.8v0.8h-0.8zM411.4 164.2h0.8v0.8h-0.8zM413.3 158.1h0.8v0.8h-0.8zM404.4 168.8h0.8v0.8h-0.8zM411.2 173.3h0.8v0.8h-0.8zM410.8 165.2h0.8v0.8h-0.8zM416.2 172.7h0.8v0.8h-0.8zM412.8 153.4h0.8v0.8h-0.8zM405.9 152.1h0.8v0.8h-0.8zM406.7 158.2h0.8v0.8h-0.8zM407.0 161.1h0.8v0.8h-0.8zM405.2 169.9h0.8v0.8h-0.8zM402.4 171.2h0.8v0.8h-0.8zM401.8 169.1h0.8v0.8h-0.8zM404.6 158.4h0.8v0.8h-0.8zM414.4 162.3h0.8v0.8h-0.8zM403.9 163.5h0.8v0.8h-0.8zM398.7 155.2h0.8v0.8h-0.8zM407.1 166.9h0.8v0.8h-0.8zM411.8 168.4h0.8v0.8h-0.8z"/>
<path fill="#000" fill-opacity="0.16" d="M411.5 159.1h0.8v0.8h-0.8zM410.1 169.0h0.8v0.8h-0.8zM403.2 160.5h0.8v0.8h-0.8zM402.3 164.2h0.8v0.8h-0.8zM403.5 164.0h0.8v0.8h-0.8zM401.0 176.4h0.8v0.8h-0.8zM410.4 163.7h0.8v0.8h-0.8zM406.8 150.3h0.8v0.8h-0.8zM404.8 165.1h0.8v0.8h-0.8zM397.4 150.4h0.8v0.8h-0.8zM409.5 166.1h0.8v0.8h-0.8zM403.4 166.2h0.8v0.8h-0.8zM408.6 167.2h0.8v0.8h-0.8zM400.1 168.2h0.8v0.8h-0.8zM415.9 157.5h0.8v0.8h-0.8zM415.6 163.4h0.8v0.8h-0.8zM400.9 157.5h0.8v0.8h-0.8zM405.0 167.4h0.8v0.8h-0.8zM404.3 175.2h0.8v0.8h-0.8zM409.2 161.4h0.8v0.8h-0.8zM403.4 158.6h0.8v0.8h-0.8zM410.9 156.7h0.8v0.8h-0.8z"/>
<path fill="#000" fill-opacity="0.16" d="M404.0 165.8h0.8v0.8h-0.8zM412.2 151.6h0.8v0.8h-0.8zM408.4 166.6h0.8v0.8h-0.8zM401.3 175.9h0.8v0.8h-0.8zM402.8 170.1h0.8v0.8h-0.8zM404.0 161.4h0.8v0.8h-0.8zM415.1 168.3h0.8v0.8h-0.8zM416.7 152.6h0.8v0.8h-0.8zM407.4 147.2h0.8v0.8h-0.8zM409.0 163.6h0.8v0.8h-0.8zM410.1 173.0h0.8v0.8h-0.8zM407.4 168.8h0.8v0.8h-0.8zM403.1 173.5h0.8v0.8h-0.8zM403.1 159.0h0.8v0.8h-0.8zM412.5 157.8h0.8v0.8h-0.8zM408.7 153.6h0.8v0.8h-0.8zM397.9 174.0h0.8v0.8h-0.8zM414.1 154.9h0.8v0.8h-0.8zM407.0 174.0h0.8v0.8h-0.8zM414.4 157.3h0.8v0.8h-0.8zM409.3 161.6h0.8v0.8h-0.8zM407.0 156.9h0.8v0.8h-0.8z"/>
<path fill="#000" fill-opacity="0.6" d="M415.1 177.9h.8v.8h-.8zM412.9 177.8h.8v.8h-.8zM403.9 177.2h.8v.8h-.8zM422.2 177.1h.8v.8h-.8zM405.7 177.5h.8v.8h-.8zM417.9 177.3h.8v.8h-.8zM406.6 177.2h.8v.8h-.8zM404.8 177.1h.8v.8h-.8zM407.1 178.0h.8v.8h-.8zM416.0 178.0h.8v.8h-.8zM413.7 178.0h.8v.8h-.8zM423.6 177.6h.8v.8h-.8zM415.7 178.0h.8v.8h-.8zM412.4 177.7h.8v.8h-.8zM400.0 177.3h.8v.8h-.8zM393.1 177.6h.8v.8h-.8zM394.8 177.2h.8v.8h-.8zM420.6 178.1h.8v.8h-.8zM406.9 177.6h.8v.8h-.8zM415.0 177.4h.8v.8h-.8zM403.0 177.2h.8v.8h-.8zM397.9 178.0h.8v.8h-.8zM418.1 178.0h.8v.8h-.8zM397.9 177.6h.8v.8h-.8zM402.8 177.9h.8v.8h-.8zM421.8 177.6h.8v.8h-.8zM417.1 177.8h.8v.8h-.8zM421.2 177.9h.8v.8h-.8zM421.0 177.5h.8v.8h-.8zM423.1 177.3h.8v.8h-.8zM412.2 177.6h.8v.8h-.8zM419.4 177.7h.8v.8h-.8zM395.1 177.2h.8v.8h-.8zM417.8 177.4h.8v.8h-.8zM415.8 177.9h.8v.8h-.8zM406.8 177.3h.8v.8h-.8zM422.8 177.2h.8v.8h-.8zM397.1 177.4h.8v.8h-.8zM409.7 177.7h.8v.8h-.8zM397.4 178.0h.8v.8h-.8zM407.0 177.6h.8v.8h-.8zM400.6 177.7h.8v.8h-.8zM409.7 177.3h.8v.8h-.8zM410.9 177.9h.8v.8h-.8zM420.4 177.7h.8v.8h-.8zM422.7 177.1h.8v.8h-.8zM396.5 177.5h.8v.8h-.8zM422.9 177.7h.8v.8h-.8zM409.5 177.8h.8v.8h-.8zM392.9 177.9h.8v.8h-.8z"/>
<line x1="380.3" y1="178.5" x2="441.0" y2="178.5" stroke="#555" stroke-width="0.9"/>
<line x1="379.3" y1="124.5" x2="380.8" y2="124.5" stroke="#666" stroke-width="0.6"/>
<line x1="379.3" y1="136.9" x2="380.8" y2="136.9" stroke="#666" stroke-width="0.6"/>
<line x1="379.3" y1="149.3" x2="380.8" y2="149.3" stroke="#666" stroke-width="0.6"/>
<line x1="379.3" y1="161.6" x2="380.8" y2="161.6" stroke="#666" stroke-width="0.6"/>
<line x1="379.3" y1="174.0" x2="380.8" y2="174.0" stroke="#666" stroke-width="0.6"/>
<line x1="388.3" y1="178.5" x2="388.3" y2="179.7" stroke="#666" stroke-width="0.6"/>
<line x1="400.1" y1="178.5" x2="400.1" y2="179.7" stroke="#666" stroke-width="0.6"/>
<line x1="411.9" y1="178.5" x2="411.9" y2="179.7" stroke="#666" stroke-width="0.6"/>
<line x1="423.7" y1="178.5" x2="423.7" y2="179.7" stroke="#666" stroke-width="0.6"/>
<line x1="435.5" y1="178.5" x2="435.5" y2="179.7" stroke="#666" stroke-width="0.6"/>
<text x="380.90000000000003" y="124.4" font-size="5.9" fill="#1a1a1a">0</text>
<text x="440.7" y="124.4" font-size="5.9" text-anchor="end" fill="#1a1a1a">25.6</text>
<text x="380.90000000000003" y="178.3" font-size="5.9" fill="#1a1a1a">0</text>
<text x="440.7" y="178.3" font-size="5.9" text-anchor="end" fill="#1a1a1a">74.4</text>
<text x="378.5" y="125.5" font-size="3.2" text-anchor="end" fill="#999">10</text>
<text x="378.5" y="141.8" font-size="3.2" text-anchor="end" fill="#999">10</text>
<text x="378.5" y="158.0" font-size="3.2" text-anchor="end" fill="#999">10</text>
<text x="378.5" y="174.2" font-size="3.2" text-anchor="end" fill="#999">10</text>
<text x="388.3" y="183.5" font-size="3.2" text-anchor="middle" fill="#999">10</text>
<text x="400.1" y="183.5" font-size="3.2" text-anchor="middle" fill="#999">10</text>
<text x="411.9" y="183.5" font-size="3.2" text-anchor="middle" fill="#999">10</text>
<text x="423.7" y="183.5" font-size="3.2" text-anchor="middle" fill="#999">10</text>
<text x="435.5" y="183.5" font-size="3.2" text-anchor="middle" fill="#999">10</text>
<path d="M456.5,179.5 L456.5,117.0 L519.5,117.0 L519.5,179.5" fill="none" stroke="#999" stroke-width="0.8"/>
<line x1="473.5" y1="117.0" x2="473.5" y2="179.5" stroke="#8a8a8a" stroke-width="0.75"/>
<line x1="456.5" y1="151.0" x2="519.5" y2="151.0" stroke="#808080" stroke-width="0.75"/>
<path fill="#000" fill-opacity="0.25" d="M485.3 140.9h0.8v0.8h-0.8zM482.2 135.9h0.8v0.8h-0.8zM484.2 147.9h0.8v0.8h-0.8zM485.7 134.8h0.8v0.8h-0.8zM486.2 140.1h0.8v0.8h-0.8zM480.5 135.7h0.8v0.8h-0.8zM483.5 145.8h0.8v0.8h-0.8zM487.0 130.9h0.8v0.8h-0.8zM490.7 136.0h0.8v0.8h-0.8zM481.0 144.5h0.8v0.8h-0.8zM485.4 142.3h0.8v0.8h-0.8zM482.6 140.1h0.8v0.8h-0.8zM482.5 140.9h0.8v0.8h-0.8zM486.7 136.9h0.8v0.8h-0.8zM482.3 140.3h0.8v0.8h-0.8zM486.9 136.2h0.8v0.8h-0.8zM485.7 142.8h0.8v0.8h-0.8zM482.7 138.9h0.8v0.8h-0.8zM484.4 142.3h0.8v0.8h-0.8zM483.3 136.9h0.8v0.8h-0.8zM488.9 138.6h0.8v0.8h-0.8zM484.7 136.4h0.8v0.8h-0.8zM482.7 134.3h0.8v0.8h-0.8zM483.7 140.0h0.8v0.8h-0.8zM483.0 148.0h0.8v0.8h-0.8zM486.5 144.5h0.8v0.8h-0.8zM481.3 144.3h0.8v0.8h-0.8zM487.1 138.1h0.8v0.8h-0.8zM482.2 141.8h0.8v0.8h-0.8zM483.3 137.2h0.8v0.8h-0.8zM484.0 146.5h0.8v0.8h-0.8zM480.5 139.6h0.8v0.8h-0.8zM483.8 136.8h0.8v0.8h-0.8zM483.9 140.2h0.8v0.8h-0.8zM484.5 136.8h0.8v0.8h-0.8z"/>
<path fill="#000" fill-opacity="0.25" d="M482.1 135.9h0.8v0.8h-0.8zM486.1 135.3h0.8v0.8h-0.8zM484.3 139.2h0.8v0.8h-0.8zM482.0 132.1h0.8v0.8h-0.8zM485.9 138.4h0.8v0.8h-0.8zM485.5 139.2h0.8v0.8h-0.8zM482.1 138.7h0.8v0.8h-0.8zM486.8 142.5h0.8v0.8h-0.8zM487.1 138.8h0.8v0.8h-0.8zM484.0 140.8h0.8v0.8h-0.8zM481.5 137.1h0.8v0.8h-0.8zM484.1 136.5h0.8v0.8h-0.8zM484.1 136.7h0.8v0.8h-0.8zM484.4 140.1h0.8v0.8h-0.8zM478.8 138.4h0.8v0.8h-0.8zM482.8 139.9h0.8v0.8h-0.8zM486.4 140.4h0.8v0.8h-0.8zM482.9 135.9h0.8v0.8h-0.8zM484.3 140.3h0.8v0.8h-0.8zM481.3 141.9h0.8v0.8h-0.8zM486.1 141.3h0.8v0.8h-0.8zM487.7 136.6h0.8v0.8h-0.8zM478.7 134.7h0.8v0.8h-0.8zM480.9 136.4h0.8v0.8h-0.8zM483.8 139.1h0.8v0.8h-0.8zM483.8 137.4h0.8v0.8h-0.8zM485.9 138.9h0.8v0.8h-0.8zM486.7 137.6h0.8v0.8h-0.8zM482.7 137.8h0.8v0.8h-0.8zM482.3 138.5h0.8v0.8h-0.8zM481.9 138.8h0.8v0.8h-0.8zM484.6 142.5h0.8v0.8h-0.8zM484.4 144.8h0.8v0.8h-0.8zM483.6 139.7h0.8v0.8h-0.8zM483.5 140.4h0.8v0.8h-0.8z"/>
<path fill="#000" fill-opacity="0.25" d="M487.2 137.4h0.8v0.8h-0.8zM482.1 142.5h0.8v0.8h-0.8zM482.6 138.3h0.8v0.8h-0.8zM487.3 138.8h0.8v0.8h-0.8zM483.7 138.8h0.8v0.8h-0.8zM485.8 144.6h0.8v0.8h-0.8zM486.2 138.3h0.8v0.8h-0.8zM483.8 140.9h0.8v0.8h-0.8zM483.3 137.4h0.8v0.8h-0.8zM484.7 140.6h0.8v0.8h-0.8zM481.6 141.2h0.8v0.8h-0.8zM484.7 136.8h0.8v0.8h-0.8zM482.0 133.5h0.8v0.8h-0.8zM485.7 140.5h0.8v0.8h-0.8zM484.0 140.9h0.8v0.8h-0.8zM485.1 139.5h0.8v0.8h-0.8zM483.5 140.3h0.8v0.8h-0.8zM483.5 137.8h0.8v0.8h-0.8zM481.3 129.3h0.8v0.8h-0.8zM482.8 139.8h0.8v0.8h-0.8zM482.6 139.2h0.8v0.8h-0.8zM482.8 139.3h0.8v0.8h-0.8zM487.3 140.5h0.8v0.8h-0.8zM482.0 143.2h0.8v0.8h-0.8zM487.0 141.9h0.8v0.8h-0.8zM481.6 142.4h0.8v0.8h-0.8zM487.2 135.9h0.8v0.8h-0.8zM484.9 142.8h0.8v0.8h-0.8zM483.6 142.8h0.8v0.8h-0.8zM484.4 133.9h0.8v0.8h-0.8zM483.4 142.2h0.8v0.8h-0.8zM482.8 141.2h0.8v0.8h-0.8zM482.1 134.9h0.8v0.8h-0.8zM486.6 138.0h0.8v0.8h-0.8zM485.0 133.8h0.8v0.8h-0.8z"/>
<path fill="#000" fill-opacity="0.25" d="M480.5 145.1h0.8v0.8h-0.8zM482.2 147.3h0.8v0.8h-0.8zM482.9 138.9h0.8v0.8h-0.8zM484.0 138.8h0.8v0.8h-0.8zM479.9 142.6h0.8v0.8h-0.8zM488.1 143.6h0.8v0.8h-0.8zM483.7 137.8h0.8v0.8h-0.8zM481.9 142.7h0.8v0.8h-0.8zM483.6 134.9h0.8v0.8h-0.8zM480.6 135.9h0.8v0.8h-0.8zM484.8 139.1h0.8v0.8h-0.8zM486.1 141.1h0.8v0.8h-0.8zM481.5 140.1h0.8v0.8h-0.8zM486.7 141.5h0.8v0.8h-0.8zM483.3 141.7h0.8v0.8h-0.8zM485.8 135.1h0.8v0.8h-0.8zM483.8 133.8h0.8v0.8h-0.8zM484.2 138.8h0.8v0.8h-0.8zM483.1 141.2h0.8v0.8h-0.8zM486.5 140.8h0.8v0.8h-0.8zM482.8 135.6h0.8v0.8h-0.8zM482.9 139.2h0.8v0.8h-0.8zM484.3 137.5h0.8v0.8h-0.8zM481.7 142.9h0.8v0.8h-0.8zM486.1 135.5h0.8v0.8h-0.8zM484.6 139.0h0.8v0.8h-0.8zM485.9 135.7h0.8v0.8h-0.8zM482.0 139.3h0.8v0.8h-0.8zM481.7 138.9h0.8v0.8h-0.8zM484.5 135.1h0.8v0.8h-0.8zM483.0 133.1h0.8v0.8h-0.8zM481.7 143.3h0.8v0.8h-0.8zM481.8 135.2h0.8v0.8h-0.8zM481.2 131.5h0.8v0.8h-0.8zM481.9 139.2h0.8v0.8h-0.8z"/>
<path fill="#000" fill-opacity="0.18" d="M483.5 146.3h0.8v0.8h-0.8zM480.3 153.7h0.8v0.8h-0.8zM488.4 130.7h0.8v0.8h-0.8zM480.7 142.1h0.8v0.8h-0.8zM479.9 146.7h0.8v0.8h-0.8zM481.8 137.1h0.8v0.8h-0.8zM483.6 141.3h0.8v0.8h-0.8zM482.6 145.3h0.8v0.8h-0.8zM484.2 147.3h0.8v0.8h-0.8zM473.8 142.1h0.8v0.8h-0.8zM480.7 138.4h0.8v0.8h-0.8zM487.3 143.3h0.8v0.8h-0.8zM481.1 139.8h0.8v0.8h-0.8z"/>
<path fill="#000" fill-opacity="0.18" d="M482.2 128.6h0.8v0.8h-0.8zM484.8 142.9h0.8v0.8h-0.8zM481.9 141.6h0.8v0.8h-0.8zM481.8 137.6h0.8v0.8h-0.8zM481.4 147.2h0.8v0.8h-0.8zM486.1 150.3h0.8v0.8h-0.8zM481.7 147.0h0.8v0.8h-0.8zM479.1 149.0h0.8v0.8h-0.8zM483.3 141.1h0.8v0.8h-0.8zM487.2 141.8h0.8v0.8h-0.8zM484.5 137.5h0.8v0.8h-0.8zM484.1 140.4h0.8v0.8h-0.8zM482.7 133.7h0.8v0.8h-0.8z"/>
<path fill="#000" fill-opacity="0.18" d="M488.1 131.0h0.8v0.8h-0.8zM482.5 152.2h0.8v0.8h-0.8zM484.5 134.7h0.8v0.8h-0.8zM487.5 140.7h0.8v0.8h-0.8zM482.4 137.5h0.8v0.8h-0.8zM486.1 137.8h0.8v0.8h-0.8zM480.6 136.1h0.8v0.8h-0.8zM491.7 150.7h0.8v0.8h-0.8zM485.8 130.4h0.8v0.8h-0.8zM484.7 147.6h0.8v0.8h-0.8zM483.6 149.2h0.8v0.8h-0.8zM485.3 141.3h0.8v0.8h-0.8z"/>
<path fill="#000" fill-opacity="0.18" d="M480.6 142.1h0.8v0.8h-0.8zM485.9 136.1h0.8v0.8h-0.8zM489.5 148.1h0.8v0.8h-0.8zM483.6 140.6h0.8v0.8h-0.8zM489.2 141.1h0.8v0.8h-0.8zM480.1 136.3h0.8v0.8h-0.8zM485.7 142.6h0.8v0.8h-0.8zM484.4 150.8h0.8v0.8h-0.8zM483.3 149.4h0.8v0.8h-0.8zM485.2 129.6h0.8v0.8h-0.8zM473.7 146.3h0.8v0.8h-0.8zM481.5 144.3h0.8v0.8h-0.8z"/>
<path fill="#000" fill-opacity="0.28" d="M486.1 165.8h0.8v0.8h-0.8zM482.1 168.4h0.8v0.8h-0.8zM487.7 166.3h0.8v0.8h-0.8zM487.1 163.1h0.8v0.8h-0.8zM484.7 164.4h0.8v0.8h-0.8zM489.0 169.9h0.8v0.8h-0.8zM483.1 169.1h0.8v0.8h-0.8zM482.3 165.1h0.8v0.8h-0.8zM479.6 167.3h0.8v0.8h-0.8zM481.6 177.2h0.8v0.8h-0.8zM492.3 171.2h0.8v0.8h-0.8zM491.1 164.0h0.8v0.8h-0.8zM486.5 153.7h0.8v0.8h-0.8zM485.5 160.0h0.8v0.8h-0.8zM484.8 176.2h0.8v0.8h-0.8zM479.6 174.5h0.8v0.8h-0.8zM486.8 160.0h0.8v0.8h-0.8zM484.4 176.9h0.8v0.8h-0.8zM483.8 161.9h0.8v0.8h-0.8zM482.1 176.0h0.8v0.8h-0.8zM480.2 155.4h0.8v0.8h-0.8zM484.7 153.0h0.8v0.8h-0.8zM482.8 172.4h0.8v0.8h-0.8zM479.3 176.8h0.8v0.8h-0.8zM485.2 162.7h0.8v0.8h-0.8zM480.4 165.6h0.8v0.8h-0.8zM484.5 166.4h0.8v0.8h-0.8zM479.6 162.3h0.8v0.8h-0.8zM478.8 155.5h0.8v0.8h-0.8zM484.0 165.2h0.8v0.8h-0.8zM483.7 158.6h0.8v0.8h-0.8zM486.3 153.9h0.8v0.8h-0.8zM491.4 165.8h0.8v0.8h-0.8zM485.5 175.3h0.8v0.8h-0.8zM484.1 174.6h0.8v0.8h-0.8zM480.6 174.1h0.8v0.8h-0.8zM485.4 169.4h0.8v0.8h-0.8zM483.1 169.8h0.8v0.8h-0.8zM488.1 154.7h0.8v0.8h-0.8zM480.8 163.4h0.8v0.8h-0.8zM481.8 177.2h0.8v0.8h-0.8zM483.7 154.1h0.8v0.8h-0.8zM483.7 166.0h0.8v0.8h-0.8zM483.2 164.1h0.8v0.8h-0.8zM485.5 160.5h0.8v0.8h-0.8zM485.9 158.6h0.8v0.8h-0.8zM485.5 159.3h0.8v0.8h-0.8zM487.3 167.9h0.8v0.8h-0.8zM483.5 165.4h0.8v0.8h-0.8zM483.2 155.1h0.8v0.8h-0.8zM478.6 162.3h0.8v0.8h-0.8zM492.1 159.4h0.8v0.8h-0.8zM485.6 155.0h0.8v0.8h-0.8zM478.8 155.4h0.8v0.8h-0.8zM486.1 177.0h0.8v0.8h-0.8zM482.0 167.2h0.8v0.8h-0.8zM487.8 174.0h0.8v0.8h-0.8zM485.9 172.7h0.8v0.8h-0.8zM486.8 157.3h0.8v0.8h-0.8zM487.0 158.6h0.8v0.8h-0.8zM483.6 163.9h0.8v0.8h-0.8zM486.4 159.3h0.8v0.8h-0.8zM484.1 177.3h0.8v0.8h-0.8zM489.3 173.2h0.8v0.8h-0.8zM483.7 157.8h0.8v0.8h-0.8zM489.5 167.2h0.8v0.8h-0.8zM481.9 169.1h0.8v0.8h-0.8zM484.2 155.7h0.8v0.8h-0.8zM485.3 165.3h0.8v0.8h-0.8zM482.6 177.3h0.8v0.8h-0.8zM476.8 163.3h0.8v0.8h-0.8zM480.6 169.1h0.8v0.8h-0.8zM483.7 155.3h0.8v0.8h-0.8zM486.3 167.5h0.8v0.8h-0.8zM480.8 165.3h0.8v0.8h-0.8zM487.4 174.8h0.8v0.8h-0.8zM482.7 173.7h0.8v0.8h-0.8zM484.3 161.3h0.8v0.8h-0.8zM484.8 164.5h0.8v0.8h-0.8zM481.2 170.6h0.8v0.8h-0.8zM484.2 169.2h0.8v0.8h-0.8zM479.4 161.1h0.8v0.8h-0.8zM480.7 161.7h0.8v0.8h-0.8zM486.7 165.3h0.8v0.8h-0.8zM485.1 161.2h0.8v0.8h-0.8zM488.4 165.7h0.8v0.8h-0.8zM484.9 153.0h0.8v0.8h-0.8zM479.7 177.6h0.8v0.8h-0.8zM481.4 167.2h0.8v0.8h-0.8zM485.9 170.4h0.8v0.8h-0.8zM486.3 172.3h0.8v0.8h-0.8zM485.5 154.8h0.8v0.8h-0.8zM480.4 163.2h0.8v0.8h-0.8zM482.7 166.3h0.8v0.8h-0.8zM483.8 161.1h0.8v0.8h-0.8zM491.1 164.2h0.8v0.8h-0.8zM478.2 156.9h0.8v0.8h-0.8zM486.6 156.1h0.8v0.8h-0.8zM481.2 164.2h0.8v0.8h-0.8zM485.8 176.0h0.8v0.8h-0.8zM487.6 162.4h0.8v0.8h-0.8zM486.0 171.3h0.8v0.8h-0.8zM477.7 176.6h0.8v0.8h-0.8zM480.8 177.6h0.8v0.8h-0.8zM480.4 163.6h0.8v0.8h-0.8zM481.9 154.3h0.8v0.8h-0.8zM484.7 166.4h0.8v0.8h-0.8zM478.4 173.5h0.8v0.8h-0.8zM487.8 153.9h0.8v0.8h-0.8zM484.8 173.4h0.8v0.8h-0.8zM482.1 167.0h0.8v0.8h-0.8zM486.5 158.8h0.8v0.8h-0.8zM483.4 158.8h0.8v0.8h-0.8zM478.4 177.6h0.8v0.8h-0.8zM480.8 172.2h0.8v0.8h-0.8zM483.1 172.3h0.8v0.8h-0.8zM484.4 164.1h0.8v0.8h-0.8zM483.7 160.8h0.8v0.8h-0.8zM486.6 155.9h0.8v0.8h-0.8zM483.1 176.5h0.8v0.8h-0.8zM492.1 153.3h0.8v0.8h-0.8zM490.4 160.7h0.8v0.8h-0.8zM482.8 157.5h0.8v0.8h-0.8zM484.8 161.6h0.8v0.8h-0.8zM488.7 168.2h0.8v0.8h-0.8zM484.3 173.9h0.8v0.8h-0.8zM475.4 157.7h0.8v0.8h-0.8zM481.9 172.9h0.8v0.8h-0.8zM484.4 176.3h0.8v0.8h-0.8zM485.8 166.6h0.8v0.8h-0.8zM482.7 177.0h0.8v0.8h-0.8zM479.2 154.1h0.8v0.8h-0.8zM482.7 153.6h0.8v0.8h-0.8zM492.1 176.9h0.8v0.8h-0.8zM487.2 167.9h0.8v0.8h-0.8zM485.8 177.9h0.8v0.8h-0.8zM482.4 163.3h0.8v0.8h-0.8zM490.7 174.0h0.8v0.8h-0.8zM486.5 173.1h0.8v0.8h-0.8zM479.2 167.2h0.8v0.8h-0.8z"/>
<path fill="#000" fill-opacity="0.28" d="M483.8 165.3h0.8v0.8h-0.8zM486.4 167.1h0.8v0.8h-0.8zM487.3 161.2h0.8v0.8h-0.8zM483.1 157.0h0.8v0.8h-0.8zM490.0 173.8h0.8v0.8h-0.8zM482.7 165.4h0.8v0.8h-0.8zM481.5 156.4h0.8v0.8h-0.8zM483.4 168.4h0.8v0.8h-0.8zM480.0 158.6h0.8v0.8h-0.8zM486.8 173.6h0.8v0.8h-0.8zM480.3 159.7h0.8v0.8h-0.8zM484.7 173.8h0.8v0.8h-0.8zM482.2 161.4h0.8v0.8h-0.8zM486.4 176.0h0.8v0.8h-0.8zM481.4 173.3h0.8v0.8h-0.8zM482.5 156.6h0.8v0.8h-0.8zM492.0 171.6h0.8v0.8h-0.8zM486.3 162.2h0.8v0.8h-0.8zM477.1 158.2h0.8v0.8h-0.8zM483.7 164.8h0.8v0.8h-0.8zM489.0 159.9h0.8v0.8h-0.8zM487.6 173.0h0.8v0.8h-0.8zM482.7 160.3h0.8v0.8h-0.8zM486.0 157.7h0.8v0.8h-0.8zM490.7 156.7h0.8v0.8h-0.8zM483.1 173.9h0.8v0.8h-0.8zM479.6 158.4h0.8v0.8h-0.8zM481.8 165.0h0.8v0.8h-0.8zM482.3 174.0h0.8v0.8h-0.8zM485.4 159.3h0.8v0.8h-0.8zM482.4 153.2h0.8v0.8h-0.8zM483.9 171.9h0.8v0.8h-0.8zM487.6 164.0h0.8v0.8h-0.8zM487.1 163.2h0.8v0.8h-0.8zM488.3 155.0h0.8v0.8h-0.8zM480.6 164.7h0.8v0.8h-0.8zM488.7 169.4h0.8v0.8h-0.8zM485.5 160.2h0.8v0.8h-0.8zM487.7 176.4h0.8v0.8h-0.8zM486.5 156.1h0.8v0.8h-0.8zM485.0 161.0h0.8v0.8h-0.8zM485.6 164.2h0.8v0.8h-0.8zM485.9 163.6h0.8v0.8h-0.8zM484.4 175.9h0.8v0.8h-0.8zM483.2 170.9h0.8v0.8h-0.8zM484.2 155.0h0.8v0.8h-0.8zM480.8 159.0h0.8v0.8h-0.8zM482.8 174.6h0.8v0.8h-0.8zM481.3 157.7h0.8v0.8h-0.8zM488.8 173.0h0.8v0.8h-0.8zM483.9 163.3h0.8v0.8h-0.8zM483.5 173.4h0.8v0.8h-0.8zM480.0 174.6h0.8v0.8h-0.8zM485.3 169.5h0.8v0.8h-0.8zM484.6 162.8h0.8v0.8h-0.8zM481.2 165.9h0.8v0.8h-0.8zM483.8 159.0h0.8v0.8h-0.8zM482.2 164.9h0.8v0.8h-0.8zM479.8 156.9h0.8v0.8h-0.8zM488.5 174.2h0.8v0.8h-0.8zM484.3 162.5h0.8v0.8h-0.8zM483.4 153.6h0.8v0.8h-0.8zM486.8 162.3h0.8v0.8h-0.8zM484.7 170.4h0.8v0.8h-0.8zM487.4 170.7h0.8v0.8h-0.8zM481.1 161.2h0.8v0.8h-0.8zM476.4 169.6h0.8v0.8h-0.8zM481.0 168.5h0.8v0.8h-0.8zM485.3 161.4h0.8v0.8h-0.8zM482.5 157.4h0.8v0.8h-0.8zM488.4 174.2h0.8v0.8h-0.8zM484.2 165.6h0.8v0.8h-0.8zM484.5 154.4h0.8v0.8h-0.8zM480.1 153.3h0.8v0.8h-0.8zM483.1 163.1h0.8v0.8h-0.8zM487.1 177.7h0.8v0.8h-0.8zM491.5 175.4h0.8v0.8h-0.8zM479.3 166.6h0.8v0.8h-0.8zM484.0 166.8h0.8v0.8h-0.8zM480.9 176.7h0.8v0.8h-0.8zM483.2 173.0h0.8v0.8h-0.8zM483.2 167.7h0.8v0.8h-0.8zM483.7 173.1h0.8v0.8h-0.8zM484.3 176.4h0.8v0.8h-0.8zM483.5 156.9h0.8v0.8h-0.8zM488.2 156.6h0.8v0.8h-0.8zM481.7 174.7h0.8v0.8h-0.8zM479.2 161.2h0.8v0.8h-0.8zM477.9 159.9h0.8v0.8h-0.8zM482.4 169.8h0.8v0.8h-0.8zM485.6 164.7h0.8v0.8h-0.8zM482.6 171.8h0.8v0.8h-0.8zM478.1 164.2h0.8v0.8h-0.8zM478.2 170.5h0.8v0.8h-0.8zM481.6 160.1h0.8v0.8h-0.8zM480.2 167.2h0.8v0.8h-0.8zM483.9 163.8h0.8v0.8h-0.8zM481.9 168.9h0.8v0.8h-0.8zM483.7 164.7h0.8v0.8h-0.8zM483.6 169.0h0.8v0.8h-0.8zM478.9 173.7h0.8v0.8h-0.8zM489.8 155.2h0.8v0.8h-0.8zM480.7 168.8h0.8v0.8h-0.8zM482.2 163.3h0.8v0.8h-0.8zM481.7 159.3h0.8v0.8h-0.8zM483.1 157.0h0.8v0.8h-0.8zM480.4 166.3h0.8v0.8h-0.8zM489.2 160.5h0.8v0.8h-0.8zM485.1 171.4h0.8v0.8h-0.8zM486.0 164.3h0.8v0.8h-0.8zM481.2 157.8h0.8v0.8h-0.8zM485.8 174.1h0.8v0.8h-0.8zM481.2 170.6h0.8v0.8h-0.8zM481.2 162.5h0.8v0.8h-0.8zM483.1 160.9h0.8v0.8h-0.8zM484.1 158.5h0.8v0.8h-0.8zM479.2 171.3h0.8v0.8h-0.8zM481.8 161.6h0.8v0.8h-0.8zM488.9 171.8h0.8v0.8h-0.8zM491.0 160.1h0.8v0.8h-0.8zM481.3 161.3h0.8v0.8h-0.8zM485.0 153.3h0.8v0.8h-0.8zM485.3 159.3h0.8v0.8h-0.8zM478.6 175.9h0.8v0.8h-0.8zM489.3 155.5h0.8v0.8h-0.8zM488.2 161.8h0.8v0.8h-0.8zM488.4 170.8h0.8v0.8h-0.8zM483.6 155.4h0.8v0.8h-0.8zM480.2 161.4h0.8v0.8h-0.8zM482.6 176.5h0.8v0.8h-0.8zM483.1 155.6h0.8v0.8h-0.8zM487.0 176.3h0.8v0.8h-0.8zM488.0 165.2h0.8v0.8h-0.8zM482.7 155.1h0.8v0.8h-0.8zM482.3 173.4h0.8v0.8h-0.8zM484.5 171.5h0.8v0.8h-0.8zM483.1 176.7h0.8v0.8h-0.8zM489.1 171.3h0.8v0.8h-0.8zM487.2 156.3h0.8v0.8h-0.8zM485.2 175.3h0.8v0.8h-0.8z"/>
<path fill="#000" fill-opacity="0.28" d="M479.3 158.2h0.8v0.8h-0.8zM483.7 176.9h0.8v0.8h-0.8zM480.9 161.5h0.8v0.8h-0.8zM481.4 164.2h0.8v0.8h-0.8zM480.1 153.7h0.8v0.8h-0.8zM481.8 157.3h0.8v0.8h-0.8zM482.4 165.7h0.8v0.8h-0.8zM485.9 170.0h0.8v0.8h-0.8zM478.0 167.2h0.8v0.8h-0.8zM483.1 168.3h0.8v0.8h-0.8zM485.2 173.7h0.8v0.8h-0.8zM482.4 174.6h0.8v0.8h-0.8zM485.2 168.6h0.8v0.8h-0.8zM489.7 177.7h0.8v0.8h-0.8zM483.7 155.3h0.8v0.8h-0.8zM482.8 172.7h0.8v0.8h-0.8zM485.3 170.4h0.8v0.8h-0.8zM480.0 153.7h0.8v0.8h-0.8zM480.8 169.4h0.8v0.8h-0.8zM478.0 157.9h0.8v0.8h-0.8zM481.4 162.4h0.8v0.8h-0.8zM483.8 166.8h0.8v0.8h-0.8zM487.9 170.0h0.8v0.8h-0.8zM486.8 165.7h0.8v0.8h-0.8zM485.8 157.7h0.8v0.8h-0.8zM491.8 158.0h0.8v0.8h-0.8zM484.6 171.2h0.8v0.8h-0.8zM488.5 170.3h0.8v0.8h-0.8zM484.8 159.2h0.8v0.8h-0.8zM482.8 162.3h0.8v0.8h-0.8zM483.2 170.4h0.8v0.8h-0.8zM477.3 162.8h0.8v0.8h-0.8zM478.6 173.8h0.8v0.8h-0.8zM481.7 164.5h0.8v0.8h-0.8zM479.2 177.5h0.8v0.8h-0.8zM486.0 170.8h0.8v0.8h-0.8zM487.6 161.1h0.8v0.8h-0.8zM484.7 166.6h0.8v0.8h-0.8zM489.4 162.2h0.8v0.8h-0.8zM481.2 177.2h0.8v0.8h-0.8zM480.1 162.8h0.8v0.8h-0.8zM485.6 164.0h0.8v0.8h-0.8zM490.7 159.0h0.8v0.8h-0.8zM482.5 170.8h0.8v0.8h-0.8zM487.3 156.2h0.8v0.8h-0.8zM485.9 165.9h0.8v0.8h-0.8zM484.6 171.6h0.8v0.8h-0.8zM485.0 170.3h0.8v0.8h-0.8zM481.4 167.6h0.8v0.8h-0.8zM481.5 155.9h0.8v0.8h-0.8zM486.1 177.5h0.8v0.8h-0.8zM482.2 177.9h0.8v0.8h-0.8zM485.2 168.4h0.8v0.8h-0.8zM487.1 169.2h0.8v0.8h-0.8zM481.1 170.4h0.8v0.8h-0.8zM487.2 177.1h0.8v0.8h-0.8zM483.8 176.5h0.8v0.8h-0.8zM482.8 173.0h0.8v0.8h-0.8zM481.9 161.4h0.8v0.8h-0.8zM480.8 160.6h0.8v0.8h-0.8zM490.7 162.4h0.8v0.8h-0.8zM488.3 167.6h0.8v0.8h-0.8zM491.1 156.1h0.8v0.8h-0.8zM478.1 156.9h0.8v0.8h-0.8zM478.7 168.7h0.8v0.8h-0.8zM486.9 155.6h0.8v0.8h-0.8zM489.4 164.1h0.8v0.8h-0.8zM484.9 170.1h0.8v0.8h-0.8zM494.9 164.1h0.8v0.8h-0.8zM487.3 153.4h0.8v0.8h-0.8zM484.8 158.9h0.8v0.8h-0.8zM481.9 177.9h0.8v0.8h-0.8zM478.3 170.4h0.8v0.8h-0.8zM482.0 168.5h0.8v0.8h-0.8zM488.4 173.0h0.8v0.8h-0.8zM484.1 175.0h0.8v0.8h-0.8zM484.1 162.5h0.8v0.8h-0.8zM488.0 175.8h0.8v0.8h-0.8zM482.7 168.6h0.8v0.8h-0.8zM487.0 174.9h0.8v0.8h-0.8zM484.2 158.7h0.8v0.8h-0.8zM489.7 176.8h0.8v0.8h-0.8zM486.0 172.4h0.8v0.8h-0.8zM487.4 162.9h0.8v0.8h-0.8zM485.9 170.5h0.8v0.8h-0.8zM486.7 158.4h0.8v0.8h-0.8zM484.7 172.2h0.8v0.8h-0.8zM487.9 160.8h0.8v0.8h-0.8zM484.0 156.4h0.8v0.8h-0.8zM488.3 172.2h0.8v0.8h-0.8zM484.8 155.7h0.8v0.8h-0.8zM488.2 155.1h0.8v0.8h-0.8zM487.0 159.1h0.8v0.8h-0.8zM486.3 160.3h0.8v0.8h-0.8zM487.2 165.0h0.8v0.8h-0.8zM485.7 159.5h0.8v0.8h-0.8zM487.9 162.6h0.8v0.8h-0.8zM483.5 169.5h0.8v0.8h-0.8zM490.3 176.2h0.8v0.8h-0.8zM486.4 177.8h0.8v0.8h-0.8zM485.3 164.7h0.8v0.8h-0.8zM486.4 162.4h0.8v0.8h-0.8zM482.9 154.7h0.8v0.8h-0.8zM481.9 157.3h0.8v0.8h-0.8zM482.4 164.2h0.8v0.8h-0.8zM480.6 175.2h0.8v0.8h-0.8zM485.2 169.7h0.8v0.8h-0.8zM487.9 169.4h0.8v0.8h-0.8zM482.1 164.1h0.8v0.8h-0.8zM483.3 173.2h0.8v0.8h-0.8zM489.0 166.3h0.8v0.8h-0.8zM487.7 174.7h0.8v0.8h-0.8zM482.4 161.7h0.8v0.8h-0.8zM484.5 174.9h0.8v0.8h-0.8zM485.5 166.8h0.8v0.8h-0.8zM483.9 159.5h0.8v0.8h-0.8zM482.9 166.4h0.8v0.8h-0.8zM486.6 171.2h0.8v0.8h-0.8zM484.9 159.3h0.8v0.8h-0.8zM484.0 167.0h0.8v0.8h-0.8zM483.0 163.8h0.8v0.8h-0.8zM486.2 158.3h0.8v0.8h-0.8zM480.7 160.6h0.8v0.8h-0.8zM485.1 164.9h0.8v0.8h-0.8zM490.3 153.8h0.8v0.8h-0.8zM479.0 157.8h0.8v0.8h-0.8zM486.6 155.9h0.8v0.8h-0.8zM479.2 156.2h0.8v0.8h-0.8zM477.2 161.6h0.8v0.8h-0.8zM488.9 172.4h0.8v0.8h-0.8zM485.1 160.9h0.8v0.8h-0.8zM479.4 164.8h0.8v0.8h-0.8zM489.9 169.9h0.8v0.8h-0.8zM482.4 168.1h0.8v0.8h-0.8zM483.9 176.1h0.8v0.8h-0.8zM484.5 175.4h0.8v0.8h-0.8zM487.5 154.4h0.8v0.8h-0.8zM489.1 165.3h0.8v0.8h-0.8zM486.5 159.7h0.8v0.8h-0.8zM479.9 177.7h0.8v0.8h-0.8z"/>
<path fill="#000" fill-opacity="0.28" d="M488.9 174.9h0.8v0.8h-0.8zM485.4 162.2h0.8v0.8h-0.8zM489.8 163.4h0.8v0.8h-0.8zM479.7 163.1h0.8v0.8h-0.8zM487.9 158.5h0.8v0.8h-0.8zM484.4 169.1h0.8v0.8h-0.8zM482.6 160.8h0.8v0.8h-0.8zM486.2 166.7h0.8v0.8h-0.8zM486.3 171.8h0.8v0.8h-0.8zM482.7 153.8h0.8v0.8h-0.8zM482.2 166.0h0.8v0.8h-0.8zM480.1 158.1h0.8v0.8h-0.8zM484.5 156.0h0.8v0.8h-0.8zM480.2 164.0h0.8v0.8h-0.8zM481.6 176.1h0.8v0.8h-0.8zM480.4 164.4h0.8v0.8h-0.8zM481.8 162.9h0.8v0.8h-0.8zM483.8 171.8h0.8v0.8h-0.8zM488.5 163.2h0.8v0.8h-0.8zM483.7 171.1h0.8v0.8h-0.8zM481.1 167.5h0.8v0.8h-0.8zM490.4 168.0h0.8v0.8h-0.8zM479.5 173.4h0.8v0.8h-0.8zM486.1 156.7h0.8v0.8h-0.8zM488.1 164.9h0.8v0.8h-0.8zM484.8 154.0h0.8v0.8h-0.8zM481.1 158.7h0.8v0.8h-0.8zM485.9 156.8h0.8v0.8h-0.8zM483.2 155.1h0.8v0.8h-0.8zM487.6 172.7h0.8v0.8h-0.8zM485.4 172.5h0.8v0.8h-0.8zM488.1 160.8h0.8v0.8h-0.8zM486.2 164.9h0.8v0.8h-0.8zM480.3 167.4h0.8v0.8h-0.8zM489.1 153.3h0.8v0.8h-0.8zM486.1 171.2h0.8v0.8h-0.8zM484.5 167.9h0.8v0.8h-0.8zM481.2 173.2h0.8v0.8h-0.8zM484.9 157.5h0.8v0.8h-0.8zM483.6 162.6h0.8v0.8h-0.8zM478.9 171.9h0.8v0.8h-0.8zM482.4 172.1h0.8v0.8h-0.8zM481.3 167.0h0.8v0.8h-0.8zM488.3 154.6h0.8v0.8h-0.8zM484.4 164.8h0.8v0.8h-0.8zM485.2 156.4h0.8v0.8h-0.8zM483.1 155.4h0.8v0.8h-0.8zM484.7 167.7h0.8v0.8h-0.8zM485.1 160.5h0.8v0.8h-0.8zM484.1 165.7h0.8v0.8h-0.8zM482.3 175.3h0.8v0.8h-0.8zM482.5 169.2h0.8v0.8h-0.8zM486.3 157.8h0.8v0.8h-0.8zM486.4 170.2h0.8v0.8h-0.8zM485.5 171.5h0.8v0.8h-0.8zM491.7 172.4h0.8v0.8h-0.8zM478.6 173.8h0.8v0.8h-0.8zM487.0 174.1h0.8v0.8h-0.8zM483.0 155.6h0.8v0.8h-0.8zM489.8 159.7h0.8v0.8h-0.8zM484.5 153.0h0.8v0.8h-0.8zM487.1 165.6h0.8v0.8h-0.8zM483.5 174.2h0.8v0.8h-0.8zM482.1 166.5h0.8v0.8h-0.8zM481.4 168.0h0.8v0.8h-0.8zM482.6 161.3h0.8v0.8h-0.8zM481.7 164.5h0.8v0.8h-0.8zM481.6 175.3h0.8v0.8h-0.8zM480.4 172.8h0.8v0.8h-0.8zM485.7 165.0h0.8v0.8h-0.8zM479.6 160.6h0.8v0.8h-0.8zM488.2 158.1h0.8v0.8h-0.8zM487.0 177.2h0.8v0.8h-0.8zM485.8 154.6h0.8v0.8h-0.8zM487.3 168.0h0.8v0.8h-0.8zM483.0 169.6h0.8v0.8h-0.8zM488.5 160.4h0.8v0.8h-0.8zM482.1 167.2h0.8v0.8h-0.8zM475.1 165.0h0.8v0.8h-0.8zM484.3 154.5h0.8v0.8h-0.8zM487.3 170.6h0.8v0.8h-0.8zM482.3 159.2h0.8v0.8h-0.8zM487.9 176.4h0.8v0.8h-0.8zM489.6 166.7h0.8v0.8h-0.8zM486.2 167.5h0.8v0.8h-0.8zM478.3 176.5h0.8v0.8h-0.8zM482.6 172.3h0.8v0.8h-0.8zM477.4 170.1h0.8v0.8h-0.8zM488.3 174.5h0.8v0.8h-0.8zM488.1 160.7h0.8v0.8h-0.8zM482.2 161.7h0.8v0.8h-0.8zM486.7 159.2h0.8v0.8h-0.8zM484.6 172.7h0.8v0.8h-0.8zM486.4 160.1h0.8v0.8h-0.8zM480.3 162.5h0.8v0.8h-0.8zM482.0 155.6h0.8v0.8h-0.8zM483.8 174.0h0.8v0.8h-0.8zM476.3 160.7h0.8v0.8h-0.8zM480.1 165.0h0.8v0.8h-0.8zM481.5 153.6h0.8v0.8h-0.8zM489.5 163.3h0.8v0.8h-0.8zM483.7 163.4h0.8v0.8h-0.8zM485.2 166.0h0.8v0.8h-0.8zM486.8 176.5h0.8v0.8h-0.8zM487.6 177.5h0.8v0.8h-0.8zM488.9 158.9h0.8v0.8h-0.8zM484.3 170.2h0.8v0.8h-0.8zM485.8 158.6h0.8v0.8h-0.8zM482.0 158.8h0.8v0.8h-0.8zM480.9 167.9h0.8v0.8h-0.8zM483.2 169.0h0.8v0.8h-0.8zM484.3 172.6h0.8v0.8h-0.8zM489.2 172.0h0.8v0.8h-0.8zM484.0 153.7h0.8v0.8h-0.8zM489.7 171.9h0.8v0.8h-0.8zM484.0 169.6h0.8v0.8h-0.8zM482.0 167.9h0.8v0.8h-0.8zM485.8 167.4h0.8v0.8h-0.8zM485.2 165.9h0.8v0.8h-0.8zM478.8 159.4h0.8v0.8h-0.8zM486.0 175.5h0.8v0.8h-0.8zM482.4 155.9h0.8v0.8h-0.8zM482.3 166.1h0.8v0.8h-0.8zM479.8 161.2h0.8v0.8h-0.8zM480.8 170.5h0.8v0.8h-0.8zM484.1 168.7h0.8v0.8h-0.8zM484.7 156.7h0.8v0.8h-0.8zM479.3 158.4h0.8v0.8h-0.8zM489.1 177.2h0.8v0.8h-0.8zM488.4 171.7h0.8v0.8h-0.8zM478.7 170.1h0.8v0.8h-0.8zM488.1 173.3h0.8v0.8h-0.8zM487.2 163.6h0.8v0.8h-0.8zM478.7 153.4h0.8v0.8h-0.8zM484.8 159.8h0.8v0.8h-0.8zM485.9 169.6h0.8v0.8h-0.8zM484.1 177.9h0.8v0.8h-0.8zM485.4 165.3h0.8v0.8h-0.8zM481.5 159.0h0.8v0.8h-0.8zM483.7 158.4h0.8v0.8h-0.8z"/>
<path fill="#000" fill-opacity="0.35" d="M489.4 160.2h0.8v0.8h-0.8zM489.6 169.8h0.8v0.8h-0.8zM487.1 156.9h0.8v0.8h-0.8zM488.6 169.6h0.8v0.8h-0.8zM489.8 168.1h0.8v0.8h-0.8zM487.6 162.9h0.8v0.8h-0.8zM488.9 153.4h0.8v0.8h-0.8zM488.5 173.1h0.8v0.8h-0.8zM490.0 158.5h0.8v0.8h-0.8zM488.7 172.9h0.8v0.8h-0.8zM488.0 154.4h0.8v0.8h-0.8zM490.3 167.2h0.8v0.8h-0.8zM488.4 158.3h0.8v0.8h-0.8zM489.2 160.6h0.8v0.8h-0.8zM487.3 167.7h0.8v0.8h-0.8zM488.0 173.7h0.8v0.8h-0.8zM488.9 163.1h0.8v0.8h-0.8zM488.0 170.5h0.8v0.8h-0.8zM486.5 158.8h0.8v0.8h-0.8zM489.9 161.3h0.8v0.8h-0.8zM487.7 165.5h0.8v0.8h-0.8zM488.9 165.7h0.8v0.8h-0.8zM488.9 169.1h0.8v0.8h-0.8zM488.4 171.9h0.8v0.8h-0.8zM488.3 175.6h0.8v0.8h-0.8zM489.1 155.3h0.8v0.8h-0.8zM488.3 155.0h0.8v0.8h-0.8zM486.4 158.7h0.8v0.8h-0.8zM488.8 157.0h0.8v0.8h-0.8zM489.4 154.0h0.8v0.8h-0.8zM488.6 159.8h0.8v0.8h-0.8zM488.0 168.2h0.8v0.8h-0.8zM487.5 165.7h0.8v0.8h-0.8zM490.0 170.6h0.8v0.8h-0.8zM490.2 160.4h0.8v0.8h-0.8zM489.1 160.3h0.8v0.8h-0.8zM489.6 163.6h0.8v0.8h-0.8zM489.2 168.9h0.8v0.8h-0.8zM488.2 171.4h0.8v0.8h-0.8zM489.0 165.7h0.8v0.8h-0.8zM488.9 168.5h0.8v0.8h-0.8zM489.2 170.9h0.8v0.8h-0.8zM489.8 162.2h0.8v0.8h-0.8zM488.0 164.2h0.8v0.8h-0.8zM486.8 165.2h0.8v0.8h-0.8zM488.8 160.8h0.8v0.8h-0.8zM489.0 154.8h0.8v0.8h-0.8zM490.1 165.8h0.8v0.8h-0.8zM490.0 172.0h0.8v0.8h-0.8zM490.4 175.1h0.8v0.8h-0.8zM487.7 168.5h0.8v0.8h-0.8zM488.2 163.7h0.8v0.8h-0.8zM489.8 172.6h0.8v0.8h-0.8zM489.0 153.1h0.8v0.8h-0.8zM487.4 160.6h0.8v0.8h-0.8zM489.7 169.9h0.8v0.8h-0.8zM486.1 158.8h0.8v0.8h-0.8zM486.4 174.8h0.8v0.8h-0.8zM489.2 161.4h0.8v0.8h-0.8zM488.8 169.0h0.8v0.8h-0.8zM486.8 175.3h0.8v0.8h-0.8zM488.3 172.4h0.8v0.8h-0.8zM489.7 166.2h0.8v0.8h-0.8zM487.6 153.1h0.8v0.8h-0.8zM489.8 157.0h0.8v0.8h-0.8z"/>
<path fill="#000" fill-opacity="0.35" d="M488.6 155.9h0.8v0.8h-0.8zM487.4 170.4h0.8v0.8h-0.8zM487.5 160.9h0.8v0.8h-0.8zM489.0 170.1h0.8v0.8h-0.8zM487.8 166.5h0.8v0.8h-0.8zM489.0 165.9h0.8v0.8h-0.8zM488.4 169.6h0.8v0.8h-0.8zM488.7 174.6h0.8v0.8h-0.8zM487.3 158.9h0.8v0.8h-0.8zM490.3 172.7h0.8v0.8h-0.8zM488.6 169.8h0.8v0.8h-0.8zM487.0 155.3h0.8v0.8h-0.8zM488.0 160.9h0.8v0.8h-0.8zM490.0 174.7h0.8v0.8h-0.8zM489.2 160.9h0.8v0.8h-0.8zM489.8 164.9h0.8v0.8h-0.8zM489.1 173.9h0.8v0.8h-0.8zM489.4 162.3h0.8v0.8h-0.8zM489.5 175.5h0.8v0.8h-0.8zM490.1 169.1h0.8v0.8h-0.8zM489.8 153.1h0.8v0.8h-0.8zM490.3 160.5h0.8v0.8h-0.8zM486.8 173.4h0.8v0.8h-0.8zM489.7 166.5h0.8v0.8h-0.8zM488.8 158.9h0.8v0.8h-0.8zM488.0 157.6h0.8v0.8h-0.8zM489.3 175.7h0.8v0.8h-0.8zM489.4 156.8h0.8v0.8h-0.8zM488.2 158.6h0.8v0.8h-0.8zM487.8 172.1h0.8v0.8h-0.8zM488.0 172.6h0.8v0.8h-0.8zM488.8 160.3h0.8v0.8h-0.8zM489.3 162.3h0.8v0.8h-0.8zM486.8 165.3h0.8v0.8h-0.8zM489.7 162.4h0.8v0.8h-0.8zM486.5 156.3h0.8v0.8h-0.8zM490.1 171.7h0.8v0.8h-0.8zM487.9 162.3h0.8v0.8h-0.8zM490.6 160.0h0.8v0.8h-0.8zM487.4 165.4h0.8v0.8h-0.8zM488.8 167.7h0.8v0.8h-0.8zM488.5 156.5h0.8v0.8h-0.8zM487.5 164.0h0.8v0.8h-0.8zM490.0 171.4h0.8v0.8h-0.8zM487.8 175.1h0.8v0.8h-0.8zM488.0 169.4h0.8v0.8h-0.8zM488.6 166.1h0.8v0.8h-0.8zM487.5 163.2h0.8v0.8h-0.8zM488.1 154.7h0.8v0.8h-0.8zM488.3 158.1h0.8v0.8h-0.8zM488.4 165.9h0.8v0.8h-0.8zM487.4 159.6h0.8v0.8h-0.8zM486.9 171.8h0.8v0.8h-0.8zM488.5 161.1h0.8v0.8h-0.8zM490.4 160.0h0.8v0.8h-0.8zM489.0 175.6h0.8v0.8h-0.8zM488.0 153.6h0.8v0.8h-0.8zM487.4 173.2h0.8v0.8h-0.8zM488.2 166.4h0.8v0.8h-0.8zM488.3 161.0h0.8v0.8h-0.8zM489.0 174.3h0.8v0.8h-0.8zM487.0 162.4h0.8v0.8h-0.8zM488.7 156.4h0.8v0.8h-0.8zM487.9 155.1h0.8v0.8h-0.8zM486.9 153.1h0.8v0.8h-0.8z"/>
<path fill="#000" fill-opacity="0.35" d="M488.3 174.2h0.8v0.8h-0.8zM488.0 157.7h0.8v0.8h-0.8zM489.3 175.5h0.8v0.8h-0.8zM487.5 164.9h0.8v0.8h-0.8zM486.8 166.2h0.8v0.8h-0.8zM487.9 162.8h0.8v0.8h-0.8zM487.6 166.6h0.8v0.8h-0.8zM488.2 160.4h0.8v0.8h-0.8zM487.9 163.8h0.8v0.8h-0.8zM489.5 175.7h0.8v0.8h-0.8zM490.2 168.3h0.8v0.8h-0.8zM487.6 158.7h0.8v0.8h-0.8zM487.7 163.1h0.8v0.8h-0.8zM489.4 166.9h0.8v0.8h-0.8zM489.0 165.9h0.8v0.8h-0.8zM488.5 159.3h0.8v0.8h-0.8zM488.8 156.0h0.8v0.8h-0.8zM487.5 170.8h0.8v0.8h-0.8zM487.0 161.8h0.8v0.8h-0.8zM487.3 157.8h0.8v0.8h-0.8zM488.2 154.6h0.8v0.8h-0.8zM488.5 159.4h0.8v0.8h-0.8zM488.2 154.0h0.8v0.8h-0.8zM487.8 175.6h0.8v0.8h-0.8zM488.8 168.0h0.8v0.8h-0.8zM489.5 167.8h0.8v0.8h-0.8zM489.8 161.0h0.8v0.8h-0.8zM487.5 164.7h0.8v0.8h-0.8zM487.4 165.7h0.8v0.8h-0.8zM489.4 156.3h0.8v0.8h-0.8zM488.3 168.8h0.8v0.8h-0.8zM488.9 162.3h0.8v0.8h-0.8zM488.6 160.6h0.8v0.8h-0.8zM488.8 155.7h0.8v0.8h-0.8zM488.1 169.2h0.8v0.8h-0.8zM488.6 161.5h0.8v0.8h-0.8zM488.0 164.8h0.8v0.8h-0.8zM489.6 165.8h0.8v0.8h-0.8zM489.1 175.2h0.8v0.8h-0.8zM487.4 155.1h0.8v0.8h-0.8zM489.0 174.4h0.8v0.8h-0.8zM486.8 156.6h0.8v0.8h-0.8zM488.1 171.0h0.8v0.8h-0.8zM487.1 168.7h0.8v0.8h-0.8zM490.6 169.4h0.8v0.8h-0.8zM488.9 175.9h0.8v0.8h-0.8zM488.2 163.3h0.8v0.8h-0.8zM488.0 161.0h0.8v0.8h-0.8zM489.2 155.9h0.8v0.8h-0.8zM488.5 159.3h0.8v0.8h-0.8zM487.8 169.9h0.8v0.8h-0.8zM489.6 167.2h0.8v0.8h-0.8zM487.9 159.2h0.8v0.8h-0.8zM487.7 155.6h0.8v0.8h-0.8zM489.7 166.6h0.8v0.8h-0.8zM488.9 161.6h0.8v0.8h-0.8zM489.2 165.9h0.8v0.8h-0.8zM488.4 153.4h0.8v0.8h-0.8zM488.6 168.0h0.8v0.8h-0.8zM488.7 175.9h0.8v0.8h-0.8zM487.7 164.9h0.8v0.8h-0.8zM486.7 157.6h0.8v0.8h-0.8zM489.4 157.3h0.8v0.8h-0.8zM488.4 158.9h0.8v0.8h-0.8zM488.5 161.4h0.8v0.8h-0.8z"/>
<path fill="#000" fill-opacity="0.35" d="M488.6 164.1h0.8v0.8h-0.8zM490.0 165.8h0.8v0.8h-0.8zM486.9 155.7h0.8v0.8h-0.8zM487.1 165.9h0.8v0.8h-0.8zM488.6 156.0h0.8v0.8h-0.8zM489.3 161.5h0.8v0.8h-0.8zM489.2 161.4h0.8v0.8h-0.8zM489.6 154.3h0.8v0.8h-0.8zM486.8 161.9h0.8v0.8h-0.8zM489.4 169.4h0.8v0.8h-0.8zM489.3 163.9h0.8v0.8h-0.8zM487.9 174.4h0.8v0.8h-0.8zM488.1 171.7h0.8v0.8h-0.8zM488.2 155.5h0.8v0.8h-0.8zM488.6 156.9h0.8v0.8h-0.8zM489.8 171.0h0.8v0.8h-0.8zM489.1 157.9h0.8v0.8h-0.8zM488.7 173.8h0.8v0.8h-0.8zM488.3 159.2h0.8v0.8h-0.8zM488.8 157.1h0.8v0.8h-0.8zM487.5 159.0h0.8v0.8h-0.8zM489.3 161.0h0.8v0.8h-0.8zM488.1 156.8h0.8v0.8h-0.8zM488.8 170.3h0.8v0.8h-0.8zM488.1 161.2h0.8v0.8h-0.8zM485.9 168.7h0.8v0.8h-0.8zM488.9 157.3h0.8v0.8h-0.8zM487.4 157.1h0.8v0.8h-0.8zM488.4 169.7h0.8v0.8h-0.8zM488.6 166.9h0.8v0.8h-0.8zM488.1 171.3h0.8v0.8h-0.8zM488.9 155.9h0.8v0.8h-0.8zM488.1 174.5h0.8v0.8h-0.8zM487.2 158.9h0.8v0.8h-0.8zM488.4 171.3h0.8v0.8h-0.8zM487.0 160.9h0.8v0.8h-0.8zM489.2 170.1h0.8v0.8h-0.8zM487.2 161.3h0.8v0.8h-0.8zM488.8 153.9h0.8v0.8h-0.8zM489.2 174.2h0.8v0.8h-0.8zM487.1 154.2h0.8v0.8h-0.8zM488.2 165.1h0.8v0.8h-0.8zM491.0 168.6h0.8v0.8h-0.8zM490.1 163.4h0.8v0.8h-0.8zM488.6 164.3h0.8v0.8h-0.8zM487.6 167.9h0.8v0.8h-0.8zM489.2 154.8h0.8v0.8h-0.8zM489.8 175.4h0.8v0.8h-0.8zM489.1 162.7h0.8v0.8h-0.8zM488.7 154.3h0.8v0.8h-0.8zM488.0 168.9h0.8v0.8h-0.8zM488.8 157.3h0.8v0.8h-0.8zM488.5 170.0h0.8v0.8h-0.8zM489.6 172.4h0.8v0.8h-0.8zM490.8 172.0h0.8v0.8h-0.8zM488.3 176.0h0.8v0.8h-0.8zM488.2 161.3h0.8v0.8h-0.8zM490.4 162.6h0.8v0.8h-0.8zM490.1 155.2h0.8v0.8h-0.8zM488.8 171.4h0.8v0.8h-0.8zM488.3 175.6h0.8v0.8h-0.8zM487.8 172.8h0.8v0.8h-0.8zM488.0 162.5h0.8v0.8h-0.8zM488.0 171.6h0.8v0.8h-0.8zM487.1 153.4h0.8v0.8h-0.8z"/>
<path fill="#000" fill-opacity="0.18" d="M480.7 167.5h0.8v0.8h-0.8zM484.9 173.5h0.8v0.8h-0.8zM482.6 158.3h0.8v0.8h-0.8zM490.5 173.1h0.8v0.8h-0.8zM476.5 167.1h0.8v0.8h-0.8zM490.4 164.7h0.8v0.8h-0.8zM489.0 165.0h0.8v0.8h-0.8zM485.8 164.7h0.8v0.8h-0.8zM485.9 165.0h0.8v0.8h-0.8zM487.2 158.5h0.8v0.8h-0.8zM487.8 165.2h0.8v0.8h-0.8zM484.9 161.4h0.8v0.8h-0.8zM493.8 156.3h0.8v0.8h-0.8zM481.0 159.9h0.8v0.8h-0.8zM496.6 174.1h0.8v0.8h-0.8zM487.2 151.9h0.8v0.8h-0.8zM480.4 164.4h0.8v0.8h-0.8zM485.2 150.7h0.8v0.8h-0.8zM484.0 159.3h0.8v0.8h-0.8zM489.9 164.8h0.8v0.8h-0.8zM480.9 149.0h0.8v0.8h-0.8zM486.0 166.7h0.8v0.8h-0.8zM486.2 177.3h0.8v0.8h-0.8zM490.0 177.9h0.8v0.8h-0.8zM482.0 174.4h0.8v0.8h-0.8zM483.9 165.2h0.8v0.8h-0.8zM484.7 166.2h0.8v0.8h-0.8zM483.8 171.0h0.8v0.8h-0.8zM483.6 155.7h0.8v0.8h-0.8zM486.0 162.4h0.8v0.8h-0.8z"/>
<path fill="#000" fill-opacity="0.18" d="M472.0 153.2h0.8v0.8h-0.8zM488.4 164.4h0.8v0.8h-0.8zM484.9 160.1h0.8v0.8h-0.8zM481.7 158.3h0.8v0.8h-0.8zM479.9 159.7h0.8v0.8h-0.8zM482.3 170.0h0.8v0.8h-0.8zM489.0 161.8h0.8v0.8h-0.8zM482.0 173.5h0.8v0.8h-0.8zM489.2 166.9h0.8v0.8h-0.8zM488.6 163.1h0.8v0.8h-0.8zM484.9 157.2h0.8v0.8h-0.8zM483.3 152.6h0.8v0.8h-0.8zM491.5 156.6h0.8v0.8h-0.8zM484.7 161.1h0.8v0.8h-0.8zM485.6 161.8h0.8v0.8h-0.8zM471.1 153.5h0.8v0.8h-0.8zM481.9 171.5h0.8v0.8h-0.8zM482.2 155.7h0.8v0.8h-0.8zM483.0 168.8h0.8v0.8h-0.8zM487.2 155.1h0.8v0.8h-0.8zM476.2 151.3h0.8v0.8h-0.8zM473.1 167.0h0.8v0.8h-0.8zM492.8 163.3h0.8v0.8h-0.8zM483.4 165.0h0.8v0.8h-0.8zM481.7 172.4h0.8v0.8h-0.8zM487.6 165.1h0.8v0.8h-0.8zM477.6 164.9h0.8v0.8h-0.8z"/>
<path fill="#000" fill-opacity="0.18" d="M484.5 168.1h0.8v0.8h-0.8zM481.7 173.3h0.8v0.8h-0.8zM489.6 171.7h0.8v0.8h-0.8zM488.8 172.9h0.8v0.8h-0.8zM486.2 173.2h0.8v0.8h-0.8zM478.4 155.4h0.8v0.8h-0.8zM478.2 151.9h0.8v0.8h-0.8zM483.8 153.7h0.8v0.8h-0.8zM490.0 166.7h0.8v0.8h-0.8zM479.4 158.2h0.8v0.8h-0.8zM482.6 165.0h0.8v0.8h-0.8zM478.8 163.7h0.8v0.8h-0.8zM484.8 166.7h0.8v0.8h-0.8zM483.0 164.7h0.8v0.8h-0.8zM489.2 165.2h0.8v0.8h-0.8zM486.2 165.3h0.8v0.8h-0.8zM483.9 165.4h0.8v0.8h-0.8zM485.8 146.9h0.8v0.8h-0.8zM485.8 164.8h0.8v0.8h-0.8zM484.5 157.8h0.8v0.8h-0.8zM483.5 154.6h0.8v0.8h-0.8zM491.6 168.8h0.8v0.8h-0.8zM484.9 175.2h0.8v0.8h-0.8zM485.8 170.5h0.8v0.8h-0.8zM477.7 159.7h0.8v0.8h-0.8zM485.7 167.8h0.8v0.8h-0.8zM483.7 172.8h0.8v0.8h-0.8zM481.2 170.5h0.8v0.8h-0.8zM488.5 159.8h0.8v0.8h-0.8zM487.2 169.7h0.8v0.8h-0.8z"/>
<path fill="#000" fill-opacity="0.18" d="M483.2 161.4h0.8v0.8h-0.8zM486.7 171.9h0.8v0.8h-0.8zM473.3 170.2h0.8v0.8h-0.8zM484.3 156.0h0.8v0.8h-0.8zM473.9 159.8h0.8v0.8h-0.8zM484.1 177.2h0.8v0.8h-0.8zM485.3 172.1h0.8v0.8h-0.8zM490.7 159.9h0.8v0.8h-0.8zM481.7 161.0h0.8v0.8h-0.8zM481.9 175.5h0.8v0.8h-0.8zM469.9 174.2h0.8v0.8h-0.8zM487.6 154.5h0.8v0.8h-0.8zM481.5 171.2h0.8v0.8h-0.8zM490.1 173.3h0.8v0.8h-0.8zM489.2 152.4h0.8v0.8h-0.8zM489.1 164.1h0.8v0.8h-0.8zM486.0 164.2h0.8v0.8h-0.8zM481.6 166.7h0.8v0.8h-0.8zM476.9 171.8h0.8v0.8h-0.8zM478.6 170.6h0.8v0.8h-0.8zM483.2 154.0h0.8v0.8h-0.8zM480.9 168.9h0.8v0.8h-0.8zM482.3 164.8h0.8v0.8h-0.8zM476.5 157.8h0.8v0.8h-0.8zM485.3 176.5h0.8v0.8h-0.8zM484.1 165.5h0.8v0.8h-0.8zM493.5 166.8h0.8v0.8h-0.8zM478.5 156.9h0.8v0.8h-0.8z"/>
<path fill="#000" fill-opacity="0.6" d="M486.6 178.5h.8v.8h-.8zM481.6 179.0h.8v.8h-.8zM474.3 178.3h.8v.8h-.8zM491.3 178.2h.8v.8h-.8zM475.5 178.3h.8v.8h-.8zM477.4 178.8h.8v.8h-.8zM478.0 178.2h.8v.8h-.8zM490.4 178.3h.8v.8h-.8zM481.6 178.2h.8v.8h-.8zM479.2 178.5h.8v.8h-.8zM487.5 178.9h.8v.8h-.8zM481.6 179.0h.8v.8h-.8zM489.9 178.9h.8v.8h-.8zM476.7 178.8h.8v.8h-.8zM486.8 178.5h.8v.8h-.8zM484.5 178.2h.8v.8h-.8zM489.0 178.9h.8v.8h-.8zM484.7 178.9h.8v.8h-.8zM478.8 179.0h.8v.8h-.8zM475.5 178.7h.8v.8h-.8zM491.7 178.4h.8v.8h-.8zM475.8 178.9h.8v.8h-.8zM485.8 178.6h.8v.8h-.8zM474.5 179.0h.8v.8h-.8zM485.3 178.5h.8v.8h-.8zM475.6 178.3h.8v.8h-.8zM478.8 178.5h.8v.8h-.8zM484.6 178.8h.8v.8h-.8zM492.9 178.7h.8v.8h-.8zM482.5 178.6h.8v.8h-.8zM490.8 178.1h.8v.8h-.8zM489.4 178.6h.8v.8h-.8zM488.3 178.5h.8v.8h-.8zM493.2 178.1h.8v.8h-.8zM489.2 178.9h.8v.8h-.8zM485.4 178.7h.8v.8h-.8zM478.6 178.3h.8v.8h-.8zM478.4 178.4h.8v.8h-.8zM483.8 178.7h.8v.8h-.8zM488.1 178.4h.8v.8h-.8zM493.8 178.1h.8v.8h-.8zM490.0 178.8h.8v.8h-.8zM487.4 178.6h.8v.8h-.8zM492.8 178.7h.8v.8h-.8zM481.1 179.1h.8v.8h-.8zM483.4 178.6h.8v.8h-.8zM480.2 179.0h.8v.8h-.8zM483.7 179.0h.8v.8h-.8zM477.4 178.7h.8v.8h-.8zM481.0 178.6h.8v.8h-.8z"/>
<line x1="456.5" y1="179.5" x2="519.5" y2="179.5" stroke="#555" stroke-width="0.9"/>
<line x1="455.5" y1="123.0" x2="457.0" y2="123.0" stroke="#666" stroke-width="0.6"/>
<line x1="455.5" y1="136.0" x2="457.0" y2="136.0" stroke="#666" stroke-width="0.6"/>
<line x1="455.5" y1="149.0" x2="457.0" y2="149.0" stroke="#666" stroke-width="0.6"/>
<line x1="455.5" y1="161.9" x2="457.0" y2="161.9" stroke="#666" stroke-width="0.6"/>
<line x1="455.5" y1="174.9" x2="457.0" y2="174.9" stroke="#666" stroke-width="0.6"/>
<line x1="464.5" y1="179.5" x2="464.5" y2="180.7" stroke="#666" stroke-width="0.6"/>
<line x1="476.8" y1="179.5" x2="476.8" y2="180.7" stroke="#666" stroke-width="0.6"/>
<line x1="489.2" y1="179.5" x2="489.2" y2="180.7" stroke="#666" stroke-width="0.6"/>
<line x1="501.5" y1="179.5" x2="501.5" y2="180.7" stroke="#666" stroke-width="0.6"/>
<line x1="513.8" y1="179.5" x2="513.8" y2="180.7" stroke="#666" stroke-width="0.6"/>
<rect x="507.0" y="116.0" width="12.0" height="8" fill="#fff"/>
<text x="457.1" y="122.9" font-size="5.9" fill="#1a1a1a">0</text>
<text x="519.2" y="122.9" font-size="5.9" text-anchor="end" fill="#1a1a1a">13.8</text>
<text x="457.1" y="179.3" font-size="5.9" fill="#1a1a1a">0</text>
<text x="519.2" y="179.3" font-size="5.9" text-anchor="end" fill="#1a1a1a">86.2</text>
<text x="454.7" y="124.0" font-size="3.2" text-anchor="end" fill="#999">10</text>
<text x="454.7" y="141.0" font-size="3.2" text-anchor="end" fill="#999">10</text>
<text x="454.7" y="158.1" font-size="3.2" text-anchor="end" fill="#999">10</text>
<text x="454.7" y="175.1" font-size="3.2" text-anchor="end" fill="#999">10</text>
<text x="464.5" y="184.5" font-size="3.2" text-anchor="middle" fill="#999">10</text>
<text x="476.8" y="184.5" font-size="3.2" text-anchor="middle" fill="#999">10</text>
<text x="489.2" y="184.5" font-size="3.2" text-anchor="middle" fill="#999">10</text>
<text x="501.5" y="184.5" font-size="3.2" text-anchor="middle" fill="#999">10</text>
<text x="513.8" y="184.5" font-size="3.2" text-anchor="middle" fill="#999">10</text>
<path d="M367.6,158.5 L367.6,190.3 L405.2,190.3" fill="none" stroke="#000" stroke-width="1.9"/>
<path d="M364.1,162.5 L367.6,158.1 L371.1,162.5" fill="none" stroke="#000" stroke-width="1.9"/>
<path d="M401.0,186.8 L405.59999999999997,190.3 L401.0,193.8" fill="none" stroke="#000" stroke-width="1.9"/>
<text transform="translate(362.2,175.8) rotate(-90) scale(1,1.14)" font-size="9.5" text-anchor="middle" fill="#000" stroke="#000" stroke-width="0.1">CD19</text>
<text transform="translate(384.8,198.5) scale(1,1.12)" font-size="9.2" text-anchor="middle" fill="#000" stroke="#000" stroke-width="0.1">CD45</text>
<path d="M381.2,276.0 L381.2,215.2 L442.2,215.2 L442.2,276.0" fill="none" stroke="#999" stroke-width="0.8"/>
<line x1="401.8" y1="215.2" x2="401.8" y2="276.0" stroke="#888" stroke-width="0.8"/>
<line x1="381.2" y1="248.5" x2="442.2" y2="248.5" stroke="#333" stroke-width="1.0"/>
<path fill="#000" fill-opacity="0.42" d="M407.0 239.1h0.8v0.8h-0.8zM407.5 242.8h0.8v0.8h-0.8zM407.3 240.8h0.8v0.8h-0.8zM409.1 237.8h0.8v0.8h-0.8zM407.0 241.8h0.8v0.8h-0.8zM408.3 242.0h0.8v0.8h-0.8zM409.0 236.1h0.8v0.8h-0.8zM409.8 237.9h0.8v0.8h-0.8zM405.8 237.5h0.8v0.8h-0.8zM408.2 236.9h0.8v0.8h-0.8zM409.1 240.9h0.8v0.8h-0.8zM408.1 236.8h0.8v0.8h-0.8zM407.2 241.0h0.8v0.8h-0.8zM409.8 238.0h0.8v0.8h-0.8zM408.7 239.5h0.8v0.8h-0.8zM409.3 238.4h0.8v0.8h-0.8zM408.4 238.9h0.8v0.8h-0.8zM409.6 236.5h0.8v0.8h-0.8zM411.4 238.6h0.8v0.8h-0.8zM409.3 240.5h0.8v0.8h-0.8zM409.7 239.2h0.8v0.8h-0.8zM408.4 239.3h0.8v0.8h-0.8zM408.2 238.8h0.8v0.8h-0.8zM407.5 238.7h0.8v0.8h-0.8zM407.9 238.4h0.8v0.8h-0.8zM407.7 242.2h0.8v0.8h-0.8zM407.5 239.2h0.8v0.8h-0.8zM409.5 238.9h0.8v0.8h-0.8zM406.4 240.7h0.8v0.8h-0.8zM408.7 241.2h0.8v0.8h-0.8zM406.7 240.0h0.8v0.8h-0.8zM409.2 242.4h0.8v0.8h-0.8zM407.9 236.7h0.8v0.8h-0.8zM409.2 239.8h0.8v0.8h-0.8zM406.8 236.3h0.8v0.8h-0.8z"/>
<path fill="#000" fill-opacity="0.42" d="M408.7 239.8h0.8v0.8h-0.8zM405.8 239.7h0.8v0.8h-0.8zM410.1 239.0h0.8v0.8h-0.8zM412.2 240.7h0.8v0.8h-0.8zM407.8 244.3h0.8v0.8h-0.8zM409.2 239.4h0.8v0.8h-0.8zM408.7 238.4h0.8v0.8h-0.8zM408.5 240.8h0.8v0.8h-0.8zM409.5 241.5h0.8v0.8h-0.8zM406.2 236.7h0.8v0.8h-0.8zM409.7 241.5h0.8v0.8h-0.8zM407.5 243.4h0.8v0.8h-0.8zM408.4 243.1h0.8v0.8h-0.8zM409.8 241.0h0.8v0.8h-0.8zM408.0 238.9h0.8v0.8h-0.8zM409.1 239.8h0.8v0.8h-0.8zM406.6 239.2h0.8v0.8h-0.8zM409.0 240.2h0.8v0.8h-0.8zM410.4 242.2h0.8v0.8h-0.8zM409.9 241.7h0.8v0.8h-0.8zM408.2 243.9h0.8v0.8h-0.8zM406.9 237.6h0.8v0.8h-0.8zM409.4 240.5h0.8v0.8h-0.8zM405.8 237.8h0.8v0.8h-0.8zM407.4 238.5h0.8v0.8h-0.8zM409.2 237.3h0.8v0.8h-0.8zM408.7 236.9h0.8v0.8h-0.8zM410.4 240.8h0.8v0.8h-0.8zM409.3 241.3h0.8v0.8h-0.8zM410.6 240.1h0.8v0.8h-0.8zM408.2 241.9h0.8v0.8h-0.8zM406.8 239.4h0.8v0.8h-0.8zM407.5 237.4h0.8v0.8h-0.8zM410.1 237.9h0.8v0.8h-0.8zM409.9 240.8h0.8v0.8h-0.8z"/>
<path fill="#000" fill-opacity="0.42" d="M404.8 237.4h0.8v0.8h-0.8zM409.3 239.5h0.8v0.8h-0.8zM405.1 236.9h0.8v0.8h-0.8zM406.6 238.9h0.8v0.8h-0.8zM407.7 240.8h0.8v0.8h-0.8zM409.2 243.3h0.8v0.8h-0.8zM409.6 238.2h0.8v0.8h-0.8zM408.0 239.5h0.8v0.8h-0.8zM407.8 239.7h0.8v0.8h-0.8zM410.4 238.7h0.8v0.8h-0.8zM407.1 238.3h0.8v0.8h-0.8zM411.6 237.6h0.8v0.8h-0.8zM409.2 238.8h0.8v0.8h-0.8zM405.9 239.1h0.8v0.8h-0.8zM408.5 237.2h0.8v0.8h-0.8zM409.8 240.5h0.8v0.8h-0.8zM410.1 241.2h0.8v0.8h-0.8zM409.6 240.1h0.8v0.8h-0.8zM408.6 237.0h0.8v0.8h-0.8zM406.4 236.4h0.8v0.8h-0.8zM410.5 242.0h0.8v0.8h-0.8zM408.7 236.9h0.8v0.8h-0.8zM409.0 236.8h0.8v0.8h-0.8zM407.4 241.2h0.8v0.8h-0.8zM406.2 240.1h0.8v0.8h-0.8zM407.7 238.2h0.8v0.8h-0.8zM407.8 240.8h0.8v0.8h-0.8zM411.4 240.2h0.8v0.8h-0.8zM409.0 236.3h0.8v0.8h-0.8zM405.4 237.3h0.8v0.8h-0.8zM410.1 238.5h0.8v0.8h-0.8zM410.8 237.9h0.8v0.8h-0.8zM410.1 240.0h0.8v0.8h-0.8zM409.7 242.5h0.8v0.8h-0.8zM409.0 237.6h0.8v0.8h-0.8z"/>
<path fill="#000" fill-opacity="0.42" d="M408.2 241.5h0.8v0.8h-0.8zM408.9 241.5h0.8v0.8h-0.8zM407.2 237.2h0.8v0.8h-0.8zM410.8 241.0h0.8v0.8h-0.8zM409.3 238.5h0.8v0.8h-0.8zM409.9 240.5h0.8v0.8h-0.8zM409.2 237.2h0.8v0.8h-0.8zM410.1 243.3h0.8v0.8h-0.8zM408.2 244.4h0.8v0.8h-0.8zM411.4 240.9h0.8v0.8h-0.8zM407.7 239.7h0.8v0.8h-0.8zM409.1 239.4h0.8v0.8h-0.8zM404.6 239.3h0.8v0.8h-0.8zM409.0 241.1h0.8v0.8h-0.8zM409.5 238.8h0.8v0.8h-0.8zM409.9 239.1h0.8v0.8h-0.8zM407.2 240.2h0.8v0.8h-0.8zM405.9 235.1h0.8v0.8h-0.8zM410.5 239.4h0.8v0.8h-0.8zM408.7 239.5h0.8v0.8h-0.8zM410.0 237.8h0.8v0.8h-0.8zM409.3 240.5h0.8v0.8h-0.8zM406.1 243.9h0.8v0.8h-0.8zM404.6 236.5h0.8v0.8h-0.8zM410.3 239.8h0.8v0.8h-0.8zM408.4 242.1h0.8v0.8h-0.8zM410.2 235.4h0.8v0.8h-0.8zM407.9 237.7h0.8v0.8h-0.8zM407.9 239.0h0.8v0.8h-0.8zM405.3 237.8h0.8v0.8h-0.8zM409.9 239.5h0.8v0.8h-0.8zM408.8 239.8h0.8v0.8h-0.8zM409.5 236.9h0.8v0.8h-0.8zM411.2 237.5h0.8v0.8h-0.8zM410.4 243.0h0.8v0.8h-0.8z"/>
<path fill="#000" fill-opacity="0.2" d="M406.9 241.6h0.8v0.8h-0.8zM405.6 241.0h0.8v0.8h-0.8zM410.5 238.6h0.8v0.8h-0.8zM406.6 239.9h0.8v0.8h-0.8zM406.3 238.2h0.8v0.8h-0.8zM406.5 240.9h0.8v0.8h-0.8zM402.0 242.6h0.8v0.8h-0.8zM405.4 241.7h0.8v0.8h-0.8zM406.3 238.1h0.8v0.8h-0.8zM410.0 239.2h0.8v0.8h-0.8zM406.9 239.2h0.8v0.8h-0.8zM406.4 243.1h0.8v0.8h-0.8zM404.6 246.2h0.8v0.8h-0.8zM412.0 239.1h0.8v0.8h-0.8zM400.7 241.9h0.8v0.8h-0.8zM407.6 241.0h0.8v0.8h-0.8zM410.6 236.5h0.8v0.8h-0.8zM411.8 245.4h0.8v0.8h-0.8z"/>
<path fill="#000" fill-opacity="0.2" d="M409.9 243.7h0.8v0.8h-0.8zM406.3 243.7h0.8v0.8h-0.8zM411.5 245.2h0.8v0.8h-0.8zM410.1 241.6h0.8v0.8h-0.8zM406.6 245.6h0.8v0.8h-0.8zM406.1 251.3h0.8v0.8h-0.8zM407.1 240.9h0.8v0.8h-0.8zM406.6 240.3h0.8v0.8h-0.8zM404.6 245.0h0.8v0.8h-0.8zM409.7 247.8h0.8v0.8h-0.8zM408.6 238.2h0.8v0.8h-0.8zM409.7 238.2h0.8v0.8h-0.8zM404.1 241.1h0.8v0.8h-0.8zM409.0 241.5h0.8v0.8h-0.8zM407.2 238.7h0.8v0.8h-0.8zM410.4 240.5h0.8v0.8h-0.8zM406.8 242.4h0.8v0.8h-0.8zM405.1 245.0h0.8v0.8h-0.8z"/>
<path fill="#000" fill-opacity="0.2" d="M410.3 240.6h0.8v0.8h-0.8zM406.3 242.2h0.8v0.8h-0.8zM401.3 239.8h0.8v0.8h-0.8zM409.4 239.7h0.8v0.8h-0.8zM406.6 239.5h0.8v0.8h-0.8zM406.5 248.0h0.8v0.8h-0.8zM406.0 237.3h0.8v0.8h-0.8zM405.2 248.4h0.8v0.8h-0.8zM409.3 242.5h0.8v0.8h-0.8zM406.1 248.2h0.8v0.8h-0.8zM407.2 235.3h0.8v0.8h-0.8zM403.9 242.3h0.8v0.8h-0.8zM406.9 244.5h0.8v0.8h-0.8zM405.8 241.9h0.8v0.8h-0.8zM406.1 250.0h0.8v0.8h-0.8zM405.0 244.4h0.8v0.8h-0.8zM407.6 237.0h0.8v0.8h-0.8z"/>
<path fill="#000" fill-opacity="0.2" d="M407.8 240.8h0.8v0.8h-0.8zM405.0 237.8h0.8v0.8h-0.8zM406.0 242.1h0.8v0.8h-0.8zM405.3 246.6h0.8v0.8h-0.8zM408.6 245.4h0.8v0.8h-0.8zM406.6 243.4h0.8v0.8h-0.8zM403.3 242.6h0.8v0.8h-0.8zM404.3 240.3h0.8v0.8h-0.8zM415.0 244.8h0.8v0.8h-0.8zM405.0 238.1h0.8v0.8h-0.8zM406.9 245.6h0.8v0.8h-0.8zM407.7 241.1h0.8v0.8h-0.8zM405.9 239.2h0.8v0.8h-0.8zM406.4 243.1h0.8v0.8h-0.8zM411.6 244.2h0.8v0.8h-0.8zM404.6 239.3h0.8v0.8h-0.8zM406.4 240.9h0.8v0.8h-0.8z"/>
<path fill="#000" fill-opacity="0.45" d="M413.5 255.5h0.8v0.8h-0.8zM415.2 254.2h0.8v0.8h-0.8zM411.2 250.6h0.8v0.8h-0.8zM413.1 255.9h0.8v0.8h-0.8zM413.7 251.1h0.8v0.8h-0.8zM411.8 256.4h0.8v0.8h-0.8zM414.5 263.9h0.8v0.8h-0.8zM411.3 258.1h0.8v0.8h-0.8zM411.4 254.6h0.8v0.8h-0.8zM411.5 257.8h0.8v0.8h-0.8zM410.9 257.7h0.8v0.8h-0.8zM413.0 258.9h0.8v0.8h-0.8zM413.9 262.0h0.8v0.8h-0.8zM411.8 251.5h0.8v0.8h-0.8zM413.0 246.1h0.8v0.8h-0.8zM412.0 250.5h0.8v0.8h-0.8zM415.2 265.9h0.8v0.8h-0.8zM411.5 254.8h0.8v0.8h-0.8zM412.2 265.3h0.8v0.8h-0.8zM410.0 254.7h0.8v0.8h-0.8zM413.2 256.4h0.8v0.8h-0.8zM411.2 254.2h0.8v0.8h-0.8zM413.9 266.7h0.8v0.8h-0.8zM412.5 253.0h0.8v0.8h-0.8zM414.7 255.6h0.8v0.8h-0.8zM413.4 251.1h0.8v0.8h-0.8zM413.6 262.8h0.8v0.8h-0.8zM414.7 250.2h0.8v0.8h-0.8zM411.2 263.9h0.8v0.8h-0.8zM411.6 250.9h0.8v0.8h-0.8zM415.1 261.4h0.8v0.8h-0.8zM409.4 252.0h0.8v0.8h-0.8zM411.5 245.3h0.8v0.8h-0.8zM414.6 249.1h0.8v0.8h-0.8zM411.7 261.2h0.8v0.8h-0.8zM412.9 261.7h0.8v0.8h-0.8zM412.2 262.1h0.8v0.8h-0.8zM412.2 255.8h0.8v0.8h-0.8zM412.8 262.7h0.8v0.8h-0.8zM412.5 249.1h0.8v0.8h-0.8zM413.9 258.0h0.8v0.8h-0.8zM412.3 262.8h0.8v0.8h-0.8zM413.2 259.7h0.8v0.8h-0.8zM412.7 257.3h0.8v0.8h-0.8zM414.0 258.9h0.8v0.8h-0.8zM415.2 250.7h0.8v0.8h-0.8zM411.7 253.1h0.8v0.8h-0.8zM411.9 253.3h0.8v0.8h-0.8zM412.6 255.1h0.8v0.8h-0.8zM412.6 254.1h0.8v0.8h-0.8zM413.7 253.1h0.8v0.8h-0.8zM412.1 254.2h0.8v0.8h-0.8zM414.9 260.1h0.8v0.8h-0.8zM413.1 252.8h0.8v0.8h-0.8zM414.4 254.3h0.8v0.8h-0.8zM412.4 265.6h0.8v0.8h-0.8zM414.1 256.2h0.8v0.8h-0.8zM415.1 257.8h0.8v0.8h-0.8zM414.3 254.1h0.8v0.8h-0.8zM412.6 268.6h0.8v0.8h-0.8zM413.8 248.4h0.8v0.8h-0.8zM411.9 255.0h0.8v0.8h-0.8zM413.2 254.3h0.8v0.8h-0.8zM409.7 264.9h0.8v0.8h-0.8zM414.2 250.9h0.8v0.8h-0.8zM410.6 250.9h0.8v0.8h-0.8zM411.4 259.3h0.8v0.8h-0.8zM414.7 262.3h0.8v0.8h-0.8zM413.8 255.8h0.8v0.8h-0.8zM412.3 253.4h0.8v0.8h-0.8zM412.9 255.0h0.8v0.8h-0.8zM415.9 259.6h0.8v0.8h-0.8zM413.9 261.9h0.8v0.8h-0.8zM411.9 249.5h0.8v0.8h-0.8zM412.7 249.8h0.8v0.8h-0.8zM412.4 252.6h0.8v0.8h-0.8zM413.8 251.9h0.8v0.8h-0.8zM411.4 256.2h0.8v0.8h-0.8zM410.2 246.8h0.8v0.8h-0.8zM411.5 258.4h0.8v0.8h-0.8zM412.5 256.4h0.8v0.8h-0.8zM411.7 258.0h0.8v0.8h-0.8zM412.3 259.8h0.8v0.8h-0.8zM412.3 261.1h0.8v0.8h-0.8zM413.5 248.3h0.8v0.8h-0.8zM414.0 266.0h0.8v0.8h-0.8zM412.8 253.9h0.8v0.8h-0.8zM412.3 250.1h0.8v0.8h-0.8zM413.9 262.6h0.8v0.8h-0.8zM412.7 257.4h0.8v0.8h-0.8zM410.6 255.1h0.8v0.8h-0.8zM411.2 254.5h0.8v0.8h-0.8zM410.0 258.6h0.8v0.8h-0.8zM414.5 254.3h0.8v0.8h-0.8zM411.4 248.8h0.8v0.8h-0.8zM412.8 258.0h0.8v0.8h-0.8zM410.7 247.5h0.8v0.8h-0.8zM410.8 259.6h0.8v0.8h-0.8zM413.8 254.3h0.8v0.8h-0.8zM409.4 251.6h0.8v0.8h-0.8zM412.8 253.7h0.8v0.8h-0.8zM412.1 257.2h0.8v0.8h-0.8zM409.2 252.0h0.8v0.8h-0.8zM411.7 253.7h0.8v0.8h-0.8zM414.0 255.6h0.8v0.8h-0.8zM413.2 262.6h0.8v0.8h-0.8zM413.0 254.5h0.8v0.8h-0.8zM412.8 255.0h0.8v0.8h-0.8zM410.9 251.3h0.8v0.8h-0.8zM411.9 251.2h0.8v0.8h-0.8zM413.7 253.2h0.8v0.8h-0.8zM412.7 262.4h0.8v0.8h-0.8zM408.8 252.3h0.8v0.8h-0.8z"/>
<path fill="#000" fill-opacity="0.45" d="M412.3 254.7h0.8v0.8h-0.8zM413.5 244.3h0.8v0.8h-0.8zM413.2 260.1h0.8v0.8h-0.8zM413.8 257.7h0.8v0.8h-0.8zM411.6 252.1h0.8v0.8h-0.8zM413.6 260.7h0.8v0.8h-0.8zM414.5 258.0h0.8v0.8h-0.8zM411.2 259.5h0.8v0.8h-0.8zM412.5 254.6h0.8v0.8h-0.8zM411.5 255.2h0.8v0.8h-0.8zM412.2 248.9h0.8v0.8h-0.8zM411.9 252.1h0.8v0.8h-0.8zM411.7 254.2h0.8v0.8h-0.8zM413.7 258.6h0.8v0.8h-0.8zM411.7 259.5h0.8v0.8h-0.8zM416.1 252.5h0.8v0.8h-0.8zM414.0 251.1h0.8v0.8h-0.8zM414.6 263.0h0.8v0.8h-0.8zM413.1 263.0h0.8v0.8h-0.8zM412.9 259.1h0.8v0.8h-0.8zM412.2 250.3h0.8v0.8h-0.8zM412.2 255.9h0.8v0.8h-0.8zM413.3 251.9h0.8v0.8h-0.8zM412.4 255.6h0.8v0.8h-0.8zM412.4 255.9h0.8v0.8h-0.8zM412.9 261.0h0.8v0.8h-0.8zM411.0 250.7h0.8v0.8h-0.8zM412.8 249.3h0.8v0.8h-0.8zM411.4 247.4h0.8v0.8h-0.8zM412.8 255.1h0.8v0.8h-0.8zM412.7 258.6h0.8v0.8h-0.8zM410.9 255.7h0.8v0.8h-0.8zM412.7 249.8h0.8v0.8h-0.8zM413.5 263.6h0.8v0.8h-0.8zM412.4 250.6h0.8v0.8h-0.8zM412.2 251.4h0.8v0.8h-0.8zM413.5 255.1h0.8v0.8h-0.8zM412.4 261.9h0.8v0.8h-0.8zM413.9 259.9h0.8v0.8h-0.8zM414.2 252.3h0.8v0.8h-0.8zM412.3 261.5h0.8v0.8h-0.8zM411.5 260.0h0.8v0.8h-0.8zM415.0 244.2h0.8v0.8h-0.8zM412.7 253.0h0.8v0.8h-0.8zM411.3 262.7h0.8v0.8h-0.8zM411.0 253.6h0.8v0.8h-0.8zM412.8 249.5h0.8v0.8h-0.8zM412.1 251.2h0.8v0.8h-0.8zM411.4 251.4h0.8v0.8h-0.8zM411.5 255.8h0.8v0.8h-0.8zM414.3 250.4h0.8v0.8h-0.8zM411.0 255.3h0.8v0.8h-0.8zM413.5 253.2h0.8v0.8h-0.8zM413.3 248.8h0.8v0.8h-0.8zM412.4 248.6h0.8v0.8h-0.8zM413.8 249.6h0.8v0.8h-0.8zM413.5 255.4h0.8v0.8h-0.8zM413.4 246.4h0.8v0.8h-0.8zM412.3 253.8h0.8v0.8h-0.8zM412.2 253.1h0.8v0.8h-0.8zM410.7 252.3h0.8v0.8h-0.8zM412.7 261.7h0.8v0.8h-0.8zM412.6 247.1h0.8v0.8h-0.8zM412.4 268.4h0.8v0.8h-0.8zM414.4 269.9h0.8v0.8h-0.8zM412.9 248.6h0.8v0.8h-0.8zM410.8 254.4h0.8v0.8h-0.8zM413.2 254.7h0.8v0.8h-0.8zM413.6 257.5h0.8v0.8h-0.8zM413.5 259.1h0.8v0.8h-0.8zM413.5 246.9h0.8v0.8h-0.8zM413.2 266.9h0.8v0.8h-0.8zM412.1 252.8h0.8v0.8h-0.8zM415.3 259.9h0.8v0.8h-0.8zM412.3 261.9h0.8v0.8h-0.8zM410.7 255.7h0.8v0.8h-0.8zM413.0 248.6h0.8v0.8h-0.8zM414.9 255.9h0.8v0.8h-0.8zM410.6 263.2h0.8v0.8h-0.8zM410.4 257.8h0.8v0.8h-0.8zM413.0 260.3h0.8v0.8h-0.8zM412.1 251.9h0.8v0.8h-0.8zM412.3 253.3h0.8v0.8h-0.8zM413.4 255.7h0.8v0.8h-0.8zM413.0 259.4h0.8v0.8h-0.8zM412.9 252.0h0.8v0.8h-0.8zM413.0 249.9h0.8v0.8h-0.8zM412.7 252.7h0.8v0.8h-0.8zM414.1 257.4h0.8v0.8h-0.8zM411.2 250.1h0.8v0.8h-0.8zM414.4 252.7h0.8v0.8h-0.8zM411.9 260.3h0.8v0.8h-0.8zM413.8 260.3h0.8v0.8h-0.8zM411.9 252.2h0.8v0.8h-0.8zM410.5 252.5h0.8v0.8h-0.8zM412.0 248.3h0.8v0.8h-0.8zM414.6 260.6h0.8v0.8h-0.8zM413.0 254.5h0.8v0.8h-0.8zM412.8 258.7h0.8v0.8h-0.8zM410.8 259.2h0.8v0.8h-0.8zM412.1 261.8h0.8v0.8h-0.8zM411.3 256.6h0.8v0.8h-0.8zM412.7 253.6h0.8v0.8h-0.8zM411.0 258.4h0.8v0.8h-0.8zM410.3 255.7h0.8v0.8h-0.8zM413.5 256.3h0.8v0.8h-0.8zM415.9 252.3h0.8v0.8h-0.8zM413.0 248.9h0.8v0.8h-0.8zM413.4 261.8h0.8v0.8h-0.8zM411.2 258.8h0.8v0.8h-0.8zM413.9 251.5h0.8v0.8h-0.8zM411.6 264.7h0.8v0.8h-0.8zM413.9 255.8h0.8v0.8h-0.8z"/>
<path fill="#000" fill-opacity="0.45" d="M410.5 252.9h0.8v0.8h-0.8zM412.2 249.8h0.8v0.8h-0.8zM411.3 264.8h0.8v0.8h-0.8zM415.6 261.7h0.8v0.8h-0.8zM409.2 259.1h0.8v0.8h-0.8zM413.0 250.9h0.8v0.8h-0.8zM413.3 259.1h0.8v0.8h-0.8zM411.9 268.1h0.8v0.8h-0.8zM412.0 251.7h0.8v0.8h-0.8zM411.9 251.5h0.8v0.8h-0.8zM412.1 256.9h0.8v0.8h-0.8zM413.5 254.0h0.8v0.8h-0.8zM413.4 249.0h0.8v0.8h-0.8zM413.9 254.4h0.8v0.8h-0.8zM411.5 255.7h0.8v0.8h-0.8zM415.0 247.5h0.8v0.8h-0.8zM411.5 252.3h0.8v0.8h-0.8zM410.0 251.4h0.8v0.8h-0.8zM411.4 254.5h0.8v0.8h-0.8zM411.7 264.5h0.8v0.8h-0.8zM413.8 259.7h0.8v0.8h-0.8zM414.0 251.6h0.8v0.8h-0.8zM411.2 252.2h0.8v0.8h-0.8zM413.4 256.4h0.8v0.8h-0.8zM414.2 254.5h0.8v0.8h-0.8zM414.2 259.0h0.8v0.8h-0.8zM413.7 254.7h0.8v0.8h-0.8zM412.4 266.9h0.8v0.8h-0.8zM413.1 250.8h0.8v0.8h-0.8zM414.2 256.5h0.8v0.8h-0.8zM412.6 248.5h0.8v0.8h-0.8zM411.2 257.2h0.8v0.8h-0.8zM412.2 257.8h0.8v0.8h-0.8zM413.2 250.6h0.8v0.8h-0.8zM411.7 265.5h0.8v0.8h-0.8zM411.7 251.0h0.8v0.8h-0.8zM413.5 257.3h0.8v0.8h-0.8zM413.1 259.8h0.8v0.8h-0.8zM412.2 254.3h0.8v0.8h-0.8zM413.0 258.9h0.8v0.8h-0.8zM413.8 251.4h0.8v0.8h-0.8zM410.6 254.6h0.8v0.8h-0.8zM410.3 265.2h0.8v0.8h-0.8zM412.6 255.4h0.8v0.8h-0.8zM409.0 256.6h0.8v0.8h-0.8zM413.2 259.9h0.8v0.8h-0.8zM412.9 254.1h0.8v0.8h-0.8zM412.3 249.5h0.8v0.8h-0.8zM412.3 251.6h0.8v0.8h-0.8zM411.7 253.9h0.8v0.8h-0.8zM412.4 262.3h0.8v0.8h-0.8zM412.0 252.4h0.8v0.8h-0.8zM411.9 246.4h0.8v0.8h-0.8zM409.7 258.3h0.8v0.8h-0.8zM411.3 259.4h0.8v0.8h-0.8zM412.0 250.5h0.8v0.8h-0.8zM412.0 256.4h0.8v0.8h-0.8zM412.5 267.6h0.8v0.8h-0.8zM413.7 256.1h0.8v0.8h-0.8zM412.3 251.8h0.8v0.8h-0.8zM412.2 258.2h0.8v0.8h-0.8zM413.0 256.1h0.8v0.8h-0.8zM411.9 261.7h0.8v0.8h-0.8zM412.1 260.9h0.8v0.8h-0.8zM412.3 250.1h0.8v0.8h-0.8zM414.1 258.2h0.8v0.8h-0.8zM413.5 253.4h0.8v0.8h-0.8zM410.7 264.3h0.8v0.8h-0.8zM412.4 256.0h0.8v0.8h-0.8zM413.2 257.4h0.8v0.8h-0.8zM411.9 252.6h0.8v0.8h-0.8zM412.6 254.5h0.8v0.8h-0.8zM411.6 256.5h0.8v0.8h-0.8zM412.9 250.1h0.8v0.8h-0.8zM412.6 256.5h0.8v0.8h-0.8zM411.2 253.3h0.8v0.8h-0.8zM413.4 258.6h0.8v0.8h-0.8zM411.1 261.6h0.8v0.8h-0.8zM413.0 251.9h0.8v0.8h-0.8zM415.1 249.1h0.8v0.8h-0.8zM413.3 261.1h0.8v0.8h-0.8zM415.2 257.4h0.8v0.8h-0.8zM414.6 254.5h0.8v0.8h-0.8zM412.1 254.9h0.8v0.8h-0.8zM414.3 257.5h0.8v0.8h-0.8zM413.4 255.5h0.8v0.8h-0.8zM413.0 251.7h0.8v0.8h-0.8zM412.4 259.4h0.8v0.8h-0.8zM412.5 264.5h0.8v0.8h-0.8zM415.3 256.6h0.8v0.8h-0.8zM410.2 255.2h0.8v0.8h-0.8zM412.8 260.3h0.8v0.8h-0.8zM412.5 247.3h0.8v0.8h-0.8zM414.0 260.2h0.8v0.8h-0.8zM415.7 268.5h0.8v0.8h-0.8zM412.1 252.7h0.8v0.8h-0.8zM414.6 256.6h0.8v0.8h-0.8zM410.1 255.5h0.8v0.8h-0.8zM412.9 261.1h0.8v0.8h-0.8zM414.1 256.0h0.8v0.8h-0.8zM412.3 255.8h0.8v0.8h-0.8zM413.0 256.0h0.8v0.8h-0.8zM411.3 254.8h0.8v0.8h-0.8zM411.3 260.5h0.8v0.8h-0.8zM413.5 248.5h0.8v0.8h-0.8zM413.2 260.2h0.8v0.8h-0.8zM410.6 249.7h0.8v0.8h-0.8zM412.7 253.2h0.8v0.8h-0.8zM413.6 255.3h0.8v0.8h-0.8zM413.0 257.4h0.8v0.8h-0.8zM415.0 249.6h0.8v0.8h-0.8zM414.5 257.9h0.8v0.8h-0.8z"/>
<path fill="#000" fill-opacity="0.45" d="M413.9 263.1h0.8v0.8h-0.8zM413.7 247.9h0.8v0.8h-0.8zM412.8 251.9h0.8v0.8h-0.8zM411.7 259.8h0.8v0.8h-0.8zM412.3 262.0h0.8v0.8h-0.8zM415.7 260.2h0.8v0.8h-0.8zM410.5 260.0h0.8v0.8h-0.8zM412.9 258.5h0.8v0.8h-0.8zM413.7 254.1h0.8v0.8h-0.8zM412.3 252.0h0.8v0.8h-0.8zM413.2 257.8h0.8v0.8h-0.8zM412.6 259.2h0.8v0.8h-0.8zM410.9 259.0h0.8v0.8h-0.8zM412.2 254.4h0.8v0.8h-0.8zM412.8 258.5h0.8v0.8h-0.8zM412.8 255.1h0.8v0.8h-0.8zM411.9 257.3h0.8v0.8h-0.8zM412.1 262.3h0.8v0.8h-0.8zM414.0 258.8h0.8v0.8h-0.8zM412.8 263.0h0.8v0.8h-0.8zM413.9 254.2h0.8v0.8h-0.8zM411.9 259.4h0.8v0.8h-0.8zM412.7 257.2h0.8v0.8h-0.8zM411.5 250.3h0.8v0.8h-0.8zM412.9 254.9h0.8v0.8h-0.8zM413.0 263.6h0.8v0.8h-0.8zM412.0 251.4h0.8v0.8h-0.8zM416.0 253.6h0.8v0.8h-0.8zM410.6 261.5h0.8v0.8h-0.8zM414.8 261.5h0.8v0.8h-0.8zM411.0 259.6h0.8v0.8h-0.8zM412.3 253.7h0.8v0.8h-0.8zM414.1 259.4h0.8v0.8h-0.8zM413.2 253.5h0.8v0.8h-0.8zM411.5 259.3h0.8v0.8h-0.8zM416.2 257.0h0.8v0.8h-0.8zM414.2 264.0h0.8v0.8h-0.8zM413.9 252.9h0.8v0.8h-0.8zM411.5 254.7h0.8v0.8h-0.8zM411.9 247.3h0.8v0.8h-0.8zM412.5 247.5h0.8v0.8h-0.8zM413.9 264.3h0.8v0.8h-0.8zM416.0 258.9h0.8v0.8h-0.8zM413.5 259.3h0.8v0.8h-0.8zM413.1 253.5h0.8v0.8h-0.8zM412.8 259.2h0.8v0.8h-0.8zM413.6 251.1h0.8v0.8h-0.8zM413.4 259.3h0.8v0.8h-0.8zM411.0 256.8h0.8v0.8h-0.8zM412.9 259.5h0.8v0.8h-0.8zM415.8 256.6h0.8v0.8h-0.8zM414.2 252.3h0.8v0.8h-0.8zM413.0 254.7h0.8v0.8h-0.8zM414.1 240.8h0.8v0.8h-0.8zM411.6 255.8h0.8v0.8h-0.8zM410.7 252.7h0.8v0.8h-0.8zM412.5 265.3h0.8v0.8h-0.8zM411.5 259.9h0.8v0.8h-0.8zM414.7 261.7h0.8v0.8h-0.8zM412.1 255.7h0.8v0.8h-0.8zM411.6 263.3h0.8v0.8h-0.8zM411.9 256.8h0.8v0.8h-0.8zM414.5 255.7h0.8v0.8h-0.8zM411.8 262.7h0.8v0.8h-0.8zM413.0 254.1h0.8v0.8h-0.8zM412.4 262.8h0.8v0.8h-0.8zM412.5 259.2h0.8v0.8h-0.8zM415.1 245.6h0.8v0.8h-0.8zM412.6 261.7h0.8v0.8h-0.8zM414.6 261.4h0.8v0.8h-0.8zM412.8 254.1h0.8v0.8h-0.8zM414.3 260.0h0.8v0.8h-0.8zM414.0 250.9h0.8v0.8h-0.8zM411.2 252.9h0.8v0.8h-0.8zM409.8 254.7h0.8v0.8h-0.8zM410.5 255.5h0.8v0.8h-0.8zM412.1 260.3h0.8v0.8h-0.8zM413.3 254.7h0.8v0.8h-0.8zM414.2 263.1h0.8v0.8h-0.8zM412.7 252.9h0.8v0.8h-0.8zM414.0 261.4h0.8v0.8h-0.8zM412.7 245.7h0.8v0.8h-0.8zM412.2 255.5h0.8v0.8h-0.8zM414.9 254.5h0.8v0.8h-0.8zM413.4 257.6h0.8v0.8h-0.8zM413.5 259.8h0.8v0.8h-0.8zM413.2 256.6h0.8v0.8h-0.8zM413.9 249.7h0.8v0.8h-0.8zM412.2 248.6h0.8v0.8h-0.8zM413.7 253.2h0.8v0.8h-0.8zM412.2 256.1h0.8v0.8h-0.8zM412.5 245.6h0.8v0.8h-0.8zM412.0 258.0h0.8v0.8h-0.8zM410.2 261.9h0.8v0.8h-0.8zM410.9 252.7h0.8v0.8h-0.8zM410.2 256.7h0.8v0.8h-0.8zM412.1 255.6h0.8v0.8h-0.8zM414.8 263.1h0.8v0.8h-0.8zM411.7 244.7h0.8v0.8h-0.8zM413.3 256.4h0.8v0.8h-0.8zM414.2 260.8h0.8v0.8h-0.8zM412.8 257.8h0.8v0.8h-0.8zM414.8 254.9h0.8v0.8h-0.8zM413.8 258.8h0.8v0.8h-0.8zM411.0 261.4h0.8v0.8h-0.8zM412.6 255.0h0.8v0.8h-0.8zM414.0 254.0h0.8v0.8h-0.8zM414.1 259.0h0.8v0.8h-0.8zM414.1 244.5h0.8v0.8h-0.8zM412.4 259.0h0.8v0.8h-0.8zM412.2 250.7h0.8v0.8h-0.8zM411.8 260.4h0.8v0.8h-0.8z"/>
<path fill="#000" fill-opacity="0.35" d="M415.5 266.5h0.8v0.8h-0.8zM414.0 269.5h0.8v0.8h-0.8zM413.7 259.4h0.8v0.8h-0.8zM410.5 257.2h0.8v0.8h-0.8zM411.5 263.0h0.8v0.8h-0.8zM410.9 272.2h0.8v0.8h-0.8zM415.3 264.3h0.8v0.8h-0.8zM412.7 260.5h0.8v0.8h-0.8zM410.9 257.3h0.8v0.8h-0.8zM415.1 271.5h0.8v0.8h-0.8zM412.2 259.3h0.8v0.8h-0.8zM415.9 260.7h0.8v0.8h-0.8zM412.6 262.7h0.8v0.8h-0.8zM412.4 272.1h0.8v0.8h-0.8zM412.8 258.9h0.8v0.8h-0.8zM414.1 270.4h0.8v0.8h-0.8zM413.6 261.8h0.8v0.8h-0.8zM411.1 264.8h0.8v0.8h-0.8zM412.4 269.3h0.8v0.8h-0.8zM412.6 259.5h0.8v0.8h-0.8zM411.3 258.1h0.8v0.8h-0.8zM413.1 257.3h0.8v0.8h-0.8zM415.6 272.9h0.8v0.8h-0.8zM410.4 269.3h0.8v0.8h-0.8zM413.3 270.6h0.8v0.8h-0.8zM410.5 263.2h0.8v0.8h-0.8zM411.3 265.7h0.8v0.8h-0.8zM414.4 266.1h0.8v0.8h-0.8zM415.5 267.6h0.8v0.8h-0.8zM413.1 261.9h0.8v0.8h-0.8zM414.0 265.7h0.8v0.8h-0.8zM412.3 271.8h0.8v0.8h-0.8zM411.8 258.0h0.8v0.8h-0.8zM410.2 274.7h0.8v0.8h-0.8zM411.2 258.3h0.8v0.8h-0.8zM411.0 274.4h0.8v0.8h-0.8zM414.4 259.5h0.8v0.8h-0.8zM412.2 270.3h0.8v0.8h-0.8zM411.5 262.9h0.8v0.8h-0.8zM411.1 262.6h0.8v0.8h-0.8zM410.3 274.5h0.8v0.8h-0.8zM411.1 257.1h0.8v0.8h-0.8zM412.6 263.5h0.8v0.8h-0.8zM413.5 265.6h0.8v0.8h-0.8zM412.2 263.0h0.8v0.8h-0.8zM414.5 263.9h0.8v0.8h-0.8zM412.8 273.0h0.8v0.8h-0.8zM411.8 272.4h0.8v0.8h-0.8zM411.4 265.2h0.8v0.8h-0.8zM412.6 267.8h0.8v0.8h-0.8zM412.7 268.6h0.8v0.8h-0.8zM410.9 273.0h0.8v0.8h-0.8zM411.5 263.6h0.8v0.8h-0.8zM412.8 268.6h0.8v0.8h-0.8zM412.6 272.3h0.8v0.8h-0.8zM411.3 260.3h0.8v0.8h-0.8zM412.3 263.8h0.8v0.8h-0.8zM409.7 257.2h0.8v0.8h-0.8zM412.3 268.2h0.8v0.8h-0.8zM412.0 257.7h0.8v0.8h-0.8zM412.1 268.5h0.8v0.8h-0.8zM412.3 257.9h0.8v0.8h-0.8zM412.0 258.6h0.8v0.8h-0.8z"/>
<path fill="#000" fill-opacity="0.35" d="M411.5 267.1h0.8v0.8h-0.8zM411.5 266.9h0.8v0.8h-0.8zM412.2 264.8h0.8v0.8h-0.8zM410.2 269.9h0.8v0.8h-0.8zM413.7 274.9h0.8v0.8h-0.8zM412.5 259.1h0.8v0.8h-0.8zM411.6 265.9h0.8v0.8h-0.8zM412.1 265.6h0.8v0.8h-0.8zM415.0 261.3h0.8v0.8h-0.8zM410.1 257.9h0.8v0.8h-0.8zM410.7 262.1h0.8v0.8h-0.8zM411.5 261.6h0.8v0.8h-0.8zM410.8 269.0h0.8v0.8h-0.8zM411.0 269.1h0.8v0.8h-0.8zM411.3 273.6h0.8v0.8h-0.8zM411.8 267.7h0.8v0.8h-0.8zM413.6 261.7h0.8v0.8h-0.8zM413.0 263.4h0.8v0.8h-0.8zM412.6 271.0h0.8v0.8h-0.8zM409.9 273.4h0.8v0.8h-0.8zM412.2 268.4h0.8v0.8h-0.8zM412.5 267.0h0.8v0.8h-0.8zM413.2 258.2h0.8v0.8h-0.8zM410.0 273.5h0.8v0.8h-0.8zM409.1 264.0h0.8v0.8h-0.8zM411.5 267.9h0.8v0.8h-0.8zM413.6 272.1h0.8v0.8h-0.8zM415.4 270.1h0.8v0.8h-0.8zM414.4 265.3h0.8v0.8h-0.8zM413.7 267.2h0.8v0.8h-0.8zM413.4 270.7h0.8v0.8h-0.8zM412.3 265.0h0.8v0.8h-0.8zM410.7 261.9h0.8v0.8h-0.8zM414.7 259.3h0.8v0.8h-0.8zM410.0 257.5h0.8v0.8h-0.8zM414.0 274.6h0.8v0.8h-0.8zM410.6 260.0h0.8v0.8h-0.8zM412.2 271.3h0.8v0.8h-0.8zM411.5 271.6h0.8v0.8h-0.8zM413.0 270.0h0.8v0.8h-0.8zM413.5 270.6h0.8v0.8h-0.8zM412.1 266.5h0.8v0.8h-0.8zM412.3 271.1h0.8v0.8h-0.8zM410.5 267.1h0.8v0.8h-0.8zM410.3 271.0h0.8v0.8h-0.8zM411.6 263.3h0.8v0.8h-0.8zM412.2 267.3h0.8v0.8h-0.8zM412.7 272.8h0.8v0.8h-0.8zM413.5 274.6h0.8v0.8h-0.8zM411.1 267.1h0.8v0.8h-0.8zM410.9 274.9h0.8v0.8h-0.8zM410.5 263.9h0.8v0.8h-0.8zM413.4 263.2h0.8v0.8h-0.8zM410.8 262.4h0.8v0.8h-0.8zM413.4 268.6h0.8v0.8h-0.8zM413.7 266.8h0.8v0.8h-0.8zM410.2 257.6h0.8v0.8h-0.8zM411.5 274.4h0.8v0.8h-0.8zM412.3 264.4h0.8v0.8h-0.8zM413.3 258.9h0.8v0.8h-0.8zM413.6 263.4h0.8v0.8h-0.8zM411.7 269.0h0.8v0.8h-0.8zM412.6 263.3h0.8v0.8h-0.8z"/>
<path fill="#000" fill-opacity="0.35" d="M413.1 265.7h0.8v0.8h-0.8zM413.4 258.1h0.8v0.8h-0.8zM414.1 261.1h0.8v0.8h-0.8zM411.1 264.6h0.8v0.8h-0.8zM411.1 271.6h0.8v0.8h-0.8zM412.4 265.8h0.8v0.8h-0.8zM414.1 266.3h0.8v0.8h-0.8zM413.1 261.8h0.8v0.8h-0.8zM411.5 258.8h0.8v0.8h-0.8zM411.5 259.2h0.8v0.8h-0.8zM415.1 270.6h0.8v0.8h-0.8zM413.1 267.7h0.8v0.8h-0.8zM412.8 265.8h0.8v0.8h-0.8zM414.1 267.7h0.8v0.8h-0.8zM415.1 273.8h0.8v0.8h-0.8zM412.5 270.4h0.8v0.8h-0.8zM413.7 270.5h0.8v0.8h-0.8zM412.9 262.4h0.8v0.8h-0.8zM410.4 269.9h0.8v0.8h-0.8zM411.4 263.8h0.8v0.8h-0.8zM412.0 264.1h0.8v0.8h-0.8zM411.5 266.5h0.8v0.8h-0.8zM411.5 266.7h0.8v0.8h-0.8zM414.2 262.8h0.8v0.8h-0.8zM410.2 258.0h0.8v0.8h-0.8zM412.3 269.3h0.8v0.8h-0.8zM412.3 264.1h0.8v0.8h-0.8zM412.1 263.9h0.8v0.8h-0.8zM413.4 263.1h0.8v0.8h-0.8zM411.8 270.5h0.8v0.8h-0.8zM413.5 272.3h0.8v0.8h-0.8zM410.9 263.7h0.8v0.8h-0.8zM413.4 262.3h0.8v0.8h-0.8zM412.5 265.0h0.8v0.8h-0.8zM413.3 259.4h0.8v0.8h-0.8zM410.8 259.4h0.8v0.8h-0.8zM414.0 270.7h0.8v0.8h-0.8zM412.4 270.2h0.8v0.8h-0.8zM413.6 261.0h0.8v0.8h-0.8zM413.9 272.4h0.8v0.8h-0.8zM411.7 273.5h0.8v0.8h-0.8zM412.4 274.9h0.8v0.8h-0.8zM411.5 265.8h0.8v0.8h-0.8zM412.9 265.6h0.8v0.8h-0.8zM411.0 263.8h0.8v0.8h-0.8zM410.8 257.6h0.8v0.8h-0.8zM414.5 269.9h0.8v0.8h-0.8zM412.2 266.0h0.8v0.8h-0.8zM409.9 273.4h0.8v0.8h-0.8zM412.3 269.2h0.8v0.8h-0.8zM412.4 273.1h0.8v0.8h-0.8zM413.7 270.1h0.8v0.8h-0.8zM410.3 258.1h0.8v0.8h-0.8zM412.6 263.9h0.8v0.8h-0.8zM410.6 260.3h0.8v0.8h-0.8zM411.9 270.3h0.8v0.8h-0.8zM413.3 267.4h0.8v0.8h-0.8zM411.4 273.3h0.8v0.8h-0.8zM410.2 259.4h0.8v0.8h-0.8zM412.2 273.9h0.8v0.8h-0.8zM412.0 257.8h0.8v0.8h-0.8zM415.1 269.4h0.8v0.8h-0.8z"/>
<path fill="#000" fill-opacity="0.35" d="M414.6 270.7h0.8v0.8h-0.8zM413.5 260.3h0.8v0.8h-0.8zM413.1 260.9h0.8v0.8h-0.8zM411.7 257.2h0.8v0.8h-0.8zM414.5 271.3h0.8v0.8h-0.8zM412.6 265.2h0.8v0.8h-0.8zM413.7 260.0h0.8v0.8h-0.8zM412.4 271.2h0.8v0.8h-0.8zM414.7 269.1h0.8v0.8h-0.8zM412.5 261.4h0.8v0.8h-0.8zM413.6 265.5h0.8v0.8h-0.8zM414.1 266.3h0.8v0.8h-0.8zM412.3 259.5h0.8v0.8h-0.8zM412.0 274.5h0.8v0.8h-0.8zM413.5 268.9h0.8v0.8h-0.8zM412.9 265.1h0.8v0.8h-0.8zM411.1 271.7h0.8v0.8h-0.8zM409.7 269.8h0.8v0.8h-0.8zM416.1 262.8h0.8v0.8h-0.8zM412.8 266.5h0.8v0.8h-0.8zM410.4 272.4h0.8v0.8h-0.8zM412.3 257.1h0.8v0.8h-0.8zM411.1 272.1h0.8v0.8h-0.8zM414.0 273.6h0.8v0.8h-0.8zM412.1 266.7h0.8v0.8h-0.8zM411.1 273.3h0.8v0.8h-0.8zM413.5 268.7h0.8v0.8h-0.8zM412.6 267.3h0.8v0.8h-0.8zM412.6 268.7h0.8v0.8h-0.8zM410.9 268.2h0.8v0.8h-0.8zM411.9 261.1h0.8v0.8h-0.8zM412.8 261.1h0.8v0.8h-0.8zM412.0 267.4h0.8v0.8h-0.8zM413.2 262.1h0.8v0.8h-0.8zM413.1 264.8h0.8v0.8h-0.8zM413.3 268.0h0.8v0.8h-0.8zM411.2 258.2h0.8v0.8h-0.8zM412.5 275.0h0.8v0.8h-0.8zM412.2 274.9h0.8v0.8h-0.8zM412.2 264.2h0.8v0.8h-0.8zM410.1 274.2h0.8v0.8h-0.8zM412.4 262.5h0.8v0.8h-0.8zM410.7 258.6h0.8v0.8h-0.8zM411.0 265.7h0.8v0.8h-0.8zM413.8 273.2h0.8v0.8h-0.8zM413.1 266.8h0.8v0.8h-0.8zM412.4 270.6h0.8v0.8h-0.8zM411.5 266.3h0.8v0.8h-0.8zM409.9 260.2h0.8v0.8h-0.8zM411.3 263.7h0.8v0.8h-0.8zM412.5 266.4h0.8v0.8h-0.8zM412.3 272.0h0.8v0.8h-0.8zM413.7 274.8h0.8v0.8h-0.8zM409.8 266.0h0.8v0.8h-0.8zM413.0 257.1h0.8v0.8h-0.8zM413.3 263.5h0.8v0.8h-0.8zM411.0 269.3h0.8v0.8h-0.8zM411.5 273.1h0.8v0.8h-0.8zM411.3 272.2h0.8v0.8h-0.8zM414.0 260.1h0.8v0.8h-0.8zM411.8 267.4h0.8v0.8h-0.8zM413.6 259.9h0.8v0.8h-0.8z"/>
<path fill="#000" fill-opacity="0.22" d="M414.0 268.6h0.8v0.8h-0.8zM404.1 256.8h0.8v0.8h-0.8zM407.2 258.2h0.8v0.8h-0.8zM409.2 261.6h0.8v0.8h-0.8zM408.1 272.2h0.8v0.8h-0.8zM401.4 251.4h0.8v0.8h-0.8zM413.6 262.4h0.8v0.8h-0.8zM408.2 273.4h0.8v0.8h-0.8zM409.2 251.6h0.8v0.8h-0.8zM411.0 262.9h0.8v0.8h-0.8zM408.9 263.1h0.8v0.8h-0.8zM411.5 268.2h0.8v0.8h-0.8zM411.3 254.7h0.8v0.8h-0.8zM408.5 262.7h0.8v0.8h-0.8zM410.8 253.3h0.8v0.8h-0.8zM413.0 268.7h0.8v0.8h-0.8zM414.0 260.3h0.8v0.8h-0.8zM409.5 273.2h0.8v0.8h-0.8zM411.4 256.6h0.8v0.8h-0.8zM410.0 269.5h0.8v0.8h-0.8zM401.8 273.2h0.8v0.8h-0.8zM406.9 254.0h0.8v0.8h-0.8zM399.9 268.1h0.8v0.8h-0.8zM411.2 249.6h0.8v0.8h-0.8zM404.8 252.3h0.8v0.8h-0.8zM406.4 256.3h0.8v0.8h-0.8zM408.3 273.6h0.8v0.8h-0.8zM408.1 265.7h0.8v0.8h-0.8zM405.3 274.6h0.8v0.8h-0.8zM412.5 254.1h0.8v0.8h-0.8zM404.0 269.8h0.8v0.8h-0.8zM405.5 258.5h0.8v0.8h-0.8zM408.7 273.3h0.8v0.8h-0.8zM404.8 253.8h0.8v0.8h-0.8zM409.8 261.4h0.8v0.8h-0.8zM406.4 260.7h0.8v0.8h-0.8zM408.5 257.3h0.8v0.8h-0.8zM408.1 252.5h0.8v0.8h-0.8zM412.3 263.4h0.8v0.8h-0.8zM410.0 253.7h0.8v0.8h-0.8zM409.7 267.0h0.8v0.8h-0.8zM406.8 267.6h0.8v0.8h-0.8zM408.8 255.4h0.8v0.8h-0.8zM413.1 274.3h0.8v0.8h-0.8zM410.1 272.4h0.8v0.8h-0.8zM413.0 265.1h0.8v0.8h-0.8zM408.7 253.2h0.8v0.8h-0.8zM413.2 274.1h0.8v0.8h-0.8zM407.2 271.0h0.8v0.8h-0.8zM406.6 267.6h0.8v0.8h-0.8zM411.0 270.2h0.8v0.8h-0.8zM409.5 256.5h0.8v0.8h-0.8zM408.3 258.2h0.8v0.8h-0.8zM411.8 263.8h0.8v0.8h-0.8zM409.8 272.6h0.8v0.8h-0.8zM411.1 250.6h0.8v0.8h-0.8zM406.8 263.8h0.8v0.8h-0.8zM403.5 251.8h0.8v0.8h-0.8zM408.4 267.5h0.8v0.8h-0.8zM408.3 260.5h0.8v0.8h-0.8zM410.4 274.6h0.8v0.8h-0.8zM411.5 256.0h0.8v0.8h-0.8zM408.1 274.3h0.8v0.8h-0.8zM410.2 263.9h0.8v0.8h-0.8zM409.6 250.8h0.8v0.8h-0.8zM413.5 266.8h0.8v0.8h-0.8zM406.7 259.2h0.8v0.8h-0.8zM406.0 271.5h0.8v0.8h-0.8zM411.6 273.8h0.8v0.8h-0.8zM410.9 265.1h0.8v0.8h-0.8zM409.3 257.3h0.8v0.8h-0.8zM403.0 272.6h0.8v0.8h-0.8zM411.1 261.1h0.8v0.8h-0.8zM406.3 272.3h0.8v0.8h-0.8zM408.3 251.7h0.8v0.8h-0.8zM407.0 265.8h0.8v0.8h-0.8zM408.5 249.8h0.8v0.8h-0.8zM413.2 271.1h0.8v0.8h-0.8zM406.8 261.3h0.8v0.8h-0.8zM404.5 252.4h0.8v0.8h-0.8zM408.5 264.6h0.8v0.8h-0.8zM410.4 267.7h0.8v0.8h-0.8zM405.7 267.6h0.8v0.8h-0.8zM412.0 255.3h0.8v0.8h-0.8zM409.7 264.2h0.8v0.8h-0.8zM405.6 262.2h0.8v0.8h-0.8zM405.5 272.9h0.8v0.8h-0.8zM412.4 253.0h0.8v0.8h-0.8zM411.2 256.4h0.8v0.8h-0.8zM406.6 270.4h0.8v0.8h-0.8zM408.8 274.0h0.8v0.8h-0.8zM404.8 257.2h0.8v0.8h-0.8zM406.9 270.1h0.8v0.8h-0.8zM411.7 263.0h0.8v0.8h-0.8zM404.2 263.9h0.8v0.8h-0.8zM414.5 262.6h0.8v0.8h-0.8zM415.2 262.2h0.8v0.8h-0.8zM409.4 267.7h0.8v0.8h-0.8zM406.1 273.3h0.8v0.8h-0.8zM411.2 269.1h0.8v0.8h-0.8zM415.0 262.6h0.8v0.8h-0.8zM411.1 265.5h0.8v0.8h-0.8zM411.7 265.8h0.8v0.8h-0.8zM413.2 254.6h0.8v0.8h-0.8zM408.0 274.1h0.8v0.8h-0.8zM409.9 261.7h0.8v0.8h-0.8zM404.8 255.7h0.8v0.8h-0.8zM406.9 258.6h0.8v0.8h-0.8zM411.9 255.0h0.8v0.8h-0.8zM408.5 264.8h0.8v0.8h-0.8zM409.2 260.8h0.8v0.8h-0.8zM407.3 253.2h0.8v0.8h-0.8zM409.2 263.5h0.8v0.8h-0.8zM406.0 251.4h0.8v0.8h-0.8zM410.5 260.0h0.8v0.8h-0.8zM406.9 255.7h0.8v0.8h-0.8zM411.8 256.7h0.8v0.8h-0.8zM407.8 258.1h0.8v0.8h-0.8zM405.8 250.1h0.8v0.8h-0.8zM404.3 264.8h0.8v0.8h-0.8zM410.9 260.3h0.8v0.8h-0.8zM401.3 258.7h0.8v0.8h-0.8zM414.1 254.0h0.8v0.8h-0.8zM410.3 250.5h0.8v0.8h-0.8zM409.3 263.0h0.8v0.8h-0.8z"/>
<path fill="#000" fill-opacity="0.22" d="M404.1 265.6h0.8v0.8h-0.8zM412.7 259.5h0.8v0.8h-0.8zM410.3 269.5h0.8v0.8h-0.8zM407.4 253.9h0.8v0.8h-0.8zM411.7 271.7h0.8v0.8h-0.8zM410.9 259.3h0.8v0.8h-0.8zM410.6 269.8h0.8v0.8h-0.8zM408.4 267.7h0.8v0.8h-0.8zM407.4 266.8h0.8v0.8h-0.8zM407.0 264.3h0.8v0.8h-0.8zM412.8 264.2h0.8v0.8h-0.8zM405.8 268.2h0.8v0.8h-0.8zM412.9 249.7h0.8v0.8h-0.8zM409.1 255.6h0.8v0.8h-0.8zM412.1 268.1h0.8v0.8h-0.8zM411.3 261.6h0.8v0.8h-0.8zM405.3 262.3h0.8v0.8h-0.8zM410.7 257.0h0.8v0.8h-0.8zM410.9 273.7h0.8v0.8h-0.8zM408.3 264.5h0.8v0.8h-0.8zM406.3 258.8h0.8v0.8h-0.8zM404.0 251.5h0.8v0.8h-0.8zM414.3 260.1h0.8v0.8h-0.8zM407.2 266.3h0.8v0.8h-0.8zM404.8 273.6h0.8v0.8h-0.8zM416.1 261.6h0.8v0.8h-0.8zM404.9 272.0h0.8v0.8h-0.8zM407.7 258.0h0.8v0.8h-0.8zM410.3 273.1h0.8v0.8h-0.8zM412.2 268.6h0.8v0.8h-0.8zM401.4 261.3h0.8v0.8h-0.8zM412.6 253.3h0.8v0.8h-0.8zM406.8 251.8h0.8v0.8h-0.8zM407.7 261.4h0.8v0.8h-0.8zM408.3 262.3h0.8v0.8h-0.8zM409.7 250.4h0.8v0.8h-0.8zM410.2 262.5h0.8v0.8h-0.8zM408.6 266.5h0.8v0.8h-0.8zM408.9 264.5h0.8v0.8h-0.8zM404.2 261.0h0.8v0.8h-0.8zM409.0 261.0h0.8v0.8h-0.8zM413.9 259.8h0.8v0.8h-0.8zM401.2 266.9h0.8v0.8h-0.8zM407.8 272.0h0.8v0.8h-0.8zM405.9 254.6h0.8v0.8h-0.8zM410.2 259.3h0.8v0.8h-0.8zM409.6 271.1h0.8v0.8h-0.8zM404.7 274.1h0.8v0.8h-0.8zM412.4 251.6h0.8v0.8h-0.8zM411.2 260.5h0.8v0.8h-0.8zM408.2 259.5h0.8v0.8h-0.8zM409.2 271.9h0.8v0.8h-0.8zM406.5 262.1h0.8v0.8h-0.8zM410.0 255.0h0.8v0.8h-0.8zM408.2 251.5h0.8v0.8h-0.8zM407.1 254.2h0.8v0.8h-0.8zM413.4 272.7h0.8v0.8h-0.8zM410.2 265.6h0.8v0.8h-0.8zM414.1 272.7h0.8v0.8h-0.8zM405.4 249.8h0.8v0.8h-0.8zM405.3 249.1h0.8v0.8h-0.8zM412.4 258.9h0.8v0.8h-0.8zM408.1 251.8h0.8v0.8h-0.8zM408.2 265.2h0.8v0.8h-0.8zM405.4 258.3h0.8v0.8h-0.8zM410.2 251.9h0.8v0.8h-0.8zM412.3 257.9h0.8v0.8h-0.8zM409.6 258.5h0.8v0.8h-0.8zM407.4 263.7h0.8v0.8h-0.8zM405.3 252.6h0.8v0.8h-0.8zM405.1 274.8h0.8v0.8h-0.8zM414.3 266.5h0.8v0.8h-0.8zM405.2 269.9h0.8v0.8h-0.8zM412.5 259.7h0.8v0.8h-0.8zM409.3 249.0h0.8v0.8h-0.8zM408.0 265.6h0.8v0.8h-0.8zM411.1 270.0h0.8v0.8h-0.8zM409.7 265.4h0.8v0.8h-0.8zM412.0 253.9h0.8v0.8h-0.8zM412.1 262.1h0.8v0.8h-0.8zM407.1 262.6h0.8v0.8h-0.8zM407.5 258.8h0.8v0.8h-0.8zM410.4 252.9h0.8v0.8h-0.8zM412.0 260.4h0.8v0.8h-0.8zM409.7 251.1h0.8v0.8h-0.8zM404.0 256.6h0.8v0.8h-0.8zM408.7 258.8h0.8v0.8h-0.8zM408.7 261.8h0.8v0.8h-0.8zM408.6 270.6h0.8v0.8h-0.8zM409.5 273.5h0.8v0.8h-0.8zM405.0 274.7h0.8v0.8h-0.8zM412.3 253.8h0.8v0.8h-0.8zM410.0 259.9h0.8v0.8h-0.8zM408.7 265.9h0.8v0.8h-0.8zM407.2 267.1h0.8v0.8h-0.8zM409.5 261.5h0.8v0.8h-0.8zM410.6 274.1h0.8v0.8h-0.8zM405.5 274.8h0.8v0.8h-0.8zM407.4 274.7h0.8v0.8h-0.8zM408.0 255.6h0.8v0.8h-0.8zM410.2 255.3h0.8v0.8h-0.8zM410.0 259.5h0.8v0.8h-0.8zM412.5 255.1h0.8v0.8h-0.8zM406.8 268.0h0.8v0.8h-0.8zM407.0 272.6h0.8v0.8h-0.8zM411.2 252.8h0.8v0.8h-0.8zM411.8 261.4h0.8v0.8h-0.8zM416.2 263.1h0.8v0.8h-0.8zM402.5 250.4h0.8v0.8h-0.8zM406.8 259.8h0.8v0.8h-0.8zM405.6 254.3h0.8v0.8h-0.8zM410.9 268.8h0.8v0.8h-0.8zM410.9 269.2h0.8v0.8h-0.8zM410.6 255.8h0.8v0.8h-0.8zM408.2 270.7h0.8v0.8h-0.8zM408.3 265.5h0.8v0.8h-0.8zM412.0 251.7h0.8v0.8h-0.8zM402.0 264.2h0.8v0.8h-0.8zM406.6 252.1h0.8v0.8h-0.8zM404.3 269.1h0.8v0.8h-0.8zM405.4 253.2h0.8v0.8h-0.8zM408.1 249.5h0.8v0.8h-0.8zM409.8 271.1h0.8v0.8h-0.8zM416.9 252.9h0.8v0.8h-0.8zM409.9 258.1h0.8v0.8h-0.8z"/>
<path fill="#000" fill-opacity="0.22" d="M405.7 266.1h0.8v0.8h-0.8zM405.5 258.0h0.8v0.8h-0.8zM410.4 256.4h0.8v0.8h-0.8zM406.1 254.8h0.8v0.8h-0.8zM409.8 260.9h0.8v0.8h-0.8zM411.1 256.8h0.8v0.8h-0.8zM408.1 255.8h0.8v0.8h-0.8zM406.0 251.0h0.8v0.8h-0.8zM403.4 259.7h0.8v0.8h-0.8zM403.4 267.3h0.8v0.8h-0.8zM414.8 260.6h0.8v0.8h-0.8zM403.9 250.5h0.8v0.8h-0.8zM410.3 263.0h0.8v0.8h-0.8zM409.9 252.9h0.8v0.8h-0.8zM411.0 250.9h0.8v0.8h-0.8zM410.4 267.7h0.8v0.8h-0.8zM410.8 255.6h0.8v0.8h-0.8zM403.8 267.0h0.8v0.8h-0.8zM401.5 256.0h0.8v0.8h-0.8zM407.7 260.2h0.8v0.8h-0.8zM407.1 266.0h0.8v0.8h-0.8zM412.7 251.8h0.8v0.8h-0.8zM410.4 264.8h0.8v0.8h-0.8zM407.2 269.9h0.8v0.8h-0.8zM408.3 253.4h0.8v0.8h-0.8zM401.4 256.9h0.8v0.8h-0.8zM409.0 250.1h0.8v0.8h-0.8zM404.5 270.9h0.8v0.8h-0.8zM408.0 272.4h0.8v0.8h-0.8zM408.3 272.6h0.8v0.8h-0.8zM412.4 267.1h0.8v0.8h-0.8zM407.3 261.3h0.8v0.8h-0.8zM405.9 254.2h0.8v0.8h-0.8zM411.3 255.3h0.8v0.8h-0.8zM408.8 251.8h0.8v0.8h-0.8zM414.2 268.8h0.8v0.8h-0.8zM409.1 271.0h0.8v0.8h-0.8zM413.7 250.4h0.8v0.8h-0.8zM411.1 258.6h0.8v0.8h-0.8zM410.7 258.1h0.8v0.8h-0.8zM403.0 251.5h0.8v0.8h-0.8zM412.1 267.2h0.8v0.8h-0.8zM409.9 272.5h0.8v0.8h-0.8zM409.6 260.9h0.8v0.8h-0.8zM407.2 253.4h0.8v0.8h-0.8zM410.2 266.8h0.8v0.8h-0.8zM411.8 258.8h0.8v0.8h-0.8zM401.3 268.8h0.8v0.8h-0.8zM412.7 264.4h0.8v0.8h-0.8zM407.5 251.3h0.8v0.8h-0.8zM409.1 260.1h0.8v0.8h-0.8zM409.0 259.5h0.8v0.8h-0.8zM409.3 268.4h0.8v0.8h-0.8zM405.9 258.5h0.8v0.8h-0.8zM405.2 259.6h0.8v0.8h-0.8zM412.1 268.6h0.8v0.8h-0.8zM410.6 267.0h0.8v0.8h-0.8zM406.7 256.7h0.8v0.8h-0.8zM408.0 270.0h0.8v0.8h-0.8zM409.8 261.0h0.8v0.8h-0.8zM405.8 250.4h0.8v0.8h-0.8zM406.4 253.5h0.8v0.8h-0.8zM409.4 258.5h0.8v0.8h-0.8zM408.9 260.6h0.8v0.8h-0.8zM410.4 259.2h0.8v0.8h-0.8zM403.5 255.8h0.8v0.8h-0.8zM413.4 275.0h0.8v0.8h-0.8zM408.2 263.1h0.8v0.8h-0.8zM406.8 273.2h0.8v0.8h-0.8zM411.2 265.9h0.8v0.8h-0.8zM409.7 270.8h0.8v0.8h-0.8zM405.5 250.2h0.8v0.8h-0.8zM412.2 255.5h0.8v0.8h-0.8zM409.4 270.7h0.8v0.8h-0.8zM409.8 257.4h0.8v0.8h-0.8zM410.4 256.7h0.8v0.8h-0.8zM408.2 270.2h0.8v0.8h-0.8zM406.3 270.4h0.8v0.8h-0.8zM406.2 266.0h0.8v0.8h-0.8zM407.4 257.6h0.8v0.8h-0.8zM408.7 274.3h0.8v0.8h-0.8zM407.5 259.6h0.8v0.8h-0.8zM411.3 272.1h0.8v0.8h-0.8zM410.6 268.2h0.8v0.8h-0.8zM408.1 273.2h0.8v0.8h-0.8zM413.6 266.3h0.8v0.8h-0.8zM414.0 268.8h0.8v0.8h-0.8zM405.8 269.4h0.8v0.8h-0.8zM409.5 256.1h0.8v0.8h-0.8zM410.7 249.7h0.8v0.8h-0.8zM408.0 259.4h0.8v0.8h-0.8zM402.4 265.8h0.8v0.8h-0.8zM402.8 256.7h0.8v0.8h-0.8zM406.7 260.0h0.8v0.8h-0.8zM407.6 258.5h0.8v0.8h-0.8zM408.7 252.3h0.8v0.8h-0.8zM411.1 257.9h0.8v0.8h-0.8zM409.0 268.3h0.8v0.8h-0.8zM405.3 251.7h0.8v0.8h-0.8zM408.4 264.5h0.8v0.8h-0.8zM407.6 268.3h0.8v0.8h-0.8zM409.4 258.6h0.8v0.8h-0.8zM408.1 274.3h0.8v0.8h-0.8zM406.7 267.0h0.8v0.8h-0.8zM402.3 274.8h0.8v0.8h-0.8zM409.4 249.5h0.8v0.8h-0.8zM409.1 271.5h0.8v0.8h-0.8zM411.1 271.8h0.8v0.8h-0.8zM412.2 263.2h0.8v0.8h-0.8zM412.5 253.8h0.8v0.8h-0.8zM412.2 258.6h0.8v0.8h-0.8zM407.3 271.7h0.8v0.8h-0.8zM416.1 267.3h0.8v0.8h-0.8zM410.8 272.4h0.8v0.8h-0.8zM408.1 249.5h0.8v0.8h-0.8zM411.6 271.7h0.8v0.8h-0.8zM408.0 256.1h0.8v0.8h-0.8zM409.7 264.1h0.8v0.8h-0.8zM407.4 263.2h0.8v0.8h-0.8zM413.9 273.2h0.8v0.8h-0.8zM404.0 269.7h0.8v0.8h-0.8zM405.4 269.1h0.8v0.8h-0.8zM407.4 262.5h0.8v0.8h-0.8zM405.0 264.7h0.8v0.8h-0.8zM406.4 271.9h0.8v0.8h-0.8z"/>
<path fill="#000" fill-opacity="0.22" d="M407.1 261.9h0.8v0.8h-0.8zM401.6 260.3h0.8v0.8h-0.8zM412.4 264.0h0.8v0.8h-0.8zM405.2 255.0h0.8v0.8h-0.8zM405.9 254.2h0.8v0.8h-0.8zM414.8 261.7h0.8v0.8h-0.8zM403.8 255.5h0.8v0.8h-0.8zM409.1 263.4h0.8v0.8h-0.8zM410.1 274.5h0.8v0.8h-0.8zM410.8 270.3h0.8v0.8h-0.8zM409.6 253.1h0.8v0.8h-0.8zM404.1 257.7h0.8v0.8h-0.8zM410.5 260.8h0.8v0.8h-0.8zM409.6 259.4h0.8v0.8h-0.8zM407.0 274.1h0.8v0.8h-0.8zM407.9 272.6h0.8v0.8h-0.8zM406.5 249.8h0.8v0.8h-0.8zM415.9 260.3h0.8v0.8h-0.8zM413.1 250.2h0.8v0.8h-0.8zM414.9 274.6h0.8v0.8h-0.8zM404.2 249.6h0.8v0.8h-0.8zM410.6 271.0h0.8v0.8h-0.8zM412.1 271.4h0.8v0.8h-0.8zM404.7 270.1h0.8v0.8h-0.8zM407.8 265.7h0.8v0.8h-0.8zM408.8 272.2h0.8v0.8h-0.8zM405.0 254.7h0.8v0.8h-0.8zM412.9 268.4h0.8v0.8h-0.8zM408.2 250.2h0.8v0.8h-0.8zM407.2 275.0h0.8v0.8h-0.8zM402.3 251.2h0.8v0.8h-0.8zM409.5 251.6h0.8v0.8h-0.8zM405.6 265.3h0.8v0.8h-0.8zM405.2 257.7h0.8v0.8h-0.8zM409.1 270.9h0.8v0.8h-0.8zM411.9 254.1h0.8v0.8h-0.8zM405.2 275.0h0.8v0.8h-0.8zM414.0 250.4h0.8v0.8h-0.8zM411.0 268.2h0.8v0.8h-0.8zM408.0 265.0h0.8v0.8h-0.8zM407.9 264.6h0.8v0.8h-0.8zM413.4 263.7h0.8v0.8h-0.8zM406.6 257.2h0.8v0.8h-0.8zM406.0 264.3h0.8v0.8h-0.8zM408.8 256.6h0.8v0.8h-0.8zM405.2 251.2h0.8v0.8h-0.8zM412.2 266.5h0.8v0.8h-0.8zM414.7 256.2h0.8v0.8h-0.8zM406.0 259.6h0.8v0.8h-0.8zM402.6 249.5h0.8v0.8h-0.8zM409.5 264.6h0.8v0.8h-0.8zM406.5 259.8h0.8v0.8h-0.8zM412.4 262.1h0.8v0.8h-0.8zM411.7 253.8h0.8v0.8h-0.8zM407.7 265.3h0.8v0.8h-0.8zM406.0 259.1h0.8v0.8h-0.8zM411.5 272.6h0.8v0.8h-0.8zM413.3 253.9h0.8v0.8h-0.8zM409.6 255.7h0.8v0.8h-0.8zM414.3 271.9h0.8v0.8h-0.8zM411.3 271.6h0.8v0.8h-0.8zM409.6 266.3h0.8v0.8h-0.8zM411.6 261.7h0.8v0.8h-0.8zM412.0 272.1h0.8v0.8h-0.8zM405.9 265.6h0.8v0.8h-0.8zM412.1 262.8h0.8v0.8h-0.8zM406.8 257.7h0.8v0.8h-0.8zM407.2 256.0h0.8v0.8h-0.8zM412.4 267.0h0.8v0.8h-0.8zM405.0 256.9h0.8v0.8h-0.8zM404.2 267.1h0.8v0.8h-0.8zM410.5 272.1h0.8v0.8h-0.8zM409.4 264.8h0.8v0.8h-0.8zM409.3 261.2h0.8v0.8h-0.8zM408.4 261.3h0.8v0.8h-0.8zM408.9 251.7h0.8v0.8h-0.8zM414.2 269.7h0.8v0.8h-0.8zM407.0 262.9h0.8v0.8h-0.8zM403.6 249.3h0.8v0.8h-0.8zM405.4 249.4h0.8v0.8h-0.8zM407.5 268.4h0.8v0.8h-0.8zM404.3 273.6h0.8v0.8h-0.8zM407.2 252.8h0.8v0.8h-0.8zM413.9 266.8h0.8v0.8h-0.8zM405.1 270.3h0.8v0.8h-0.8zM410.9 265.4h0.8v0.8h-0.8zM415.1 272.3h0.8v0.8h-0.8zM409.2 255.5h0.8v0.8h-0.8zM414.1 259.6h0.8v0.8h-0.8zM408.1 260.4h0.8v0.8h-0.8zM406.7 250.7h0.8v0.8h-0.8zM407.4 251.9h0.8v0.8h-0.8zM411.3 260.7h0.8v0.8h-0.8zM412.9 270.6h0.8v0.8h-0.8zM410.2 257.5h0.8v0.8h-0.8zM407.9 267.6h0.8v0.8h-0.8zM406.5 260.3h0.8v0.8h-0.8zM405.2 261.8h0.8v0.8h-0.8zM407.3 263.7h0.8v0.8h-0.8zM406.5 269.2h0.8v0.8h-0.8zM412.8 253.6h0.8v0.8h-0.8zM403.9 264.3h0.8v0.8h-0.8zM407.5 263.2h0.8v0.8h-0.8zM406.9 268.8h0.8v0.8h-0.8zM411.9 258.0h0.8v0.8h-0.8zM414.2 264.9h0.8v0.8h-0.8zM409.6 258.5h0.8v0.8h-0.8zM411.5 270.4h0.8v0.8h-0.8zM412.4 258.6h0.8v0.8h-0.8zM413.3 269.8h0.8v0.8h-0.8zM412.8 263.6h0.8v0.8h-0.8zM409.8 253.0h0.8v0.8h-0.8zM410.4 270.6h0.8v0.8h-0.8zM407.1 270.7h0.8v0.8h-0.8zM411.2 262.9h0.8v0.8h-0.8zM414.0 259.9h0.8v0.8h-0.8zM405.0 255.4h0.8v0.8h-0.8zM412.5 256.9h0.8v0.8h-0.8zM409.9 264.4h0.8v0.8h-0.8zM413.3 264.4h0.8v0.8h-0.8zM409.6 272.2h0.8v0.8h-0.8zM410.8 255.1h0.8v0.8h-0.8zM408.3 269.1h0.8v0.8h-0.8zM406.3 273.0h0.8v0.8h-0.8zM410.9 256.4h0.8v0.8h-0.8z"/>
<path fill="#000" fill-opacity="0.6" d="M413.1 275.0h.8v.8h-.8zM406.5 274.7h.8v.8h-.8zM406.1 275.3h.8v.8h-.8zM405.1 274.9h.8v.8h-.8zM413.1 275.2h.8v.8h-.8zM403.9 275.0h.8v.8h-.8zM407.4 275.0h.8v.8h-.8zM412.5 275.6h.8v.8h-.8zM402.7 274.8h.8v.8h-.8zM415.9 275.5h.8v.8h-.8zM405.6 275.2h.8v.8h-.8zM415.3 275.3h.8v.8h-.8zM417.3 275.5h.8v.8h-.8zM416.5 275.5h.8v.8h-.8zM411.6 274.6h.8v.8h-.8zM413.5 274.7h.8v.8h-.8zM407.6 274.6h.8v.8h-.8zM416.5 275.3h.8v.8h-.8zM414.3 274.7h.8v.8h-.8zM405.4 275.2h.8v.8h-.8zM414.3 275.0h.8v.8h-.8zM416.7 275.2h.8v.8h-.8zM409.2 275.4h.8v.8h-.8zM406.4 274.7h.8v.8h-.8zM406.2 274.7h.8v.8h-.8zM414.8 275.0h.8v.8h-.8zM406.8 275.6h.8v.8h-.8zM403.9 274.8h.8v.8h-.8zM417.3 274.6h.8v.8h-.8zM406.5 274.7h.8v.8h-.8zM409.0 275.2h.8v.8h-.8zM416.5 274.8h.8v.8h-.8zM412.9 275.3h.8v.8h-.8zM403.7 275.4h.8v.8h-.8zM406.2 275.4h.8v.8h-.8zM411.1 275.3h.8v.8h-.8zM405.4 274.7h.8v.8h-.8zM407.9 275.6h.8v.8h-.8zM402.2 275.0h.8v.8h-.8zM402.5 275.0h.8v.8h-.8z"/>
<line x1="381.2" y1="276.0" x2="442.2" y2="276.0" stroke="#555" stroke-width="0.9"/>
<line x1="380.2" y1="221.2" x2="381.7" y2="221.2" stroke="#666" stroke-width="0.6"/>
<line x1="380.2" y1="233.8" x2="381.7" y2="233.8" stroke="#666" stroke-width="0.6"/>
<line x1="380.2" y1="246.3" x2="381.7" y2="246.3" stroke="#666" stroke-width="0.6"/>
<line x1="380.2" y1="258.9" x2="381.7" y2="258.9" stroke="#666" stroke-width="0.6"/>
<line x1="380.2" y1="271.5" x2="381.7" y2="271.5" stroke="#666" stroke-width="0.6"/>
<line x1="389.2" y1="276.0" x2="389.2" y2="277.2" stroke="#666" stroke-width="0.6"/>
<line x1="401.1" y1="276.0" x2="401.1" y2="277.2" stroke="#666" stroke-width="0.6"/>
<line x1="412.9" y1="276.0" x2="412.9" y2="277.2" stroke="#666" stroke-width="0.6"/>
<line x1="424.8" y1="276.0" x2="424.8" y2="277.2" stroke="#666" stroke-width="0.6"/>
<line x1="436.6" y1="276.0" x2="436.6" y2="277.2" stroke="#666" stroke-width="0.6"/>
<text x="381.8" y="221.1" font-size="5.9" fill="#1a1a1a">0.22</text>
<text x="441.9" y="221.1" font-size="5.9" text-anchor="end" fill="#1a1a1a">17.4</text>
<text x="381.8" y="275.8" font-size="5.9" fill="#1a1a1a">0.77</text>
<text x="441.9" y="275.8" font-size="5.9" text-anchor="end" fill="#1a1a1a">81.6</text>
<text x="379.4" y="222.2" font-size="3.2" text-anchor="end" fill="#999">10</text>
<text x="379.4" y="238.7" font-size="3.2" text-anchor="end" fill="#999">10</text>
<text x="379.4" y="255.2" font-size="3.2" text-anchor="end" fill="#999">10</text>
<text x="379.4" y="271.7" font-size="3.2" text-anchor="end" fill="#999">10</text>
<text x="389.2" y="281.0" font-size="3.2" text-anchor="middle" fill="#999">10</text>
<text x="401.1" y="281.0" font-size="3.2" text-anchor="middle" fill="#999">10</text>
<text x="412.9" y="281.0" font-size="3.2" text-anchor="middle" fill="#999">10</text>
<text x="424.8" y="281.0" font-size="3.2" text-anchor="middle" fill="#999">10</text>
<text x="436.6" y="281.0" font-size="3.2" text-anchor="middle" fill="#999">10</text>
<path d="M457.0,273.5 L457.0,213.3 L519.5,213.3 L519.5,273.5" fill="none" stroke="#999" stroke-width="0.8"/>
<line x1="475.0" y1="213.3" x2="475.0" y2="273.5" stroke="#999" stroke-width="1.4"/>
<line x1="457.0" y1="245.8" x2="519.5" y2="245.8" stroke="#444" stroke-width="0.9"/>
<path fill="#000" fill-opacity="0.3" d="M486.6 238.9h0.8v0.8h-0.8zM488.2 235.9h0.8v0.8h-0.8zM483.9 243.4h0.8v0.8h-0.8zM483.7 241.6h0.8v0.8h-0.8zM484.4 240.3h0.8v0.8h-0.8zM485.4 238.1h0.8v0.8h-0.8zM486.7 238.1h0.8v0.8h-0.8zM484.8 234.1h0.8v0.8h-0.8zM486.8 236.9h0.8v0.8h-0.8zM484.4 240.5h0.8v0.8h-0.8zM485.3 232.1h0.8v0.8h-0.8zM485.1 234.1h0.8v0.8h-0.8zM485.0 238.5h0.8v0.8h-0.8zM486.6 241.3h0.8v0.8h-0.8zM484.7 235.6h0.8v0.8h-0.8zM484.6 237.4h0.8v0.8h-0.8zM487.5 238.1h0.8v0.8h-0.8zM485.2 238.4h0.8v0.8h-0.8zM486.6 239.6h0.8v0.8h-0.8zM482.6 240.0h0.8v0.8h-0.8zM484.9 234.8h0.8v0.8h-0.8zM486.1 242.2h0.8v0.8h-0.8zM488.0 237.9h0.8v0.8h-0.8zM486.8 239.5h0.8v0.8h-0.8zM487.5 239.5h0.8v0.8h-0.8zM485.6 241.1h0.8v0.8h-0.8zM488.3 243.4h0.8v0.8h-0.8zM487.2 234.9h0.8v0.8h-0.8z"/>
<path fill="#000" fill-opacity="0.3" d="M485.5 238.0h0.8v0.8h-0.8zM484.0 238.0h0.8v0.8h-0.8zM485.8 235.5h0.8v0.8h-0.8zM485.1 235.4h0.8v0.8h-0.8zM486.8 239.7h0.8v0.8h-0.8zM485.8 233.5h0.8v0.8h-0.8zM485.1 236.3h0.8v0.8h-0.8zM485.9 232.6h0.8v0.8h-0.8zM486.6 239.0h0.8v0.8h-0.8zM485.0 235.9h0.8v0.8h-0.8zM488.1 236.4h0.8v0.8h-0.8zM485.8 231.6h0.8v0.8h-0.8zM487.8 236.3h0.8v0.8h-0.8zM485.8 231.5h0.8v0.8h-0.8zM484.1 239.0h0.8v0.8h-0.8zM484.1 239.5h0.8v0.8h-0.8zM484.9 235.2h0.8v0.8h-0.8zM486.7 232.7h0.8v0.8h-0.8zM485.6 236.4h0.8v0.8h-0.8zM485.2 236.8h0.8v0.8h-0.8zM485.6 240.0h0.8v0.8h-0.8zM485.4 240.0h0.8v0.8h-0.8zM485.7 234.7h0.8v0.8h-0.8zM483.4 232.2h0.8v0.8h-0.8zM486.3 235.1h0.8v0.8h-0.8zM487.9 242.9h0.8v0.8h-0.8zM484.4 242.4h0.8v0.8h-0.8zM484.3 235.8h0.8v0.8h-0.8z"/>
<path fill="#000" fill-opacity="0.3" d="M485.8 243.2h0.8v0.8h-0.8zM483.5 233.5h0.8v0.8h-0.8zM486.5 242.0h0.8v0.8h-0.8zM483.0 243.2h0.8v0.8h-0.8zM484.8 240.1h0.8v0.8h-0.8zM485.1 236.0h0.8v0.8h-0.8zM483.2 237.8h0.8v0.8h-0.8zM485.2 236.5h0.8v0.8h-0.8zM483.4 239.7h0.8v0.8h-0.8zM485.4 243.3h0.8v0.8h-0.8zM483.6 240.9h0.8v0.8h-0.8zM485.1 242.2h0.8v0.8h-0.8zM485.7 234.1h0.8v0.8h-0.8zM485.0 238.8h0.8v0.8h-0.8zM482.6 237.8h0.8v0.8h-0.8zM481.8 235.2h0.8v0.8h-0.8zM485.8 236.6h0.8v0.8h-0.8zM484.3 233.8h0.8v0.8h-0.8zM483.9 232.0h0.8v0.8h-0.8zM485.3 239.3h0.8v0.8h-0.8zM485.5 242.1h0.8v0.8h-0.8zM486.1 236.2h0.8v0.8h-0.8zM486.8 242.7h0.8v0.8h-0.8zM484.7 236.5h0.8v0.8h-0.8zM482.9 233.2h0.8v0.8h-0.8zM484.2 235.4h0.8v0.8h-0.8zM483.5 242.4h0.8v0.8h-0.8z"/>
<path fill="#000" fill-opacity="0.3" d="M487.5 241.3h0.8v0.8h-0.8zM486.4 234.2h0.8v0.8h-0.8zM485.3 232.7h0.8v0.8h-0.8zM483.5 238.3h0.8v0.8h-0.8zM484.2 235.7h0.8v0.8h-0.8zM486.3 236.5h0.8v0.8h-0.8zM484.7 237.6h0.8v0.8h-0.8zM485.6 238.4h0.8v0.8h-0.8zM486.2 233.0h0.8v0.8h-0.8zM485.6 232.9h0.8v0.8h-0.8zM486.0 243.2h0.8v0.8h-0.8zM487.0 232.7h0.8v0.8h-0.8zM485.5 238.9h0.8v0.8h-0.8zM486.5 240.3h0.8v0.8h-0.8zM486.0 238.5h0.8v0.8h-0.8zM482.8 237.4h0.8v0.8h-0.8zM486.4 236.7h0.8v0.8h-0.8zM483.7 234.5h0.8v0.8h-0.8zM484.4 232.1h0.8v0.8h-0.8zM485.9 240.7h0.8v0.8h-0.8zM484.1 236.2h0.8v0.8h-0.8zM485.8 237.3h0.8v0.8h-0.8zM485.6 240.1h0.8v0.8h-0.8zM486.8 234.1h0.8v0.8h-0.8zM485.8 239.0h0.8v0.8h-0.8zM486.3 235.7h0.8v0.8h-0.8zM485.4 236.7h0.8v0.8h-0.8z"/>
<path fill="#000" fill-opacity="0.26" d="M484.9 254.7h0.8v0.8h-0.8zM481.2 265.9h0.8v0.8h-0.8zM483.1 254.3h0.8v0.8h-0.8zM486.5 269.7h0.8v0.8h-0.8zM485.7 265.3h0.8v0.8h-0.8zM485.3 259.3h0.8v0.8h-0.8zM491.5 259.8h0.8v0.8h-0.8zM485.2 257.8h0.8v0.8h-0.8zM487.3 263.7h0.8v0.8h-0.8zM482.7 255.4h0.8v0.8h-0.8zM482.9 266.3h0.8v0.8h-0.8zM489.8 259.1h0.8v0.8h-0.8zM485.3 265.2h0.8v0.8h-0.8zM483.1 271.6h0.8v0.8h-0.8zM487.7 268.8h0.8v0.8h-0.8zM483.5 253.5h0.8v0.8h-0.8zM478.1 258.0h0.8v0.8h-0.8zM485.7 260.3h0.8v0.8h-0.8zM483.3 268.4h0.8v0.8h-0.8zM482.7 260.6h0.8v0.8h-0.8zM487.1 266.3h0.8v0.8h-0.8zM485.6 262.8h0.8v0.8h-0.8zM486.8 255.3h0.8v0.8h-0.8zM491.2 271.5h0.8v0.8h-0.8zM487.3 249.4h0.8v0.8h-0.8zM485.9 266.4h0.8v0.8h-0.8zM485.3 270.7h0.8v0.8h-0.8zM491.3 269.8h0.8v0.8h-0.8zM484.5 272.6h0.8v0.8h-0.8zM490.2 250.3h0.8v0.8h-0.8zM485.8 268.0h0.8v0.8h-0.8zM484.8 271.0h0.8v0.8h-0.8zM482.9 251.7h0.8v0.8h-0.8zM487.4 263.1h0.8v0.8h-0.8zM488.3 248.0h0.8v0.8h-0.8zM485.2 268.3h0.8v0.8h-0.8zM484.9 256.1h0.8v0.8h-0.8zM482.4 248.9h0.8v0.8h-0.8zM484.6 261.2h0.8v0.8h-0.8zM482.9 249.1h0.8v0.8h-0.8zM489.0 267.0h0.8v0.8h-0.8zM486.2 258.3h0.8v0.8h-0.8zM483.2 267.1h0.8v0.8h-0.8zM489.9 248.6h0.8v0.8h-0.8zM483.8 265.9h0.8v0.8h-0.8zM482.0 257.7h0.8v0.8h-0.8zM484.4 251.4h0.8v0.8h-0.8zM487.2 260.0h0.8v0.8h-0.8zM485.0 267.9h0.8v0.8h-0.8zM487.5 265.5h0.8v0.8h-0.8zM486.4 255.2h0.8v0.8h-0.8zM488.1 257.1h0.8v0.8h-0.8zM480.5 263.3h0.8v0.8h-0.8zM483.9 255.2h0.8v0.8h-0.8zM482.2 256.7h0.8v0.8h-0.8zM483.9 260.6h0.8v0.8h-0.8zM488.3 264.1h0.8v0.8h-0.8zM486.0 254.9h0.8v0.8h-0.8zM487.3 250.9h0.8v0.8h-0.8zM484.8 271.2h0.8v0.8h-0.8zM485.4 249.0h0.8v0.8h-0.8zM480.8 267.6h0.8v0.8h-0.8zM487.5 253.0h0.8v0.8h-0.8zM485.0 253.8h0.8v0.8h-0.8zM488.1 262.7h0.8v0.8h-0.8zM489.0 259.5h0.8v0.8h-0.8zM485.7 265.1h0.8v0.8h-0.8zM483.9 264.5h0.8v0.8h-0.8zM487.6 254.2h0.8v0.8h-0.8zM486.8 263.1h0.8v0.8h-0.8zM487.7 265.4h0.8v0.8h-0.8zM489.5 257.9h0.8v0.8h-0.8zM485.0 254.2h0.8v0.8h-0.8zM484.7 267.1h0.8v0.8h-0.8zM483.9 250.2h0.8v0.8h-0.8zM490.0 268.3h0.8v0.8h-0.8zM487.1 264.7h0.8v0.8h-0.8zM482.5 248.7h0.8v0.8h-0.8zM484.3 268.4h0.8v0.8h-0.8zM482.5 256.6h0.8v0.8h-0.8zM484.9 266.8h0.8v0.8h-0.8zM483.6 269.0h0.8v0.8h-0.8zM485.2 253.5h0.8v0.8h-0.8zM486.7 265.0h0.8v0.8h-0.8zM487.3 261.8h0.8v0.8h-0.8zM484.6 269.5h0.8v0.8h-0.8zM485.8 253.7h0.8v0.8h-0.8zM486.2 248.6h0.8v0.8h-0.8zM484.8 251.0h0.8v0.8h-0.8zM485.2 261.0h0.8v0.8h-0.8zM480.9 262.8h0.8v0.8h-0.8zM482.7 269.9h0.8v0.8h-0.8zM486.6 254.3h0.8v0.8h-0.8zM483.7 271.2h0.8v0.8h-0.8zM482.8 269.5h0.8v0.8h-0.8zM485.8 264.3h0.8v0.8h-0.8zM484.3 261.0h0.8v0.8h-0.8zM490.2 248.5h0.8v0.8h-0.8zM487.4 254.5h0.8v0.8h-0.8zM484.6 271.7h0.8v0.8h-0.8zM483.4 262.9h0.8v0.8h-0.8zM483.1 252.3h0.8v0.8h-0.8zM483.8 271.8h0.8v0.8h-0.8zM481.6 251.2h0.8v0.8h-0.8zM483.9 270.4h0.8v0.8h-0.8zM485.2 264.6h0.8v0.8h-0.8zM487.9 255.7h0.8v0.8h-0.8zM487.2 252.3h0.8v0.8h-0.8zM487.8 261.2h0.8v0.8h-0.8zM487.4 248.5h0.8v0.8h-0.8zM485.7 260.2h0.8v0.8h-0.8zM489.9 256.4h0.8v0.8h-0.8zM484.0 248.4h0.8v0.8h-0.8zM488.3 265.2h0.8v0.8h-0.8zM488.7 253.4h0.8v0.8h-0.8zM486.6 253.9h0.8v0.8h-0.8zM484.1 249.3h0.8v0.8h-0.8zM488.3 256.0h0.8v0.8h-0.8zM486.6 256.6h0.8v0.8h-0.8zM481.2 268.3h0.8v0.8h-0.8zM485.2 252.7h0.8v0.8h-0.8zM486.3 254.2h0.8v0.8h-0.8zM489.4 266.4h0.8v0.8h-0.8zM490.4 254.2h0.8v0.8h-0.8z"/>
<path fill="#000" fill-opacity="0.26" d="M484.1 253.0h0.8v0.8h-0.8zM485.4 259.5h0.8v0.8h-0.8zM488.5 254.2h0.8v0.8h-0.8zM488.3 269.0h0.8v0.8h-0.8zM489.8 259.6h0.8v0.8h-0.8zM481.0 268.0h0.8v0.8h-0.8zM487.0 268.2h0.8v0.8h-0.8zM483.2 255.1h0.8v0.8h-0.8zM489.8 267.9h0.8v0.8h-0.8zM483.7 256.0h0.8v0.8h-0.8zM485.4 264.9h0.8v0.8h-0.8zM486.8 258.3h0.8v0.8h-0.8zM481.1 263.5h0.8v0.8h-0.8zM485.3 264.2h0.8v0.8h-0.8zM483.6 253.6h0.8v0.8h-0.8zM487.1 253.5h0.8v0.8h-0.8zM487.8 258.5h0.8v0.8h-0.8zM487.0 264.7h0.8v0.8h-0.8zM488.7 258.5h0.8v0.8h-0.8zM484.2 271.8h0.8v0.8h-0.8zM488.6 259.4h0.8v0.8h-0.8zM488.3 261.7h0.8v0.8h-0.8zM485.8 266.1h0.8v0.8h-0.8zM480.5 262.7h0.8v0.8h-0.8zM485.2 254.8h0.8v0.8h-0.8zM489.1 250.3h0.8v0.8h-0.8zM483.7 258.0h0.8v0.8h-0.8zM487.2 257.9h0.8v0.8h-0.8zM483.7 256.6h0.8v0.8h-0.8zM482.4 268.6h0.8v0.8h-0.8zM485.6 261.0h0.8v0.8h-0.8zM487.4 261.7h0.8v0.8h-0.8zM488.3 269.0h0.8v0.8h-0.8zM488.2 249.1h0.8v0.8h-0.8zM486.5 265.1h0.8v0.8h-0.8zM487.8 272.0h0.8v0.8h-0.8zM489.2 270.0h0.8v0.8h-0.8zM488.5 249.4h0.8v0.8h-0.8zM482.5 259.6h0.8v0.8h-0.8zM487.8 272.2h0.8v0.8h-0.8zM484.8 267.5h0.8v0.8h-0.8zM487.2 267.9h0.8v0.8h-0.8zM484.4 263.8h0.8v0.8h-0.8zM488.9 271.9h0.8v0.8h-0.8zM486.6 251.9h0.8v0.8h-0.8zM482.8 252.2h0.8v0.8h-0.8zM484.6 258.8h0.8v0.8h-0.8zM487.2 254.7h0.8v0.8h-0.8zM486.3 248.2h0.8v0.8h-0.8zM485.5 257.5h0.8v0.8h-0.8zM492.6 271.4h0.8v0.8h-0.8zM482.2 261.9h0.8v0.8h-0.8zM483.9 269.1h0.8v0.8h-0.8zM485.5 258.8h0.8v0.8h-0.8zM479.0 252.2h0.8v0.8h-0.8zM486.8 264.1h0.8v0.8h-0.8zM487.4 261.0h0.8v0.8h-0.8zM485.5 251.4h0.8v0.8h-0.8zM485.2 251.1h0.8v0.8h-0.8zM486.6 269.3h0.8v0.8h-0.8zM485.7 265.0h0.8v0.8h-0.8zM483.8 267.9h0.8v0.8h-0.8zM484.2 266.5h0.8v0.8h-0.8zM488.9 260.9h0.8v0.8h-0.8zM484.9 266.3h0.8v0.8h-0.8zM481.8 248.6h0.8v0.8h-0.8zM487.3 251.4h0.8v0.8h-0.8zM483.8 258.8h0.8v0.8h-0.8zM482.2 261.3h0.8v0.8h-0.8zM482.9 270.1h0.8v0.8h-0.8zM490.5 271.9h0.8v0.8h-0.8zM480.8 262.4h0.8v0.8h-0.8zM486.1 269.9h0.8v0.8h-0.8zM485.3 255.1h0.8v0.8h-0.8zM484.9 248.7h0.8v0.8h-0.8zM487.1 253.2h0.8v0.8h-0.8zM484.8 249.3h0.8v0.8h-0.8zM490.1 264.7h0.8v0.8h-0.8zM485.2 254.7h0.8v0.8h-0.8zM486.5 256.0h0.8v0.8h-0.8zM491.8 248.8h0.8v0.8h-0.8zM483.4 253.6h0.8v0.8h-0.8zM484.8 259.7h0.8v0.8h-0.8zM489.0 272.4h0.8v0.8h-0.8zM488.2 269.5h0.8v0.8h-0.8zM481.8 254.1h0.8v0.8h-0.8zM490.1 259.5h0.8v0.8h-0.8zM485.9 269.4h0.8v0.8h-0.8zM482.5 252.2h0.8v0.8h-0.8zM488.7 255.0h0.8v0.8h-0.8zM486.4 253.3h0.8v0.8h-0.8zM484.7 270.3h0.8v0.8h-0.8zM486.8 266.5h0.8v0.8h-0.8zM488.5 254.9h0.8v0.8h-0.8zM484.4 257.0h0.8v0.8h-0.8zM485.8 264.1h0.8v0.8h-0.8zM486.7 250.5h0.8v0.8h-0.8zM485.3 258.9h0.8v0.8h-0.8zM485.8 259.0h0.8v0.8h-0.8zM483.1 255.9h0.8v0.8h-0.8zM484.5 269.7h0.8v0.8h-0.8zM487.2 254.6h0.8v0.8h-0.8zM484.6 251.2h0.8v0.8h-0.8zM485.6 254.4h0.8v0.8h-0.8zM485.0 266.6h0.8v0.8h-0.8zM486.3 251.2h0.8v0.8h-0.8zM485.4 261.9h0.8v0.8h-0.8zM488.1 263.6h0.8v0.8h-0.8zM483.4 252.0h0.8v0.8h-0.8zM491.0 266.8h0.8v0.8h-0.8zM485.0 271.0h0.8v0.8h-0.8zM484.9 252.5h0.8v0.8h-0.8zM486.0 249.4h0.8v0.8h-0.8zM483.2 249.5h0.8v0.8h-0.8zM482.3 251.3h0.8v0.8h-0.8zM487.7 258.8h0.8v0.8h-0.8zM485.7 249.3h0.8v0.8h-0.8zM483.6 262.1h0.8v0.8h-0.8zM489.2 255.7h0.8v0.8h-0.8zM485.4 252.7h0.8v0.8h-0.8zM486.9 258.9h0.8v0.8h-0.8zM486.3 250.4h0.8v0.8h-0.8zM483.2 258.5h0.8v0.8h-0.8zM486.9 250.7h0.8v0.8h-0.8zM485.6 259.6h0.8v0.8h-0.8zM486.6 271.2h0.8v0.8h-0.8zM490.9 263.6h0.8v0.8h-0.8zM481.0 253.8h0.8v0.8h-0.8z"/>
<path fill="#000" fill-opacity="0.26" d="M484.2 254.3h0.8v0.8h-0.8zM488.7 272.2h0.8v0.8h-0.8zM485.9 263.3h0.8v0.8h-0.8zM482.6 257.0h0.8v0.8h-0.8zM487.4 269.0h0.8v0.8h-0.8zM485.4 263.2h0.8v0.8h-0.8zM486.9 255.8h0.8v0.8h-0.8zM479.9 266.1h0.8v0.8h-0.8zM489.5 258.0h0.8v0.8h-0.8zM488.4 271.4h0.8v0.8h-0.8zM485.5 263.2h0.8v0.8h-0.8zM483.5 252.0h0.8v0.8h-0.8zM483.6 268.9h0.8v0.8h-0.8zM484.7 250.7h0.8v0.8h-0.8zM489.6 259.9h0.8v0.8h-0.8zM487.8 252.5h0.8v0.8h-0.8zM484.7 253.5h0.8v0.8h-0.8zM483.3 265.5h0.8v0.8h-0.8zM484.3 260.2h0.8v0.8h-0.8zM481.6 259.0h0.8v0.8h-0.8zM483.6 256.9h0.8v0.8h-0.8zM484.2 267.1h0.8v0.8h-0.8zM489.2 250.8h0.8v0.8h-0.8zM487.6 259.7h0.8v0.8h-0.8zM483.3 253.9h0.8v0.8h-0.8zM481.1 265.6h0.8v0.8h-0.8zM487.3 248.8h0.8v0.8h-0.8zM489.3 256.9h0.8v0.8h-0.8zM484.6 264.5h0.8v0.8h-0.8zM487.7 272.5h0.8v0.8h-0.8zM482.6 248.7h0.8v0.8h-0.8zM486.5 249.4h0.8v0.8h-0.8zM484.8 256.6h0.8v0.8h-0.8zM486.3 252.9h0.8v0.8h-0.8zM488.3 262.3h0.8v0.8h-0.8zM485.5 263.5h0.8v0.8h-0.8zM486.7 271.6h0.8v0.8h-0.8zM487.3 259.3h0.8v0.8h-0.8zM486.5 265.7h0.8v0.8h-0.8zM488.2 254.9h0.8v0.8h-0.8zM480.6 249.6h0.8v0.8h-0.8zM485.7 271.8h0.8v0.8h-0.8zM485.2 269.0h0.8v0.8h-0.8zM489.6 255.6h0.8v0.8h-0.8zM488.7 266.7h0.8v0.8h-0.8zM479.2 250.5h0.8v0.8h-0.8zM484.6 253.4h0.8v0.8h-0.8zM488.7 249.9h0.8v0.8h-0.8zM482.4 252.8h0.8v0.8h-0.8zM486.6 267.2h0.8v0.8h-0.8zM485.4 270.0h0.8v0.8h-0.8zM485.7 251.6h0.8v0.8h-0.8zM477.9 248.0h0.8v0.8h-0.8zM490.3 259.2h0.8v0.8h-0.8zM487.4 261.1h0.8v0.8h-0.8zM484.8 251.7h0.8v0.8h-0.8zM486.7 265.5h0.8v0.8h-0.8zM485.1 266.3h0.8v0.8h-0.8zM485.3 249.4h0.8v0.8h-0.8zM481.0 268.1h0.8v0.8h-0.8zM485.1 265.0h0.8v0.8h-0.8zM488.5 264.8h0.8v0.8h-0.8zM484.5 258.0h0.8v0.8h-0.8zM486.0 267.4h0.8v0.8h-0.8zM488.9 248.6h0.8v0.8h-0.8zM487.2 270.7h0.8v0.8h-0.8zM484.9 263.0h0.8v0.8h-0.8zM484.3 271.1h0.8v0.8h-0.8zM487.3 253.1h0.8v0.8h-0.8zM485.5 265.6h0.8v0.8h-0.8zM488.9 271.8h0.8v0.8h-0.8zM488.5 257.1h0.8v0.8h-0.8zM487.5 255.0h0.8v0.8h-0.8zM484.4 269.5h0.8v0.8h-0.8zM487.7 255.3h0.8v0.8h-0.8zM491.0 269.0h0.8v0.8h-0.8zM489.5 252.8h0.8v0.8h-0.8zM485.6 253.0h0.8v0.8h-0.8zM483.6 254.7h0.8v0.8h-0.8zM486.5 253.5h0.8v0.8h-0.8zM485.2 257.2h0.8v0.8h-0.8zM484.8 265.3h0.8v0.8h-0.8zM483.3 265.3h0.8v0.8h-0.8zM485.6 250.9h0.8v0.8h-0.8zM489.4 253.0h0.8v0.8h-0.8zM486.1 269.0h0.8v0.8h-0.8zM483.8 266.2h0.8v0.8h-0.8zM486.1 253.8h0.8v0.8h-0.8zM487.5 269.1h0.8v0.8h-0.8zM482.5 271.2h0.8v0.8h-0.8zM488.8 268.7h0.8v0.8h-0.8zM481.9 270.6h0.8v0.8h-0.8zM486.4 256.0h0.8v0.8h-0.8zM488.9 268.1h0.8v0.8h-0.8zM486.2 264.4h0.8v0.8h-0.8zM482.2 266.1h0.8v0.8h-0.8zM485.7 255.0h0.8v0.8h-0.8zM485.7 261.4h0.8v0.8h-0.8zM485.0 265.9h0.8v0.8h-0.8zM483.5 257.8h0.8v0.8h-0.8zM485.2 255.9h0.8v0.8h-0.8zM487.2 268.6h0.8v0.8h-0.8zM488.2 259.3h0.8v0.8h-0.8zM484.6 258.0h0.8v0.8h-0.8zM479.9 265.0h0.8v0.8h-0.8zM481.1 256.6h0.8v0.8h-0.8zM482.3 266.5h0.8v0.8h-0.8zM482.9 259.5h0.8v0.8h-0.8zM483.4 248.0h0.8v0.8h-0.8zM489.3 258.1h0.8v0.8h-0.8zM487.4 272.2h0.8v0.8h-0.8zM484.1 253.3h0.8v0.8h-0.8zM485.8 254.2h0.8v0.8h-0.8zM489.4 249.3h0.8v0.8h-0.8zM483.4 249.4h0.8v0.8h-0.8zM484.2 261.3h0.8v0.8h-0.8zM485.7 266.0h0.8v0.8h-0.8zM480.5 270.0h0.8v0.8h-0.8zM488.2 259.0h0.8v0.8h-0.8zM486.0 272.0h0.8v0.8h-0.8zM485.3 255.1h0.8v0.8h-0.8z"/>
<path fill="#000" fill-opacity="0.26" d="M489.0 269.3h0.8v0.8h-0.8zM485.3 256.9h0.8v0.8h-0.8zM482.3 268.3h0.8v0.8h-0.8zM488.5 248.3h0.8v0.8h-0.8zM484.1 250.2h0.8v0.8h-0.8zM484.3 250.3h0.8v0.8h-0.8zM482.0 267.3h0.8v0.8h-0.8zM480.5 260.1h0.8v0.8h-0.8zM480.9 265.8h0.8v0.8h-0.8zM484.0 255.2h0.8v0.8h-0.8zM486.5 255.2h0.8v0.8h-0.8zM488.7 252.9h0.8v0.8h-0.8zM485.8 263.5h0.8v0.8h-0.8zM483.4 258.0h0.8v0.8h-0.8zM484.8 258.3h0.8v0.8h-0.8zM487.3 263.6h0.8v0.8h-0.8zM486.2 264.2h0.8v0.8h-0.8zM487.9 256.6h0.8v0.8h-0.8zM485.0 255.7h0.8v0.8h-0.8zM487.3 254.3h0.8v0.8h-0.8zM485.8 261.8h0.8v0.8h-0.8zM488.5 265.9h0.8v0.8h-0.8zM486.0 255.9h0.8v0.8h-0.8zM483.7 252.1h0.8v0.8h-0.8zM482.2 257.8h0.8v0.8h-0.8zM479.3 271.6h0.8v0.8h-0.8zM485.9 268.5h0.8v0.8h-0.8zM485.8 255.2h0.8v0.8h-0.8zM488.0 249.7h0.8v0.8h-0.8zM484.2 250.2h0.8v0.8h-0.8zM488.6 263.1h0.8v0.8h-0.8zM488.7 259.6h0.8v0.8h-0.8zM485.0 257.1h0.8v0.8h-0.8zM483.2 254.9h0.8v0.8h-0.8zM485.5 250.1h0.8v0.8h-0.8zM491.9 263.2h0.8v0.8h-0.8zM481.4 251.3h0.8v0.8h-0.8zM487.5 252.2h0.8v0.8h-0.8zM483.4 257.8h0.8v0.8h-0.8zM487.5 266.7h0.8v0.8h-0.8zM483.7 249.9h0.8v0.8h-0.8zM483.0 268.8h0.8v0.8h-0.8zM489.4 254.3h0.8v0.8h-0.8zM484.4 254.5h0.8v0.8h-0.8zM484.4 251.5h0.8v0.8h-0.8zM483.1 271.4h0.8v0.8h-0.8zM485.2 260.7h0.8v0.8h-0.8zM484.7 263.6h0.8v0.8h-0.8zM488.0 264.9h0.8v0.8h-0.8zM488.1 269.9h0.8v0.8h-0.8zM489.5 256.9h0.8v0.8h-0.8zM487.6 252.5h0.8v0.8h-0.8zM487.0 250.2h0.8v0.8h-0.8zM484.7 248.2h0.8v0.8h-0.8zM484.6 269.0h0.8v0.8h-0.8zM484.5 251.7h0.8v0.8h-0.8zM483.2 259.7h0.8v0.8h-0.8zM480.7 267.2h0.8v0.8h-0.8zM483.0 256.6h0.8v0.8h-0.8zM488.1 264.5h0.8v0.8h-0.8zM483.5 271.1h0.8v0.8h-0.8zM480.6 253.5h0.8v0.8h-0.8zM487.2 254.5h0.8v0.8h-0.8zM489.6 258.8h0.8v0.8h-0.8zM483.4 271.6h0.8v0.8h-0.8zM482.1 252.7h0.8v0.8h-0.8zM489.2 271.0h0.8v0.8h-0.8zM488.4 272.6h0.8v0.8h-0.8zM489.5 256.8h0.8v0.8h-0.8zM484.5 254.7h0.8v0.8h-0.8zM484.1 267.3h0.8v0.8h-0.8zM483.1 249.9h0.8v0.8h-0.8zM484.6 272.0h0.8v0.8h-0.8zM485.1 261.7h0.8v0.8h-0.8zM486.5 267.9h0.8v0.8h-0.8zM485.0 271.2h0.8v0.8h-0.8zM485.1 249.8h0.8v0.8h-0.8zM479.9 253.0h0.8v0.8h-0.8zM488.6 266.8h0.8v0.8h-0.8zM486.7 267.9h0.8v0.8h-0.8zM485.5 263.6h0.8v0.8h-0.8zM483.8 258.4h0.8v0.8h-0.8zM480.8 268.2h0.8v0.8h-0.8zM486.6 258.2h0.8v0.8h-0.8zM482.5 263.3h0.8v0.8h-0.8zM485.5 270.5h0.8v0.8h-0.8zM487.2 261.8h0.8v0.8h-0.8zM485.1 261.6h0.8v0.8h-0.8zM487.3 251.6h0.8v0.8h-0.8zM483.5 255.8h0.8v0.8h-0.8zM484.5 257.2h0.8v0.8h-0.8zM485.0 259.8h0.8v0.8h-0.8zM488.3 254.7h0.8v0.8h-0.8zM488.5 266.3h0.8v0.8h-0.8zM482.1 252.4h0.8v0.8h-0.8zM487.9 270.5h0.8v0.8h-0.8zM486.6 262.9h0.8v0.8h-0.8zM483.8 251.6h0.8v0.8h-0.8zM486.9 258.4h0.8v0.8h-0.8zM481.9 264.6h0.8v0.8h-0.8zM487.4 258.3h0.8v0.8h-0.8zM483.3 258.3h0.8v0.8h-0.8zM484.9 267.3h0.8v0.8h-0.8zM480.8 258.8h0.8v0.8h-0.8zM488.1 260.0h0.8v0.8h-0.8zM486.2 272.6h0.8v0.8h-0.8zM483.2 251.4h0.8v0.8h-0.8zM484.4 271.5h0.8v0.8h-0.8zM489.4 249.9h0.8v0.8h-0.8zM487.4 251.6h0.8v0.8h-0.8zM484.4 249.3h0.8v0.8h-0.8zM488.7 254.5h0.8v0.8h-0.8zM479.7 254.2h0.8v0.8h-0.8zM489.3 254.9h0.8v0.8h-0.8zM485.6 260.5h0.8v0.8h-0.8zM486.5 252.1h0.8v0.8h-0.8zM484.3 266.0h0.8v0.8h-0.8zM486.2 257.6h0.8v0.8h-0.8zM486.4 254.5h0.8v0.8h-0.8zM485.7 262.1h0.8v0.8h-0.8z"/>
<path fill="#000" fill-opacity="0.16" d="M488.6 258.2h0.8v0.8h-0.8zM477.1 259.5h0.8v0.8h-0.8zM487.3 247.0h0.8v0.8h-0.8zM493.3 245.1h0.8v0.8h-0.8zM484.7 263.7h0.8v0.8h-0.8zM486.9 253.8h0.8v0.8h-0.8zM487.3 258.7h0.8v0.8h-0.8zM483.8 258.6h0.8v0.8h-0.8zM480.4 244.5h0.8v0.8h-0.8zM482.4 251.2h0.8v0.8h-0.8zM489.3 252.3h0.8v0.8h-0.8zM487.9 265.9h0.8v0.8h-0.8zM478.9 266.1h0.8v0.8h-0.8zM493.7 257.7h0.8v0.8h-0.8zM490.6 267.6h0.8v0.8h-0.8zM494.3 271.7h0.8v0.8h-0.8zM486.4 263.8h0.8v0.8h-0.8zM483.5 259.4h0.8v0.8h-0.8zM481.7 241.5h0.8v0.8h-0.8zM486.7 265.6h0.8v0.8h-0.8zM486.1 265.6h0.8v0.8h-0.8zM488.7 259.5h0.8v0.8h-0.8z"/>
<path fill="#000" fill-opacity="0.16" d="M478.8 262.7h0.8v0.8h-0.8zM480.0 250.4h0.8v0.8h-0.8zM480.3 265.3h0.8v0.8h-0.8zM481.9 269.9h0.8v0.8h-0.8zM485.4 260.1h0.8v0.8h-0.8zM481.2 255.3h0.8v0.8h-0.8zM484.5 251.2h0.8v0.8h-0.8zM485.4 264.6h0.8v0.8h-0.8zM484.1 264.1h0.8v0.8h-0.8zM482.2 253.1h0.8v0.8h-0.8zM484.8 259.1h0.8v0.8h-0.8zM491.1 254.8h0.8v0.8h-0.8zM488.3 258.8h0.8v0.8h-0.8zM486.0 261.5h0.8v0.8h-0.8zM482.0 261.6h0.8v0.8h-0.8zM488.7 266.0h0.8v0.8h-0.8zM483.0 237.8h0.8v0.8h-0.8zM485.8 258.1h0.8v0.8h-0.8zM481.0 262.0h0.8v0.8h-0.8zM491.3 269.1h0.8v0.8h-0.8zM483.1 261.0h0.8v0.8h-0.8zM478.1 250.7h0.8v0.8h-0.8z"/>
<path fill="#000" fill-opacity="0.16" d="M488.1 244.9h0.8v0.8h-0.8zM486.9 270.0h0.8v0.8h-0.8zM484.1 253.0h0.8v0.8h-0.8zM478.8 256.1h0.8v0.8h-0.8zM487.0 263.8h0.8v0.8h-0.8zM482.9 263.7h0.8v0.8h-0.8zM485.9 267.4h0.8v0.8h-0.8zM486.8 268.3h0.8v0.8h-0.8zM484.6 271.3h0.8v0.8h-0.8zM484.2 267.1h0.8v0.8h-0.8zM491.7 264.0h0.8v0.8h-0.8zM489.0 256.4h0.8v0.8h-0.8zM488.1 259.4h0.8v0.8h-0.8zM488.5 263.8h0.8v0.8h-0.8zM484.9 263.1h0.8v0.8h-0.8zM486.5 257.0h0.8v0.8h-0.8zM490.8 264.9h0.8v0.8h-0.8zM487.5 271.8h0.8v0.8h-0.8zM485.7 260.4h0.8v0.8h-0.8zM482.3 251.4h0.8v0.8h-0.8zM484.2 265.5h0.8v0.8h-0.8zM474.6 260.0h0.8v0.8h-0.8zM481.0 262.9h0.8v0.8h-0.8zM479.6 250.8h0.8v0.8h-0.8z"/>
<path fill="#000" fill-opacity="0.16" d="M483.8 265.4h0.8v0.8h-0.8zM489.6 255.8h0.8v0.8h-0.8zM479.0 259.2h0.8v0.8h-0.8zM485.7 270.0h0.8v0.8h-0.8zM480.3 253.5h0.8v0.8h-0.8zM484.0 265.8h0.8v0.8h-0.8zM482.1 247.0h0.8v0.8h-0.8zM483.9 243.5h0.8v0.8h-0.8zM483.3 260.9h0.8v0.8h-0.8zM485.5 259.6h0.8v0.8h-0.8zM487.0 268.7h0.8v0.8h-0.8zM481.1 268.4h0.8v0.8h-0.8zM484.4 256.1h0.8v0.8h-0.8zM491.5 259.5h0.8v0.8h-0.8zM477.0 266.5h0.8v0.8h-0.8zM487.7 263.2h0.8v0.8h-0.8zM486.1 256.2h0.8v0.8h-0.8zM487.3 268.5h0.8v0.8h-0.8zM484.6 263.4h0.8v0.8h-0.8zM483.6 257.7h0.8v0.8h-0.8zM481.6 248.1h0.8v0.8h-0.8zM489.3 262.4h0.8v0.8h-0.8zM483.3 246.0h0.8v0.8h-0.8zM489.3 272.2h0.8v0.8h-0.8z"/>
<path fill="#000" fill-opacity="0.6" d="M478.1 273.0h.8v.8h-.8zM478.2 272.7h.8v.8h-.8zM483.5 272.4h.8v.8h-.8zM492.9 272.7h.8v.8h-.8zM486.4 272.7h.8v.8h-.8zM482.9 272.8h.8v.8h-.8zM476.1 272.8h.8v.8h-.8zM489.0 272.3h.8v.8h-.8zM488.3 272.7h.8v.8h-.8zM483.4 272.9h.8v.8h-.8zM480.4 272.1h.8v.8h-.8zM486.6 272.7h.8v.8h-.8zM485.6 272.6h.8v.8h-.8zM481.3 272.7h.8v.8h-.8zM483.7 272.2h.8v.8h-.8zM492.0 272.8h.8v.8h-.8zM484.2 272.9h.8v.8h-.8zM493.1 273.0h.8v.8h-.8zM484.7 273.1h.8v.8h-.8zM484.3 272.6h.8v.8h-.8zM476.3 272.9h.8v.8h-.8zM485.0 272.6h.8v.8h-.8zM481.5 273.0h.8v.8h-.8zM481.8 272.8h.8v.8h-.8zM477.9 272.5h.8v.8h-.8zM480.0 272.6h.8v.8h-.8zM488.8 273.1h.8v.8h-.8zM485.0 272.5h.8v.8h-.8zM492.1 272.4h.8v.8h-.8zM491.1 272.4h.8v.8h-.8zM480.0 272.3h.8v.8h-.8zM489.6 272.6h.8v.8h-.8zM492.7 273.1h.8v.8h-.8zM492.3 272.7h.8v.8h-.8zM485.8 272.3h.8v.8h-.8zM479.0 272.6h.8v.8h-.8zM476.3 273.1h.8v.8h-.8zM493.2 272.9h.8v.8h-.8zM483.7 273.0h.8v.8h-.8zM492.8 272.6h.8v.8h-.8zM491.4 272.8h.8v.8h-.8zM484.3 272.9h.8v.8h-.8zM486.6 272.4h.8v.8h-.8zM486.3 272.5h.8v.8h-.8zM481.6 272.1h.8v.8h-.8z"/>
<line x1="457.0" y1="273.5" x2="519.5" y2="273.5" stroke="#555" stroke-width="0.9"/>
<line x1="456.0" y1="219.3" x2="457.5" y2="219.3" stroke="#666" stroke-width="0.6"/>
<line x1="456.0" y1="231.7" x2="457.5" y2="231.7" stroke="#666" stroke-width="0.6"/>
<line x1="456.0" y1="244.2" x2="457.5" y2="244.2" stroke="#666" stroke-width="0.6"/>
<line x1="456.0" y1="256.6" x2="457.5" y2="256.6" stroke="#666" stroke-width="0.6"/>
<line x1="456.0" y1="269.0" x2="457.5" y2="269.0" stroke="#666" stroke-width="0.6"/>
<line x1="465.0" y1="273.5" x2="465.0" y2="274.7" stroke="#666" stroke-width="0.6"/>
<line x1="477.2" y1="273.5" x2="477.2" y2="274.7" stroke="#666" stroke-width="0.6"/>
<line x1="489.4" y1="273.5" x2="489.4" y2="274.7" stroke="#666" stroke-width="0.6"/>
<line x1="501.6" y1="273.5" x2="501.6" y2="274.7" stroke="#666" stroke-width="0.6"/>
<line x1="513.8" y1="273.5" x2="513.8" y2="274.7" stroke="#666" stroke-width="0.6"/>
<rect x="506.8" y="212.3" width="12.199999999999989" height="8" fill="#fff"/>
<text x="457.6" y="219.20000000000002" font-size="5.9" fill="#1a1a1a">0</text>
<text x="519.2" y="219.20000000000002" font-size="5.9" text-anchor="end" fill="#1a1a1a">17.8</text>
<text x="457.6" y="273.3" font-size="5.9" fill="#1a1a1a">0</text>
<text x="519.2" y="273.3" font-size="5.9" text-anchor="end" fill="#1a1a1a">82.2</text>
<text x="455.2" y="220.3" font-size="3.2" text-anchor="end" fill="#999">10</text>
<text x="455.2" y="236.6" font-size="3.2" text-anchor="end" fill="#999">10</text>
<text x="455.2" y="252.9" font-size="3.2" text-anchor="end" fill="#999">10</text>
<text x="455.2" y="269.2" font-size="3.2" text-anchor="end" fill="#999">10</text>
<text x="465.0" y="278.5" font-size="3.2" text-anchor="middle" fill="#999">10</text>
<text x="477.2" y="278.5" font-size="3.2" text-anchor="middle" fill="#999">10</text>
<text x="489.4" y="278.5" font-size="3.2" text-anchor="middle" fill="#999">10</text>
<text x="501.6" y="278.5" font-size="3.2" text-anchor="middle" fill="#999">10</text>
<text x="513.8" y="278.5" font-size="3.2" text-anchor="middle" fill="#999">10</text>
<path d="M368.5,257.6 L368.5,287.7 L406.5,287.7" fill="none" stroke="#000" stroke-width="1.9"/>
<path d="M365.0,261.6 L368.5,257.20000000000005 L372.0,261.6" fill="none" stroke="#000" stroke-width="1.9"/>
<path d="M402.3,284.2 L406.9,287.7 L402.3,291.2" fill="none" stroke="#000" stroke-width="1.9"/>
<text transform="translate(363.6,273.5) rotate(-90) scale(1,1.14)" font-size="9.5" text-anchor="middle" fill="#000" stroke="#000" stroke-width="0.1">CD33</text>
<text transform="translate(388.6,297.5) scale(1,1.12)" font-size="9.2" text-anchor="middle" fill="#000" stroke="#000" stroke-width="0.1">CD45</text>
</svg></body></html>
